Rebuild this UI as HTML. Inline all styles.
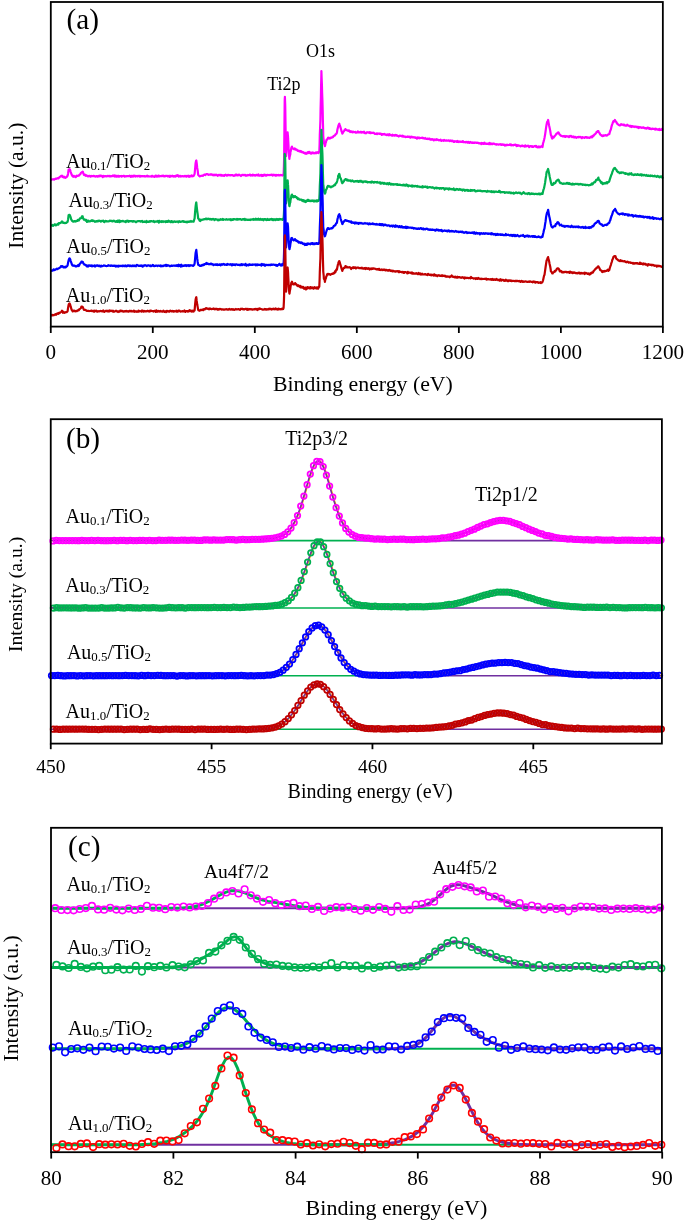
<!DOCTYPE html>
<html><head><meta charset="utf-8"><title>XPS spectra</title>
<style>
html,body{margin:0;padding:0;background:#fff;width:685px;height:1221px;overflow:hidden}
svg{display:block;will-change:transform}
text{font-family:"Liberation Serif", serif;fill:#000}
</style></head><body>
<svg width="685" height="1221" viewBox="0 0 685 1221">
<rect width="685" height="1221" fill="#fff"/>
<g fill="none" stroke-width="2.2" stroke-linejoin="round">
<path stroke="#ff00ff" d="M50.8 179.8 51.3 179.8 51.8 179.6 52.3 179.3 52.8 179.4 53.3 179.2 53.8 179.4 54.3 179.7 54.9 178.9 55.4 178.7 55.9 179.0 56.4 178.8 56.9 178.6 57.4 178.2 57.9 178.4 58.4 178.5 58.9 177.5 59.4 177.5 60.0 176.7 60.5 176.5 61.0 176.0 61.5 176.3 62.0 175.6 62.5 176.6 63.0 177.1 63.5 177.4 64.0 176.7 64.5 177.4 65.1 177.7 65.6 177.8 66.1 177.3 66.6 177.0 67.1 176.3 67.6 175.7 68.1 173.4 68.6 169.7 69.1 169.4 69.6 169.1 70.2 170.2 70.7 172.0 71.2 173.4 71.7 174.8 72.2 175.8 72.7 176.3 73.2 176.8 73.7 175.8 74.2 176.7 74.7 176.5 75.3 176.3 75.8 177.1 76.3 176.5 76.8 175.7 77.3 176.0 77.8 176.0 78.3 175.6 78.8 175.7 79.3 174.9 79.8 174.5 80.4 174.2 80.9 172.9 81.4 172.6 81.9 172.1 82.4 172.1 82.7 171.6 82.9 172.3 83.4 173.4 83.9 174.8 84.4 175.2 84.9 174.6 85.5 175.1 86.0 175.9 86.5 175.3 87.0 175.8 87.5 176.0 88.0 176.5 88.5 176.3 89.0 175.9 89.5 175.9 90.0 176.0 90.6 176.6 91.1 175.9 91.6 176.0 92.1 176.2 92.6 176.1 93.1 176.1 93.6 175.8 94.1 176.1 94.6 176.0 95.1 176.6 95.7 176.4 96.2 176.2 96.7 176.4 97.2 176.1 97.7 176.6 98.2 176.2 98.7 176.4 99.2 175.7 99.7 176.3 100.2 175.6 100.8 175.5 101.3 176.1 101.8 175.9 102.3 176.3 102.8 177.0 103.3 175.9 103.8 176.0 104.3 176.3 104.8 176.4 105.4 176.1 105.9 176.1 106.4 176.4 106.9 176.4 107.4 175.8 107.9 176.2 108.4 176.2 108.9 175.8 109.4 176.3 109.9 175.9 110.5 176.5 111.0 176.3 111.5 176.2 112.0 176.0 112.5 176.2 113.0 175.5 113.5 175.8 114.0 176.3 114.5 175.5 115.0 176.5 115.6 175.6 116.1 176.5 116.6 175.9 117.1 176.5 117.6 176.2 118.1 175.7 118.6 176.6 119.1 176.7 119.6 176.2 120.1 176.1 120.7 176.1 121.2 175.9 121.7 176.6 122.2 176.0 122.7 176.2 123.2 175.9 123.7 176.0 124.2 175.8 124.7 176.6 125.2 176.1 125.8 176.5 126.3 176.2 126.8 176.0 127.3 176.1 127.8 176.0 128.3 176.2 128.8 176.1 129.3 176.1 129.8 175.7 130.3 175.9 130.9 176.8 131.4 176.0 131.9 175.8 132.4 176.3 132.9 176.7 133.4 175.7 133.9 176.1 134.4 176.0 134.9 175.6 135.4 176.5 136.0 176.2 136.5 176.2 137.0 175.9 137.5 176.4 138.0 176.0 138.5 176.1 139.0 175.8 139.5 175.8 140.0 176.7 140.5 176.0 141.1 176.3 141.6 176.2 142.1 176.0 142.6 176.0 143.1 176.4 143.6 176.1 144.1 176.1 144.6 176.2 145.1 176.6 145.6 176.4 146.2 176.3 146.7 176.0 147.2 175.7 147.7 176.5 148.2 176.5 148.7 176.2 149.2 176.4 149.7 176.5 150.2 176.5 150.7 176.5 151.3 176.0 151.8 176.7 152.3 175.8 152.8 176.5 153.3 176.4 153.8 176.5 154.3 176.9 154.8 176.7 155.3 175.8 155.9 175.6 156.4 176.5 156.9 175.8 157.4 176.2 157.9 176.5 158.4 175.6 158.9 175.5 159.4 176.3 159.9 176.2 160.4 176.1 161.0 176.2 161.5 175.9 162.0 175.7 162.5 176.1 163.0 175.9 163.5 175.6 164.0 176.4 164.5 176.2 165.0 176.3 165.5 175.9 166.1 176.0 166.6 175.9 167.1 175.9 167.6 176.3 168.1 175.9 168.6 176.3 169.1 176.3 169.6 176.9 170.1 175.7 170.6 176.5 171.2 176.2 171.7 176.2 172.2 175.7 172.7 176.0 173.2 176.5 173.7 176.2 174.2 176.2 174.7 176.1 175.2 176.6 175.7 176.2 176.3 175.4 176.8 176.0 177.3 175.5 177.8 175.1 178.3 176.0 178.8 176.7 179.3 176.2 179.8 175.8 180.3 175.9 180.8 176.6 181.4 176.3 181.9 176.2 182.4 176.2 182.9 176.2 183.4 176.5 183.9 176.4 184.4 176.3 184.9 175.8 185.4 176.4 185.9 176.0 186.5 176.6 187.0 175.8 187.5 176.2 188.0 176.2 188.5 175.7 189.0 176.8 189.5 176.7 190.0 176.0 190.5 176.5 191.0 176.3 191.6 175.3 192.1 176.3 192.6 176.2 193.1 176.2 193.6 175.8 194.1 175.0 194.6 173.9 195.1 168.9 195.6 163.1 196.1 160.7 196.3 160.5 196.7 163.1 197.2 167.9 197.7 170.6 198.2 175.0 198.7 175.4 199.2 176.0 199.7 176.4 200.2 176.1 200.7 176.1 201.2 175.8 201.8 175.7 202.3 175.6 202.8 175.9 203.3 175.4 203.8 175.0 204.3 174.6 204.8 174.5 205.3 175.1 205.8 174.5 206.4 174.2 206.9 174.2 207.4 174.0 207.9 174.4 208.4 174.8 208.9 174.5 209.4 174.6 209.9 174.6 210.4 174.7 210.9 174.2 211.5 174.7 212.0 174.5 212.5 175.1 213.0 174.6 213.5 175.1 214.0 175.4 214.5 174.8 215.0 174.7 215.5 175.1 216.0 175.0 216.6 174.7 217.1 175.2 217.6 175.8 218.1 175.0 218.6 175.1 219.1 174.8 219.6 175.3 220.1 174.8 220.6 174.8 221.1 175.6 221.7 174.9 222.2 175.6 222.7 175.7 223.2 175.3 223.7 175.4 224.2 175.9 224.7 175.1 225.2 175.0 225.7 174.7 226.2 175.2 226.8 175.7 227.3 175.5 227.8 174.9 228.3 174.9 228.8 175.0 229.3 175.3 229.8 175.1 230.3 175.3 230.8 175.3 231.3 175.1 231.9 175.2 232.4 175.3 232.9 175.2 233.4 175.4 233.9 175.9 234.4 175.4 234.9 175.2 235.4 174.6 235.9 175.3 236.4 174.5 237.0 174.7 237.5 175.5 238.0 175.4 238.5 175.1 239.0 174.6 239.5 175.1 240.0 175.0 240.5 175.4 241.0 176.0 241.5 175.3 242.1 174.9 242.6 174.8 243.1 175.2 243.6 175.1 244.1 174.8 244.6 175.2 245.1 174.8 245.6 175.6 246.1 175.6 246.6 175.6 247.2 175.0 247.7 175.4 248.2 175.2 248.7 175.1 249.2 175.1 249.7 174.7 250.2 174.7 250.7 175.5 251.2 175.1 251.7 175.3 252.3 175.6 252.8 174.6 253.3 174.9 253.8 175.3 254.3 175.3 254.8 175.1 255.3 175.6 255.8 175.3 256.3 174.8 256.9 174.9 257.4 175.5 257.9 175.4 258.4 174.5 258.9 175.7 259.4 175.4 259.9 175.7 260.4 175.1 260.9 175.1 261.4 174.8 262.0 176.1 262.5 175.1 263.0 175.8 263.5 175.0 264.0 175.3 264.5 174.6 265.0 175.1 265.5 175.5 266.0 174.8 266.5 175.6 267.1 175.3 267.6 174.8 268.1 175.0 268.6 175.0 269.1 175.2 269.6 175.0 270.1 174.9 270.6 175.1 271.1 174.8 271.6 174.7 272.2 175.2 272.7 175.5 273.2 174.7 273.7 175.2 274.2 175.0 274.7 174.9 275.2 175.5 275.7 175.0 276.2 175.7 276.7 174.9 277.3 175.3 277.8 175.1 278.3 174.9 278.8 175.4 279.3 175.1 279.8 175.4 280.3 175.2 280.8 174.8 281.3 175.2 281.8 175.2 282.4 175.5 282.9 174.9 283.1 175.0 283.4 174.1 283.6 174.7 283.9 166.9 284.1 159.4 284.4 130.0 284.7 100.4 284.9 96.9 285.2 104.9 285.3 109.7 285.4 117.1 285.7 136.4 285.7 139.7 285.9 147.7 286.1 156.2 286.2 154.6 286.4 149.6 286.6 144.7 286.7 143.5 286.9 137.8 287.2 134.7 287.2 133.7 287.5 133.0 287.6 132.4 287.7 133.6 288.0 136.3 288.1 138.7 288.2 140.0 288.5 145.6 288.7 151.6 289.0 154.0 289.2 157.3 289.4 158.8 289.5 157.6 289.8 156.2 290.0 155.2 290.3 154.5 290.5 151.5 290.8 151.2 291.0 149.1 291.3 148.4 291.5 147.3 291.8 147.3 292.0 146.6 292.0 146.9 292.3 148.1 292.6 148.4 292.8 148.4 293.1 148.7 293.3 148.8 293.6 149.2 293.8 149.2 294.1 149.1 294.3 148.9 294.6 148.4 294.9 148.7 295.0 148.6 295.1 149.1 295.4 149.5 295.6 149.0 295.9 149.0 296.1 149.4 296.4 149.4 296.6 149.6 296.9 150.0 297.1 149.9 297.4 150.6 297.7 150.6 297.9 150.9 298.2 150.8 298.4 150.7 298.7 150.7 298.9 151.1 299.2 151.0 299.4 151.4 299.7 151.4 300.0 151.0 300.2 151.6 300.5 151.2 300.7 151.5 301.0 151.7 301.2 151.2 301.5 152.1 301.7 152.2 302.0 152.1 302.2 152.1 302.3 152.2 302.5 152.0 302.8 152.4 303.0 152.4 303.3 152.7 303.5 152.3 303.8 152.9 304.0 153.0 304.3 153.0 304.5 153.0 304.8 153.4 305.1 152.8 305.3 153.6 305.6 153.6 305.8 153.7 306.0 153.8 306.1 153.4 306.3 153.4 306.6 153.6 306.8 153.4 307.1 153.2 307.4 152.4 307.6 153.0 307.9 153.1 308.0 153.0 308.1 152.7 308.4 152.1 308.6 153.0 308.9 152.7 309.1 151.9 309.4 152.9 309.6 152.3 309.9 152.4 310.2 152.7 310.4 153.4 310.7 152.8 310.9 153.1 311.2 153.6 311.4 153.6 311.7 153.0 311.9 152.9 312.2 152.5 312.5 152.7 312.7 153.1 313.0 153.1 313.2 153.0 313.5 153.3 313.7 152.7 314.0 152.9 314.2 153.2 314.5 153.2 314.7 153.3 315.0 153.1 315.3 152.8 315.5 153.1 315.8 152.6 316.0 152.4 316.3 153.1 316.5 152.9 316.8 153.0 317.0 152.3 317.3 152.8 317.6 152.7 317.8 152.6 318.1 152.1 318.3 152.8 318.6 153.0 318.8 152.6 319.1 152.0 319.3 152.0 319.6 144.3 319.8 135.0 320.1 128.0 320.4 120.2 320.6 108.6 320.9 97.3 321.1 85.4 321.4 73.4 321.4 71.1 321.6 77.4 321.9 84.5 322.1 92.4 322.4 100.3 322.7 111.6 322.9 121.8 323.2 132.8 323.2 135.1 323.4 137.8 323.7 140.1 323.9 143.5 324.2 143.4 324.4 144.3 324.7 145.0 324.9 146.1 325.2 145.2 325.5 143.4 325.7 142.6 326.0 142.1 326.2 140.8 326.7 139.5 327.2 139.4 327.8 138.2 327.9 137.9 328.3 137.6 328.8 138.3 329.3 138.0 329.8 138.6 330.3 138.0 330.8 137.7 331.3 137.9 331.8 137.3 332.3 137.5 332.9 137.1 333.4 136.2 333.9 136.1 334.4 135.5 334.9 135.5 335.3 134.6 335.4 134.5 335.9 134.2 336.4 133.7 336.9 132.7 337.4 129.6 338.0 127.3 338.2 126.5 338.5 125.4 339.0 124.1 339.3 123.7 339.5 124.4 340.0 125.8 340.5 127.4 341.0 129.1 341.5 131.3 342.0 132.4 342.3 133.6 342.5 133.3 343.1 132.6 343.6 131.4 344.1 131.1 344.6 130.0 345.1 129.7 345.4 129.1 345.6 130.0 346.1 129.9 346.6 130.0 347.1 130.4 347.6 130.5 348.2 131.0 348.7 130.3 349.2 130.6 349.7 130.9 350.2 132.1 350.7 131.6 351.2 131.3 351.7 131.7 352.2 132.3 352.7 131.6 353.3 131.6 353.8 132.2 354.3 132.0 354.8 132.2 355.3 131.8 355.8 132.7 356.3 132.7 356.8 132.3 357.3 132.4 357.9 131.4 358.4 132.4 358.9 132.1 359.4 132.4 359.9 132.5 360.4 132.2 360.9 131.7 361.4 132.5 361.9 132.1 362.4 132.3 363.0 132.2 363.5 132.4 364.0 131.7 364.5 133.0 365.0 132.7 365.5 133.0 366.0 133.3 366.5 132.7 367.0 132.1 367.5 132.4 368.1 132.3 368.6 132.6 369.1 132.9 369.6 132.2 370.1 133.0 370.6 132.4 371.1 133.1 371.6 132.9 372.0 132.9 372.1 133.0 372.6 132.9 373.2 132.9 373.7 132.6 374.2 133.2 374.7 133.9 375.2 134.0 375.7 133.9 376.2 133.7 376.7 133.3 377.2 134.1 377.7 133.6 378.3 133.7 378.8 133.6 379.3 133.8 379.8 133.7 380.3 133.9 380.8 133.6 381.3 133.9 381.8 134.9 382.3 134.1 382.8 134.1 383.4 134.4 383.9 134.5 384.4 134.0 384.9 134.3 385.4 134.8 385.9 134.6 386.4 134.6 386.9 135.2 387.4 134.5 387.9 134.8 388.5 134.6 389.0 135.4 389.5 134.2 390.0 134.7 390.5 134.8 391.0 135.3 391.5 135.3 392.0 135.7 392.5 134.7 393.0 135.6 393.6 135.3 394.1 135.2 394.6 135.7 395.1 135.2 395.6 134.9 396.1 135.5 396.6 135.2 397.1 135.5 397.6 135.9 398.1 136.0 398.7 136.5 399.2 135.9 399.7 135.5 400.2 135.8 400.7 135.8 401.2 135.8 401.7 136.4 402.2 136.1 402.7 135.7 403.2 136.7 403.8 136.4 404.0 136.6 404.3 136.6 404.8 136.8 405.3 136.6 405.8 137.1 406.3 136.9 406.8 136.9 407.3 137.0 407.8 136.4 408.4 136.9 408.9 136.9 409.4 137.1 409.9 136.6 410.4 137.7 410.9 137.2 411.4 136.8 411.9 136.7 412.4 137.2 412.9 137.4 413.5 137.2 414.0 137.5 414.5 137.3 415.0 137.8 415.5 137.4 416.0 137.7 416.5 138.1 417.0 138.7 417.5 137.5 418.0 137.7 418.6 137.7 419.1 138.3 419.6 137.7 420.1 137.9 420.6 138.1 421.1 137.9 421.6 137.9 422.1 138.1 422.6 137.6 423.1 137.9 423.7 138.3 424.2 138.6 424.7 138.5 425.2 138.0 425.7 138.5 426.2 139.0 426.7 139.0 427.2 138.8 427.7 138.6 428.2 139.1 428.8 138.8 429.3 138.6 429.8 138.8 430.3 139.6 430.8 139.3 431.3 139.6 431.8 139.1 432.3 139.7 432.8 139.2 433.3 139.4 433.9 140.4 434.4 139.8 434.9 139.4 435.4 139.6 435.9 139.8 436.0 140.1 436.4 139.6 436.9 139.2 437.4 139.7 437.9 139.9 438.4 139.9 439.0 140.4 439.5 140.1 440.0 140.3 440.5 139.7 441.0 140.4 441.5 140.9 442.0 140.5 442.5 140.3 443.0 140.3 443.5 140.9 444.1 140.0 444.6 140.3 445.1 140.6 445.6 140.7 446.1 140.4 446.6 140.7 447.1 140.5 447.6 140.7 448.1 140.6 448.6 140.3 449.2 140.7 449.7 141.1 450.2 140.5 450.7 140.8 451.2 141.1 451.7 140.6 452.2 141.1 452.7 140.7 453.2 141.5 453.7 141.9 454.3 141.9 454.8 141.1 455.3 141.5 455.8 141.3 456.3 141.4 456.8 141.9 457.3 140.9 457.8 141.8 458.3 141.5 458.8 142.0 459.4 141.6 459.9 141.4 460.4 141.7 460.9 141.9 461.4 141.7 461.9 141.9 462.4 141.6 462.9 141.1 463.4 142.2 464.0 142.2 464.5 142.0 465.0 142.0 465.5 142.4 466.0 141.9 466.5 141.9 467.0 142.1 467.5 142.6 468.0 141.8 468.5 142.7 468.5 142.1 469.1 142.0 469.6 142.8 470.1 142.4 470.6 142.0 471.1 142.4 471.6 142.8 472.1 143.0 472.6 142.4 473.1 142.8 473.6 142.9 474.2 142.5 474.7 142.8 475.2 142.7 475.7 142.6 476.2 142.7 476.7 142.9 477.2 142.9 477.7 142.7 478.2 142.8 478.7 143.4 479.3 143.1 479.8 143.4 480.3 143.5 480.8 143.3 481.3 144.0 481.8 142.9 482.3 143.5 482.8 143.2 483.3 144.0 483.8 143.9 484.4 142.7 484.9 143.1 485.4 143.7 485.9 143.8 486.4 143.8 486.9 143.5 487.4 143.8 487.9 143.9 488.4 143.6 488.9 144.1 489.5 142.9 490.0 144.0 490.5 143.4 491.0 144.2 491.5 143.8 492.0 143.6 492.5 144.1 493.0 143.7 493.5 143.7 494.0 143.5 494.6 144.1 495.1 144.3 495.6 144.5 496.1 144.1 496.6 144.6 497.1 144.3 497.6 144.3 498.1 144.5 498.6 144.7 499.1 144.3 499.7 144.4 500.2 144.4 500.6 144.5 500.7 144.2 501.2 144.9 501.7 144.4 502.2 144.8 502.7 144.3 503.2 144.8 503.7 144.8 504.2 144.6 504.8 145.5 505.3 144.9 505.8 145.4 506.3 145.2 506.8 144.7 507.3 144.8 507.8 145.1 508.3 145.0 508.8 145.0 509.3 144.9 509.9 144.4 510.4 145.0 510.9 144.4 511.4 145.3 511.9 145.0 512.4 145.0 512.9 145.2 513.4 145.4 513.9 144.8 514.5 144.8 515.0 145.0 515.5 144.7 516.0 145.1 516.5 146.0 517.0 145.2 517.5 145.8 518.0 145.1 518.5 145.7 519.0 145.5 519.6 145.7 520.1 145.9 520.6 146.4 521.1 145.8 521.6 145.9 522.1 145.5 522.6 146.1 523.1 145.8 523.6 146.2 524.1 146.0 524.7 146.6 525.2 145.3 525.7 146.0 526.2 146.4 526.7 146.0 527.2 145.9 527.7 146.1 528.2 145.7 528.7 146.3 529.2 147.1 529.8 146.7 530.3 146.0 530.8 146.1 531.3 146.3 531.8 146.8 532.3 146.2 532.7 146.3 532.8 146.8 533.3 146.8 533.8 146.4 534.3 146.2 534.9 146.1 535.4 146.4 535.9 145.9 536.4 147.0 536.9 146.5 537.4 146.9 537.9 147.4 538.4 147.2 538.9 146.4 539.4 147.2 540.0 147.3 540.5 146.6 541.0 146.5 541.5 146.7 542.0 146.0 542.5 147.0 543.0 143.5 543.5 141.9 544.0 140.0 544.5 137.9 545.1 134.6 545.6 131.1 546.1 127.4 546.6 124.4 547.1 122.0 547.6 121.5 548.1 120.0 548.6 122.9 549.1 125.5 549.6 127.7 550.2 130.6 550.7 133.9 550.9 135.1 551.2 135.3 551.7 137.4 552.2 138.6 552.7 136.9 553.2 137.2 553.7 137.6 554.2 136.6 554.7 136.1 555.3 135.3 555.8 134.6 556.3 134.1 556.8 133.3 557.3 133.4 557.8 132.7 558.3 132.3 558.8 132.9 559.3 134.1 559.8 134.7 560.4 135.2 560.9 135.8 561.4 135.8 561.9 136.1 562.4 136.3 562.9 136.3 563.4 136.2 563.9 136.2 564.4 136.6 565.0 136.0 565.5 136.8 566.0 136.4 566.5 136.2 567.0 136.3 567.5 136.3 568.0 136.6 568.5 136.3 569.0 137.0 569.5 136.3 570.1 135.8 570.6 136.4 571.1 136.0 571.6 136.7 572.1 137.1 572.6 137.0 573.1 136.4 573.6 136.6 574.1 137.5 574.6 137.0 575.2 136.9 575.7 137.3 576.2 137.9 576.7 137.5 577.2 137.1 577.7 137.2 578.2 137.3 578.7 136.9 579.2 136.8 579.7 137.2 580.3 136.9 580.8 137.3 581.3 137.3 581.8 138.2 582.3 137.1 582.8 137.4 583.3 137.4 583.8 137.6 584.3 137.9 584.8 137.4 585.4 137.3 585.9 137.0 586.4 137.3 586.9 137.8 587.4 137.7 587.9 137.4 588.4 137.6 588.9 137.8 589.4 138.0 589.9 137.4 590.5 137.3 591.0 136.6 591.5 136.7 592.0 137.4 592.5 135.9 593.0 136.4 593.5 136.0 594.0 135.2 594.5 134.5 595.0 134.2 595.6 133.6 596.1 133.0 596.6 131.8 597.1 132.0 597.6 131.3 598.1 131.0 598.4 131.1 598.6 131.7 599.1 132.6 599.6 133.0 600.1 134.3 600.7 134.8 601.2 135.3 601.7 135.8 602.2 135.7 602.4 135.8 602.7 136.2 603.2 135.3 603.7 135.8 604.2 135.5 604.7 135.5 605.2 135.0 605.8 135.2 606.3 135.5 606.8 135.6 607.3 135.3 607.8 134.7 608.3 134.4 608.8 134.0 609.3 134.1 609.8 132.2 610.3 130.7 610.9 129.4 611.4 127.0 611.9 125.1 612.4 123.9 612.9 122.4 613.4 121.1 613.9 121.6 614.4 120.9 614.9 119.9 615.1 120.5 615.5 121.3 616.0 121.6 616.5 122.4 617.0 123.4 617.5 123.9 618.0 124.3 618.5 124.8 619.0 125.1 619.5 125.4 620.0 125.4 620.6 125.0 621.1 124.2 621.6 124.6 622.1 124.6 622.6 124.5 623.1 125.0 623.6 124.7 624.1 124.6 624.6 125.5 625.1 125.4 625.4 125.3 625.7 125.6 626.2 125.7 626.7 125.6 627.2 124.7 627.7 125.4 628.2 125.6 628.7 125.5 629.2 126.0 629.7 126.4 630.2 125.9 630.8 125.8 631.3 127.0 631.8 126.2 632.3 126.1 632.8 126.6 633.3 126.7 633.8 126.4 634.3 127.0 634.8 126.6 635.3 126.5 635.9 126.9 636.4 127.2 636.9 126.7 637.4 127.1 637.9 127.0 638.4 128.1 638.9 126.9 639.4 127.7 639.9 127.2 640.4 127.3 641.0 127.6 641.5 127.7 642.0 127.9 642.5 127.6 643.0 127.4 643.5 127.4 644.0 127.9 644.5 128.0 645.0 128.3 645.5 128.0 646.1 128.3 646.6 128.6 647.1 128.1 647.6 127.6 648.1 127.8 648.6 127.8 649.1 128.9 649.6 128.1 650.1 128.9 650.6 128.7 651.2 129.2 651.7 129.0 652.2 128.7 652.7 128.7 653.2 128.9 653.7 129.0 654.2 128.8 654.7 129.0 655.2 129.7 655.7 128.6 656.3 129.3 656.8 129.0 657.3 129.4 657.8 129.7 658.3 129.4 658.8 129.8 659.3 129.0 659.8 130.0 660.3 129.5 660.8 130.0 661.4 129.9 661.9 129.0 662.4 129.7 662.9 130.1"/>
<path stroke="#00b050" d="M50.8 226.0 51.3 225.5 51.8 225.5 52.3 224.8 52.8 225.8 53.3 225.8 53.8 225.1 54.3 224.8 54.9 224.2 55.4 224.9 55.9 225.4 56.4 224.7 56.9 224.7 57.4 224.4 57.9 223.8 58.4 224.5 58.9 223.2 59.4 223.3 60.0 223.1 60.5 223.0 61.0 222.5 61.5 222.2 62.0 221.4 62.5 221.7 63.0 222.7 63.5 223.0 64.0 222.8 64.5 222.9 65.1 223.2 65.6 222.8 66.1 223.0 66.6 222.3 67.1 222.4 67.6 221.8 68.1 219.4 68.6 215.2 69.1 214.9 69.6 214.8 70.2 216.0 70.7 217.4 71.2 219.5 71.7 220.1 72.2 221.1 72.7 221.1 73.2 221.6 73.7 221.6 74.2 221.0 74.7 221.1 75.3 221.6 75.8 221.4 76.3 220.8 76.8 221.1 77.3 220.9 77.8 220.0 78.3 220.3 78.8 220.5 79.3 219.5 79.8 218.4 80.4 218.4 80.9 218.2 81.4 217.9 81.9 216.4 82.4 217.9 82.7 216.4 82.9 217.7 83.4 218.8 83.9 219.7 84.4 219.7 84.9 219.5 85.5 220.5 86.0 220.3 86.5 220.0 87.0 221.9 87.5 221.1 88.0 221.5 88.5 220.6 89.0 221.4 89.5 221.5 90.0 221.5 90.6 221.0 91.1 220.6 91.6 220.9 92.1 220.2 92.6 220.4 93.1 221.1 93.6 220.7 94.1 221.0 94.6 221.0 95.1 221.8 95.7 221.5 96.2 221.1 96.7 221.5 97.2 220.9 97.7 221.0 98.2 221.4 98.7 220.7 99.2 221.0 99.7 220.7 100.2 221.2 100.8 221.7 101.3 220.9 101.8 221.2 102.3 220.8 102.8 220.8 103.3 220.7 103.8 221.7 104.3 222.0 104.8 221.3 105.4 220.9 105.9 221.4 106.4 221.1 106.9 221.5 107.4 221.3 107.9 221.3 108.4 221.4 108.9 221.0 109.4 221.1 109.9 220.6 110.5 221.0 111.0 220.7 111.5 221.2 112.0 220.9 112.5 221.3 113.0 221.4 113.5 220.7 114.0 220.9 114.5 220.9 115.0 221.5 115.6 221.8 116.1 221.5 116.6 221.1 117.1 221.8 117.6 220.7 118.1 221.8 118.6 221.0 119.1 220.3 119.6 222.2 120.1 221.8 120.7 220.9 121.2 221.3 121.7 221.2 122.2 221.3 122.7 220.8 123.2 221.0 123.7 221.4 124.2 221.4 124.7 221.7 125.2 221.3 125.8 222.1 126.3 221.0 126.8 221.4 127.3 220.6 127.8 220.9 128.3 221.8 128.8 221.0 129.3 221.5 129.8 221.3 130.3 221.0 130.9 221.2 131.4 221.1 131.9 221.2 132.4 221.6 132.9 221.6 133.4 221.1 133.9 221.0 134.4 221.4 134.9 221.3 135.4 221.7 136.0 222.3 136.5 221.7 137.0 221.4 137.5 221.3 138.0 221.1 138.5 221.1 139.0 221.0 139.5 221.2 140.0 221.2 140.5 221.6 141.1 221.2 141.6 221.3 142.1 221.0 142.6 222.0 143.1 221.6 143.6 222.0 144.1 221.7 144.6 221.9 145.1 221.3 145.6 221.7 146.2 222.4 146.7 221.0 147.2 221.8 147.7 222.0 148.2 221.6 148.7 221.7 149.2 221.9 149.7 221.2 150.2 221.6 150.7 221.1 151.3 221.2 151.8 221.2 152.3 221.4 152.8 221.5 153.3 221.6 153.8 221.0 154.3 222.2 154.8 221.9 155.3 221.7 155.9 221.3 156.4 221.4 156.9 221.7 157.4 221.6 157.9 220.9 158.4 221.8 158.9 222.5 159.4 220.8 159.9 221.9 160.4 221.6 161.0 221.5 161.5 222.0 162.0 221.1 162.5 221.6 163.0 222.0 163.5 221.4 164.0 221.4 164.5 221.6 165.0 221.4 165.5 222.1 166.1 221.2 166.6 221.9 167.1 221.1 167.6 221.8 168.1 221.5 168.6 220.6 169.1 221.6 169.6 221.2 170.1 221.4 170.6 222.1 171.2 221.2 171.7 221.2 172.2 222.1 172.7 221.6 173.2 222.1 173.7 221.7 174.2 221.3 174.7 221.6 175.2 222.0 175.7 221.9 176.3 221.6 176.8 221.6 177.3 221.6 177.8 221.4 178.3 222.3 178.8 221.6 179.3 221.2 179.8 221.4 180.3 221.9 180.8 221.9 181.4 221.6 181.9 221.4 182.4 221.6 182.9 221.0 183.4 221.2 183.9 221.9 184.4 221.5 184.9 221.8 185.4 222.1 185.9 221.9 186.5 221.7 187.0 222.4 187.5 221.9 188.0 221.5 188.5 221.9 189.0 221.8 189.5 221.4 190.0 221.7 190.5 221.6 191.0 221.0 191.6 221.6 192.1 221.6 192.6 221.5 193.1 221.1 193.6 221.6 194.1 220.0 194.6 218.4 195.1 211.9 195.6 206.5 196.1 203.0 196.3 202.5 196.7 206.6 197.2 210.8 197.7 214.4 198.2 218.5 198.7 218.9 199.2 219.7 199.7 220.8 200.2 221.0 200.7 219.7 201.2 220.1 201.8 219.9 202.3 219.7 202.8 219.6 203.3 219.4 203.8 219.6 204.3 219.0 204.8 219.2 205.3 219.1 205.8 218.6 206.4 218.7 206.9 219.3 207.4 218.9 207.9 218.7 208.4 219.0 208.9 218.7 209.4 219.2 209.9 219.4 210.4 218.9 210.9 219.1 211.5 219.6 212.0 219.1 212.5 219.3 213.0 218.9 213.5 219.0 214.0 219.2 214.5 220.1 215.0 219.3 215.5 219.2 216.0 219.3 216.6 219.4 217.1 219.7 217.6 219.6 218.1 220.3 218.6 219.7 219.1 220.1 219.6 219.7 220.1 219.8 220.6 219.1 221.1 219.6 221.7 219.6 222.2 219.5 222.7 218.9 223.2 219.9 223.7 219.5 224.2 219.5 224.7 219.5 225.2 219.5 225.7 219.7 226.2 219.2 226.8 219.3 227.3 219.7 227.8 219.7 228.3 219.5 228.8 219.4 229.3 219.3 229.8 219.6 230.3 220.0 230.8 219.2 231.3 220.1 231.9 219.9 232.4 219.4 232.9 219.9 233.4 219.1 233.9 219.0 234.4 219.1 234.9 219.4 235.4 219.5 235.9 219.4 236.4 219.6 237.0 218.8 237.5 219.7 238.0 219.1 238.5 219.3 239.0 219.4 239.5 219.2 240.0 219.1 240.5 219.2 241.0 219.5 241.5 219.8 242.1 219.7 242.6 219.2 243.1 219.3 243.6 219.2 244.1 219.7 244.6 218.8 245.1 220.0 245.6 219.4 246.1 219.3 246.6 219.7 247.2 219.9 247.7 219.6 248.2 219.9 248.7 219.6 249.2 220.0 249.7 220.0 250.2 219.5 250.7 220.0 251.2 219.6 251.7 219.5 252.3 219.2 252.8 219.4 253.3 219.8 253.8 219.0 254.3 219.7 254.8 219.6 255.3 219.6 255.8 218.7 256.3 219.5 256.9 219.7 257.4 219.2 257.9 219.5 258.4 218.7 258.9 219.7 259.4 219.3 259.9 219.8 260.4 218.8 260.9 219.7 261.4 219.4 262.0 219.8 262.5 219.2 263.0 219.3 263.5 220.3 264.0 219.2 264.5 219.2 265.0 219.4 265.5 219.1 266.0 219.9 266.5 220.1 267.1 219.2 267.6 218.9 268.1 219.9 268.6 219.8 269.1 219.7 269.6 219.9 270.1 219.1 270.6 219.4 271.1 219.0 271.6 218.9 272.2 219.8 272.7 219.2 273.2 220.2 273.7 219.5 274.2 219.2 274.7 219.7 275.2 220.1 275.7 219.6 276.2 219.0 276.7 219.6 277.3 219.9 277.8 219.2 278.3 219.1 278.8 219.8 279.3 219.5 279.8 219.0 280.3 219.3 280.8 219.1 281.3 219.5 281.8 219.4 282.4 219.8 282.9 219.7 283.1 218.6 283.4 219.1 283.6 219.0 283.9 214.1 284.1 209.5 284.4 181.4 284.7 153.8 284.9 154.3 285.2 159.7 285.3 163.0 285.4 170.9 285.7 187.2 285.7 190.8 285.9 196.9 286.1 203.5 286.2 202.5 286.4 197.3 286.6 193.1 286.7 191.1 286.9 186.6 287.2 181.5 287.2 181.4 287.5 181.1 287.6 180.3 287.7 180.9 288.0 184.9 288.1 185.6 288.2 188.3 288.5 194.1 288.7 200.4 289.0 202.2 289.2 205.2 289.4 206.1 289.5 206.2 289.8 204.2 290.0 203.0 290.3 202.5 290.5 200.4 290.8 198.8 291.0 198.1 291.3 195.9 291.5 195.2 291.8 195.4 292.0 194.5 292.0 195.4 292.3 195.9 292.6 195.7 292.8 196.2 293.1 196.9 293.3 197.3 293.6 196.8 293.8 197.2 294.1 196.2 294.3 196.6 294.6 196.5 294.9 196.4 295.0 196.5 295.1 196.0 295.4 196.9 295.6 196.8 295.9 196.8 296.1 196.8 296.4 197.0 296.6 197.8 296.9 197.5 297.1 198.0 297.4 198.6 297.7 198.8 297.9 199.1 298.2 198.6 298.4 198.4 298.7 199.2 298.9 199.1 299.2 199.4 299.4 199.1 299.7 199.6 300.0 199.6 300.2 199.6 300.5 199.6 300.7 199.7 301.0 199.7 301.2 199.8 301.5 200.2 301.7 199.7 302.0 200.6 302.2 200.0 302.3 200.4 302.5 200.1 302.8 200.2 303.0 201.1 303.3 200.4 303.5 200.1 303.8 200.4 304.0 200.6 304.3 201.6 304.5 201.0 304.8 201.4 305.1 200.8 305.3 201.4 305.6 201.6 305.8 202.1 306.0 201.3 306.1 201.7 306.3 201.4 306.6 200.8 306.8 201.0 307.1 200.8 307.4 200.0 307.6 200.8 307.9 200.7 308.0 200.2 308.1 199.9 308.4 201.0 308.6 200.6 308.9 200.9 309.1 201.0 309.4 200.4 309.6 200.9 309.9 200.6 310.2 200.7 310.4 200.7 310.7 200.8 310.9 201.2 311.2 200.8 311.4 200.7 311.7 200.7 311.9 200.9 312.2 200.5 312.5 200.6 312.7 200.8 313.0 200.6 313.2 200.7 313.5 200.6 313.7 201.5 314.0 201.2 314.2 200.9 314.5 200.7 314.7 201.5 315.0 200.9 315.3 200.7 315.5 200.8 315.8 200.8 316.0 201.2 316.3 200.7 316.5 201.5 316.8 200.4 317.0 201.0 317.3 200.4 317.6 201.3 317.8 200.6 318.1 200.7 318.3 201.0 318.6 200.9 318.8 199.9 319.1 199.9 319.3 199.3 319.6 193.3 319.8 186.6 320.1 180.0 320.4 173.3 320.6 163.2 320.9 152.8 321.1 143.1 321.4 133.2 321.4 129.9 321.6 135.5 321.9 141.5 322.1 148.0 322.4 153.6 322.7 163.3 322.9 172.5 323.2 182.5 323.2 184.2 323.4 185.2 323.7 188.3 323.9 190.9 324.2 191.2 324.4 192.6 324.7 193.2 324.9 193.7 325.2 193.2 325.5 192.4 325.7 190.7 326.0 189.8 326.2 189.7 326.7 188.8 327.2 187.1 327.8 186.0 327.9 185.9 328.3 186.1 328.8 185.9 329.3 186.7 329.8 186.5 330.3 186.7 330.8 187.3 331.3 186.5 331.8 186.5 332.3 186.6 332.9 186.5 333.4 185.7 333.9 185.5 334.4 184.8 334.9 185.3 335.3 184.6 335.4 183.8 335.9 183.4 336.4 182.9 336.9 182.0 337.4 180.2 338.0 177.7 338.2 175.8 338.5 175.5 339.0 174.1 339.3 174.0 339.5 174.5 340.0 177.2 340.5 178.2 341.0 178.9 341.5 180.9 342.0 182.7 342.3 183.2 342.5 183.0 343.1 182.2 343.6 181.6 344.1 180.8 344.6 179.9 345.1 179.9 345.4 179.1 345.6 179.3 346.1 179.2 346.6 179.7 347.1 180.5 347.6 179.7 348.2 180.4 348.7 180.7 349.2 180.4 349.7 180.7 350.2 180.3 350.7 181.2 351.2 181.3 351.7 181.0 352.2 180.4 352.7 180.7 353.3 181.4 353.8 181.7 354.3 181.3 354.8 181.6 355.3 181.0 355.8 181.2 356.3 181.3 356.8 181.4 357.3 180.8 357.9 181.7 358.4 181.8 358.9 181.0 359.4 180.9 359.9 181.6 360.4 181.2 360.9 180.7 361.4 181.8 361.9 181.6 362.4 181.4 363.0 182.3 363.5 181.7 364.0 181.4 364.5 181.7 365.0 181.3 365.5 181.4 366.0 181.9 366.5 181.6 367.0 181.6 367.5 182.4 368.1 182.1 368.6 182.1 369.1 182.1 369.6 182.1 370.1 182.4 370.6 182.0 371.1 182.6 371.6 181.7 372.0 181.9 372.1 181.6 372.6 182.0 373.2 182.3 373.7 182.7 374.2 182.0 374.7 182.3 375.2 182.2 375.7 182.1 376.2 182.0 376.7 182.5 377.2 181.9 377.7 182.6 378.3 182.6 378.8 182.5 379.3 182.4 379.8 182.3 380.3 183.5 380.8 182.4 381.3 183.5 381.8 183.2 382.3 182.9 382.8 182.7 383.4 183.5 383.9 183.8 384.4 182.9 384.9 183.2 385.4 183.7 385.9 183.5 386.4 184.1 386.9 183.3 387.4 183.7 387.9 183.2 388.5 184.4 389.0 183.4 389.5 183.0 390.0 183.8 390.5 183.8 391.0 184.6 391.5 183.8 392.0 184.0 392.5 184.3 393.0 184.7 393.6 184.1 394.1 184.6 394.6 184.4 395.1 184.2 395.6 184.4 396.1 184.4 396.6 184.1 397.1 184.9 397.6 184.1 398.1 185.0 398.7 185.0 399.2 184.7 399.7 184.5 400.2 184.7 400.7 185.0 401.2 185.2 401.7 185.1 402.2 185.3 402.7 184.9 403.2 185.2 403.8 184.6 404.0 185.4 404.3 185.3 404.8 185.1 405.3 185.7 405.8 185.6 406.3 184.4 406.8 185.4 407.3 185.0 407.8 185.9 408.4 186.4 408.9 185.4 409.4 185.7 409.9 185.6 410.4 185.9 410.9 186.0 411.4 186.3 411.9 185.5 412.4 186.5 412.9 185.6 413.5 186.1 414.0 186.5 414.5 186.4 415.0 185.8 415.5 186.0 416.0 186.1 416.5 186.3 417.0 186.7 417.5 185.9 418.0 186.6 418.6 186.7 419.1 186.7 419.6 186.7 420.1 187.1 420.6 186.8 421.1 187.0 421.6 186.9 422.1 187.4 422.6 186.2 423.1 187.3 423.7 186.8 424.2 186.9 424.7 186.7 425.2 186.4 425.7 187.0 426.2 186.9 426.7 187.4 427.2 186.7 427.7 187.8 428.2 187.4 428.8 187.3 429.3 187.2 429.8 187.2 430.3 187.1 430.8 187.4 431.3 187.6 431.8 187.6 432.3 187.2 432.8 187.7 433.3 187.5 433.9 187.9 434.4 188.5 434.9 188.2 435.4 187.9 435.9 187.5 436.0 187.5 436.4 187.5 436.9 188.3 437.4 187.9 437.9 188.2 438.4 188.0 439.0 188.3 439.5 188.8 440.0 188.1 440.5 188.2 441.0 188.1 441.5 188.7 442.0 188.1 442.5 188.1 443.0 188.0 443.5 188.1 444.1 188.8 444.6 189.5 445.1 188.3 445.6 189.0 446.1 188.8 446.6 188.4 447.1 188.7 447.6 188.8 448.1 188.6 448.6 189.6 449.2 188.3 449.7 189.1 450.2 189.1 450.7 188.8 451.2 189.1 451.7 189.4 452.2 189.2 452.7 189.3 453.2 189.5 453.7 188.5 454.3 189.8 454.8 190.1 455.3 189.7 455.8 189.8 456.3 188.9 456.8 189.4 457.3 189.2 457.8 189.3 458.3 189.9 458.8 189.3 459.4 189.6 459.9 189.0 460.4 189.7 460.9 189.8 461.4 189.5 461.9 189.6 462.4 190.5 462.9 189.5 463.4 189.6 464.0 189.7 464.5 190.4 465.0 190.8 465.5 190.2 466.0 189.9 466.5 190.0 467.0 190.5 467.5 189.9 468.0 190.8 468.5 190.8 468.5 190.3 469.1 190.5 469.6 190.6 470.1 190.9 470.6 190.0 471.1 190.8 471.6 190.3 472.1 190.2 472.6 190.6 473.1 190.5 473.6 190.2 474.2 190.0 474.7 190.3 475.2 191.2 475.7 191.4 476.2 191.0 476.7 191.2 477.2 190.6 477.7 190.8 478.2 190.9 478.7 190.5 479.3 190.6 479.8 191.0 480.3 190.8 480.8 190.6 481.3 191.2 481.8 191.0 482.3 191.4 482.8 191.1 483.3 191.0 483.8 191.2 484.4 191.1 484.9 191.0 485.4 191.1 485.9 191.5 486.4 191.5 486.9 191.8 487.4 190.8 487.9 191.3 488.4 191.3 488.9 191.5 489.5 191.3 490.0 191.3 490.5 191.8 491.0 191.6 491.5 191.2 492.0 192.1 492.5 192.0 493.0 191.5 493.5 192.0 494.0 191.5 494.6 192.2 495.1 191.7 495.6 191.6 496.1 191.7 496.6 191.6 497.1 192.0 497.6 192.0 498.1 192.0 498.6 191.8 499.1 190.8 499.7 192.1 500.2 191.4 500.6 192.2 500.7 192.5 501.2 192.3 501.7 192.1 502.2 192.2 502.7 192.2 503.2 192.1 503.7 192.1 504.2 192.0 504.8 192.8 505.3 192.4 505.8 192.7 506.3 192.3 506.8 192.5 507.3 192.4 507.8 192.7 508.3 192.8 508.8 192.6 509.3 192.3 509.9 192.3 510.4 193.2 510.9 192.6 511.4 192.6 511.9 193.2 512.4 193.1 512.9 193.0 513.4 192.7 513.9 193.6 514.5 193.0 515.0 193.1 515.5 192.8 516.0 192.4 516.5 192.5 517.0 193.1 517.5 193.1 518.0 192.9 518.5 192.6 519.0 192.6 519.6 193.0 520.1 192.6 520.6 193.5 521.1 193.6 521.6 194.2 522.1 193.5 522.6 193.1 523.1 193.0 523.6 192.1 524.1 193.1 524.7 193.3 525.2 193.7 525.7 193.6 526.2 193.7 526.7 193.6 527.2 193.7 527.7 194.0 528.2 193.2 528.7 193.4 529.2 193.1 529.8 194.2 530.3 194.1 530.8 194.0 531.3 193.3 531.8 193.8 532.3 193.7 532.7 193.8 532.8 193.7 533.3 194.0 533.8 193.7 534.3 194.2 534.9 194.0 535.4 193.8 535.9 193.9 536.4 193.8 536.9 194.2 537.4 193.9 537.9 194.1 538.4 193.9 538.9 193.5 539.4 194.4 540.0 193.7 540.5 194.3 541.0 194.2 541.5 193.5 542.0 193.8 542.5 193.9 543.0 191.8 543.5 189.6 544.0 188.3 544.5 185.9 545.1 182.7 545.6 179.0 546.1 175.9 546.6 172.1 547.1 171.3 547.6 170.3 548.1 169.0 548.6 171.2 549.1 173.4 549.6 176.2 550.2 178.9 550.7 181.3 550.9 182.4 551.2 183.3 551.7 184.9 552.2 184.9 552.7 184.8 553.2 184.4 553.7 183.0 554.2 183.6 554.7 183.0 555.3 183.1 555.8 181.9 556.3 181.1 556.8 180.6 557.3 180.4 557.8 179.8 558.3 179.7 558.8 180.1 559.3 181.3 559.8 182.5 560.4 183.1 560.9 182.9 561.4 183.0 561.9 183.6 562.4 183.8 562.9 184.0 563.4 183.8 563.9 183.4 564.4 183.6 565.0 183.6 565.5 183.7 566.0 183.7 566.5 183.4 567.0 182.9 567.5 183.5 568.0 183.0 568.5 183.8 569.0 183.8 569.5 183.2 570.1 184.1 570.6 184.2 571.1 183.9 571.6 184.5 572.1 184.6 572.6 183.6 573.1 184.4 573.6 184.2 574.1 184.2 574.6 184.4 575.2 183.9 575.7 184.0 576.2 183.9 576.7 184.0 577.2 184.2 577.7 183.8 578.2 184.0 578.7 184.6 579.2 184.4 579.7 184.5 580.3 183.8 580.8 184.2 581.3 184.3 581.8 184.5 582.3 184.4 582.8 184.9 583.3 184.6 583.8 184.7 584.3 184.7 584.8 185.0 585.4 184.6 585.9 185.2 586.4 185.0 586.9 184.9 587.4 184.9 587.9 185.1 588.4 185.3 588.9 185.3 589.4 185.1 589.9 185.1 590.5 184.7 591.0 184.9 591.5 184.3 592.0 183.4 592.5 184.4 593.0 183.8 593.5 182.8 594.0 182.6 594.5 181.8 595.0 182.3 595.6 181.2 596.1 179.9 596.6 180.1 597.1 179.3 597.6 179.7 598.1 178.2 598.4 177.6 598.6 178.9 599.1 179.6 599.6 180.4 600.1 180.7 600.7 182.0 601.2 182.9 601.7 182.1 602.2 183.6 602.4 183.2 602.7 184.2 603.2 183.5 603.7 183.2 604.2 183.6 604.7 183.4 605.2 182.9 605.8 183.3 606.3 182.9 606.8 182.2 607.3 183.3 607.8 182.2 608.3 181.9 608.8 182.0 609.3 181.1 609.8 179.4 610.3 177.9 610.9 176.2 611.4 174.7 611.9 173.7 612.4 171.7 612.9 170.7 613.4 169.4 613.9 168.4 614.4 168.5 614.9 167.8 615.1 168.4 615.5 168.8 616.0 169.5 616.5 169.9 617.0 171.3 617.5 171.3 618.0 172.2 618.5 172.2 619.0 172.3 619.5 173.2 620.0 173.0 620.6 172.5 621.1 173.0 621.6 172.4 622.1 172.4 622.6 172.6 623.1 172.5 623.6 172.7 624.1 172.9 624.6 173.6 625.1 173.8 625.4 173.2 625.7 173.9 626.2 173.4 626.7 173.6 627.2 173.9 627.7 173.8 628.2 174.6 628.7 173.9 629.2 173.5 629.7 174.4 630.2 173.9 630.8 174.0 631.3 173.2 631.8 174.6 632.3 174.7 632.8 174.7 633.3 174.8 633.8 175.1 634.3 174.5 634.8 174.9 635.3 174.3 635.9 174.5 636.4 175.0 636.9 174.8 637.4 174.2 637.9 174.9 638.4 174.7 638.9 174.5 639.4 175.0 639.9 174.7 640.4 174.4 641.0 174.6 641.5 175.6 642.0 174.5 642.5 175.1 643.0 175.3 643.5 175.4 644.0 174.8 644.5 175.1 645.0 175.3 645.5 175.6 646.1 175.2 646.6 175.0 647.1 175.8 647.6 175.9 648.1 175.7 648.6 175.4 649.1 175.8 649.6 175.8 650.1 176.1 650.6 175.4 651.2 175.9 651.7 175.9 652.2 175.6 652.7 176.1 653.2 176.1 653.7 176.0 654.2 176.3 654.7 175.7 655.2 176.2 655.7 176.4 656.3 176.4 656.8 176.8 657.3 176.0 657.8 175.9 658.3 176.6 658.8 176.7 659.3 177.3 659.8 176.9 660.3 176.4 660.8 177.0 661.4 176.5 661.9 176.3 662.4 177.8 662.9 177.0"/>
<path stroke="#0000ff" d="M50.8 270.8 51.3 270.6 51.8 270.9 52.3 270.3 52.8 270.5 53.3 269.6 53.8 269.3 54.3 270.1 54.9 270.0 55.4 269.5 55.9 269.2 56.4 269.0 56.9 268.6 57.4 269.2 57.9 268.8 58.4 268.6 58.9 268.2 59.4 268.0 60.0 267.5 60.5 267.2 61.0 266.1 61.5 266.4 62.0 266.6 62.5 266.1 63.0 266.7 63.5 267.5 64.0 267.5 64.5 267.4 65.1 266.7 65.6 267.4 66.1 266.9 66.6 266.4 67.1 266.2 67.6 265.3 68.1 262.6 68.6 260.4 69.1 258.9 69.6 258.3 70.2 259.3 70.7 261.1 71.2 262.4 71.7 264.0 72.2 265.2 72.7 265.5 73.2 265.8 73.7 265.6 74.2 265.5 74.7 265.6 75.3 266.4 75.8 266.1 76.3 266.4 76.8 266.2 77.3 265.6 77.8 265.8 78.3 264.9 78.8 266.1 79.3 265.1 79.8 264.0 80.4 263.1 80.9 263.0 81.4 261.6 81.9 261.8 82.4 262.1 82.7 261.8 82.9 262.1 83.4 263.6 83.9 263.9 84.4 264.7 84.9 264.7 85.5 264.9 86.0 265.6 86.5 265.4 87.0 266.4 87.5 265.6 88.0 266.5 88.5 265.4 89.0 266.0 89.5 265.4 90.0 265.4 90.6 265.9 91.1 266.1 91.6 265.4 92.1 266.3 92.6 265.6 93.1 265.9 93.6 266.0 94.1 266.1 94.6 265.3 95.1 266.5 95.7 266.1 96.2 265.8 96.7 265.6 97.2 265.3 97.7 265.5 98.2 266.1 98.7 265.8 99.2 265.5 99.7 265.7 100.2 266.5 100.8 265.8 101.3 265.7 101.8 266.4 102.3 266.1 102.8 265.9 103.3 265.7 103.8 265.4 104.3 265.5 104.8 265.7 105.4 265.8 105.9 266.0 106.4 266.1 106.9 266.0 107.4 266.0 107.9 265.5 108.4 265.1 108.9 265.7 109.4 265.6 109.9 265.7 110.5 265.8 111.0 265.4 111.5 265.5 112.0 265.8 112.5 265.9 113.0 265.6 113.5 266.0 114.0 265.8 114.5 265.5 115.0 265.9 115.6 266.5 116.1 265.6 116.6 266.3 117.1 266.3 117.6 266.4 118.1 265.6 118.6 266.6 119.1 265.9 119.6 265.8 120.1 265.8 120.7 266.1 121.2 265.9 121.7 265.8 122.2 266.3 122.7 265.6 123.2 265.5 123.7 266.1 124.2 266.1 124.7 266.2 125.2 265.5 125.8 266.2 126.3 266.0 126.8 266.4 127.3 265.4 127.8 265.9 128.3 265.7 128.8 265.3 129.3 265.6 129.8 266.2 130.3 265.7 130.9 265.6 131.4 266.1 131.9 266.2 132.4 266.2 132.9 265.5 133.4 265.8 133.9 266.2 134.4 265.6 134.9 265.5 135.4 266.1 136.0 266.3 136.5 265.4 137.0 264.9 137.5 265.3 138.0 265.4 138.5 265.7 139.0 266.0 139.5 265.7 140.0 265.5 140.5 265.8 141.1 265.4 141.6 265.8 142.1 265.6 142.6 266.7 143.1 266.1 143.6 265.5 144.1 265.4 144.6 265.6 145.1 265.2 145.6 265.5 146.2 265.5 146.7 266.1 147.2 265.6 147.7 265.5 148.2 265.3 148.7 265.3 149.2 265.7 149.7 265.7 150.2 266.1 150.7 265.5 151.3 266.1 151.8 265.8 152.3 265.7 152.8 265.0 153.3 265.3 153.8 266.0 154.3 266.2 154.8 265.8 155.3 266.0 155.9 265.6 156.4 265.6 156.9 265.5 157.4 266.1 157.9 265.8 158.4 265.6 158.9 265.6 159.4 265.9 159.9 265.8 160.4 265.4 161.0 266.3 161.5 265.8 162.0 265.7 162.5 266.2 163.0 266.1 163.5 265.7 164.0 265.9 164.5 265.3 165.0 265.5 165.5 264.9 166.1 266.1 166.6 265.0 167.1 265.9 167.6 265.4 168.1 265.3 168.6 265.6 169.1 265.8 169.6 265.9 170.1 266.3 170.6 265.8 171.2 266.0 171.7 265.5 172.2 265.9 172.7 265.7 173.2 265.5 173.7 265.6 174.2 265.6 174.7 265.7 175.2 265.8 175.7 265.5 176.3 265.4 176.8 265.9 177.3 265.1 177.8 265.4 178.3 266.2 178.8 264.7 179.3 265.4 179.8 265.9 180.3 265.1 180.8 266.6 181.4 264.7 181.9 266.1 182.4 266.2 182.9 266.0 183.4 265.6 183.9 265.8 184.4 265.3 184.9 265.9 185.4 265.2 185.9 265.5 186.5 266.0 187.0 265.2 187.5 265.5 188.0 265.7 188.5 265.1 189.0 266.0 189.5 265.7 190.0 265.1 190.5 265.6 191.0 265.3 191.6 265.4 192.1 265.6 192.6 265.4 193.1 265.9 193.6 265.4 194.1 265.0 194.6 263.7 195.1 258.7 195.6 252.9 196.1 250.8 196.3 249.9 196.7 253.7 197.2 258.4 197.7 262.0 198.2 264.8 198.7 264.9 199.2 265.2 199.7 265.8 200.2 265.6 200.7 266.0 201.2 265.7 201.8 265.0 202.3 264.9 202.8 265.4 203.3 264.8 203.8 264.4 204.3 264.8 204.8 264.1 205.3 263.9 205.8 263.7 206.4 263.0 206.9 264.1 207.4 263.4 207.9 263.8 208.4 263.8 208.9 264.4 209.4 264.1 209.9 264.2 210.4 263.6 210.9 264.2 211.5 263.7 212.0 264.4 212.5 264.5 213.0 264.3 213.5 265.1 214.0 264.6 214.5 264.7 215.0 264.5 215.5 264.4 216.0 264.9 216.6 265.0 217.1 264.1 217.6 265.0 218.1 264.8 218.6 265.0 219.1 264.9 219.6 264.3 220.1 264.3 220.6 265.4 221.1 264.8 221.7 264.2 222.2 264.8 222.7 264.6 223.2 264.1 223.7 263.9 224.2 264.2 224.7 264.8 225.2 264.7 225.7 264.6 226.2 264.8 226.8 264.9 227.3 264.0 227.8 264.6 228.3 264.4 228.8 264.3 229.3 264.5 229.8 264.7 230.3 264.6 230.8 264.2 231.3 264.6 231.9 265.4 232.4 264.4 232.9 264.1 233.4 264.8 233.9 264.9 234.4 264.9 234.9 264.4 235.4 265.1 235.9 264.5 236.4 264.3 237.0 264.5 237.5 264.7 238.0 265.0 238.5 265.0 239.0 264.7 239.5 265.1 240.0 264.8 240.5 265.1 241.0 264.3 241.5 264.2 242.1 265.0 242.6 264.3 243.1 264.6 243.6 264.7 244.1 264.6 244.6 264.6 245.1 265.2 245.6 263.9 246.1 265.1 246.6 265.6 247.2 264.8 247.7 264.8 248.2 265.0 248.7 265.4 249.2 264.3 249.7 264.8 250.2 264.7 250.7 265.0 251.2 264.8 251.7 265.0 252.3 264.6 252.8 264.8 253.3 264.5 253.8 264.5 254.3 264.7 254.8 264.7 255.3 264.4 255.8 265.3 256.3 264.7 256.9 264.3 257.4 265.2 257.9 264.5 258.4 264.9 258.9 264.8 259.4 264.9 259.9 264.8 260.4 264.6 260.9 264.8 261.4 265.5 262.0 264.0 262.5 264.8 263.0 264.9 263.5 264.4 264.0 264.3 264.5 265.5 265.0 264.6 265.5 265.5 266.0 265.0 266.5 264.8 267.1 264.9 267.6 265.0 268.1 265.2 268.6 264.9 269.1 264.8 269.6 264.8 270.1 265.3 270.6 265.1 271.1 264.4 271.6 264.6 272.2 264.9 272.7 264.6 273.2 264.7 273.7 264.5 274.2 264.7 274.7 264.9 275.2 265.1 275.7 264.8 276.2 265.5 276.7 264.8 277.3 265.9 277.8 265.1 278.3 265.0 278.8 264.6 279.3 263.8 279.8 264.7 280.3 264.9 280.8 265.5 281.3 264.3 281.8 265.5 282.4 264.7 282.9 265.1 283.1 263.7 283.4 264.4 283.6 264.0 283.9 257.6 284.1 250.7 284.4 220.8 284.7 192.1 284.9 189.9 285.2 197.5 285.3 202.2 285.4 209.6 285.7 227.6 285.7 230.8 285.9 238.6 286.1 247.3 286.2 245.9 286.4 240.2 286.6 235.6 286.7 234.7 286.9 229.2 287.2 224.7 287.2 224.4 287.5 224.5 287.6 223.3 287.7 224.1 288.0 226.7 288.1 228.5 288.2 231.4 288.5 237.2 288.7 242.7 289.0 245.3 289.2 247.7 289.4 248.9 289.5 249.2 289.8 247.6 290.0 247.0 290.3 244.5 290.5 243.3 290.8 242.1 291.0 240.2 291.3 238.3 291.5 238.1 291.8 238.2 292.0 238.0 292.0 238.0 292.3 238.8 292.6 239.3 292.8 239.5 293.1 239.8 293.3 240.2 293.6 240.4 293.8 240.3 294.1 239.9 294.3 239.9 294.6 239.5 294.9 239.0 295.0 239.0 295.1 239.7 295.4 239.8 295.6 240.4 295.9 240.1 296.1 240.6 296.4 240.9 296.6 241.0 296.9 240.6 297.1 241.0 297.4 241.3 297.7 241.1 297.9 241.8 298.2 242.0 298.4 241.6 298.7 242.6 298.9 241.8 299.2 242.0 299.4 242.0 299.7 242.0 300.0 242.4 300.2 242.4 300.5 243.1 300.7 242.8 301.0 242.8 301.2 242.7 301.5 242.3 301.7 242.9 302.0 242.7 302.2 243.4 302.3 243.1 302.5 243.8 302.8 243.5 303.0 243.7 303.3 243.5 303.5 243.6 303.8 243.9 304.0 244.1 304.3 243.6 304.5 244.1 304.8 245.0 305.1 244.1 305.3 244.1 305.6 244.1 305.8 243.9 306.0 244.9 306.1 244.5 306.3 244.4 306.6 244.8 306.8 244.9 307.1 243.6 307.4 244.1 307.6 243.8 307.9 243.6 308.0 243.6 308.1 243.4 308.4 244.0 308.6 243.7 308.9 243.6 309.1 244.0 309.4 243.9 309.6 243.8 309.9 243.8 310.2 244.3 310.4 243.9 310.7 243.7 310.9 243.5 311.2 243.7 311.4 243.4 311.7 243.8 311.9 243.9 312.2 243.1 312.5 243.8 312.7 244.0 313.0 243.8 313.2 243.4 313.5 244.2 313.7 243.5 314.0 243.3 314.2 243.4 314.5 243.7 314.7 244.1 315.0 244.2 315.3 243.8 315.5 243.3 315.8 243.5 316.0 243.4 316.3 243.7 316.5 243.1 316.8 243.8 317.0 243.9 317.3 243.7 317.6 243.9 317.8 243.4 318.1 243.2 318.3 243.5 318.6 243.9 318.8 243.6 319.1 242.9 319.3 243.2 319.6 235.1 319.8 228.1 320.1 220.2 320.4 212.3 320.6 201.4 320.9 189.6 321.1 178.3 321.4 166.8 321.4 165.2 321.6 170.8 321.9 178.0 322.1 185.1 322.4 192.9 322.7 202.8 322.9 213.2 323.2 224.4 323.2 226.5 323.4 228.1 323.7 230.2 323.9 233.5 324.2 234.6 324.4 235.1 324.7 236.3 324.9 236.0 325.2 235.8 325.5 234.3 325.7 234.1 326.0 232.6 326.2 232.0 326.7 230.4 327.2 229.1 327.8 228.2 327.9 228.1 328.3 228.0 328.8 228.9 329.3 229.1 329.8 228.8 330.3 228.5 330.8 228.5 331.3 228.1 331.8 228.5 332.3 227.9 332.9 227.7 333.4 226.9 333.9 225.8 334.4 225.8 334.9 225.2 335.3 225.3 335.4 225.1 335.9 223.9 336.4 223.1 336.9 222.9 337.4 219.6 338.0 217.2 338.2 216.3 338.5 215.6 339.0 214.6 339.3 214.2 339.5 215.2 340.0 215.8 340.5 218.3 341.0 219.9 341.5 221.5 342.0 223.0 342.3 223.9 342.5 224.0 343.1 222.6 343.6 221.9 344.1 221.4 344.6 220.9 345.1 220.2 345.4 220.4 345.6 220.2 346.1 220.5 346.6 220.8 347.1 220.7 347.6 220.9 348.2 221.0 348.7 221.5 349.2 221.4 349.7 221.4 350.2 221.9 350.7 222.2 351.2 221.5 351.7 222.8 352.2 222.4 352.7 222.4 353.3 222.9 353.8 222.6 354.3 222.5 354.8 223.6 355.3 222.5 355.8 222.9 356.3 223.3 356.8 222.6 357.3 223.0 357.9 223.2 358.4 223.9 358.9 222.8 359.4 223.1 359.9 223.4 360.4 223.2 360.9 222.8 361.4 223.4 361.9 223.3 362.4 223.4 363.0 223.7 363.5 223.7 364.0 223.5 364.5 223.5 365.0 223.0 365.5 223.4 366.0 223.6 366.5 223.4 367.0 223.6 367.5 223.3 368.1 224.1 368.6 224.4 369.1 223.5 369.6 223.8 370.1 223.6 370.6 224.2 371.1 223.9 371.6 223.8 372.0 223.7 372.1 223.9 372.6 223.5 373.2 224.2 373.7 223.7 374.2 224.2 374.7 224.1 375.2 224.5 375.7 224.2 376.2 224.6 376.7 224.0 377.2 224.6 377.7 224.3 378.3 224.5 378.8 224.5 379.3 224.9 379.8 223.9 380.3 224.8 380.8 224.2 381.3 225.2 381.8 224.1 382.3 224.5 382.8 224.4 383.4 225.6 383.9 224.6 384.4 225.1 384.9 225.0 385.4 224.6 385.9 225.1 386.4 225.5 386.9 225.3 387.4 225.7 387.9 225.3 388.5 225.5 389.0 225.4 389.5 225.7 390.0 226.3 390.5 225.9 391.0 225.9 391.5 225.6 392.0 225.6 392.5 226.5 393.0 225.6 393.6 225.7 394.1 226.1 394.6 226.0 395.1 226.9 395.6 225.4 396.1 226.4 396.6 226.6 397.1 226.0 397.6 226.3 398.1 226.7 398.7 227.2 399.2 226.3 399.7 226.1 400.2 227.1 400.7 227.3 401.2 226.7 401.7 226.1 402.2 227.5 402.7 226.9 403.2 227.5 403.8 227.1 404.0 227.0 404.3 227.0 404.8 227.7 405.3 227.8 405.8 226.6 406.3 227.0 406.8 228.0 407.3 227.3 407.8 227.0 408.4 227.6 408.9 227.6 409.4 227.6 409.9 227.5 410.4 227.6 410.9 227.6 411.4 228.0 411.9 227.6 412.4 227.8 412.9 227.9 413.5 228.5 414.0 228.2 414.5 228.1 415.0 228.4 415.5 228.4 416.0 228.7 416.5 228.5 417.0 229.0 417.5 228.9 418.0 228.5 418.6 228.4 419.1 228.9 419.6 228.8 420.1 228.6 420.6 228.2 421.1 228.1 421.6 228.9 422.1 229.1 422.6 229.2 423.1 228.5 423.7 229.4 424.2 228.9 424.7 229.2 425.2 229.3 425.7 228.9 426.2 229.0 426.7 228.6 427.2 229.0 427.7 228.8 428.2 229.6 428.8 229.5 429.3 229.8 429.8 229.7 430.3 229.4 430.8 229.8 431.3 229.6 431.8 230.0 432.3 229.9 432.8 229.5 433.3 229.9 433.9 230.0 434.4 229.9 434.9 230.4 435.4 230.7 435.9 230.0 436.0 230.0 436.4 229.4 436.9 230.2 437.4 230.1 437.9 229.6 438.4 230.4 439.0 230.6 439.5 230.2 440.0 230.3 440.5 230.2 441.0 230.8 441.5 230.0 442.0 230.5 442.5 231.3 443.0 230.7 443.5 230.9 444.1 230.7 444.6 230.4 445.1 230.8 445.6 231.0 446.1 230.6 446.6 231.1 447.1 231.4 447.6 231.4 448.1 230.5 448.6 230.8 449.2 230.6 449.7 231.6 450.2 231.4 450.7 231.5 451.2 231.0 451.7 230.9 452.2 231.4 452.7 231.4 453.2 231.2 453.7 231.5 454.3 231.8 454.8 231.6 455.3 231.2 455.8 230.9 456.3 231.6 456.8 231.8 457.3 231.7 457.8 231.6 458.3 231.6 458.8 232.1 459.4 231.9 459.9 232.0 460.4 231.6 460.9 231.8 461.4 232.1 461.9 231.7 462.4 231.7 462.9 232.1 463.4 232.6 464.0 232.3 464.5 232.8 465.0 232.3 465.5 232.3 466.0 231.9 466.5 232.2 467.0 233.0 467.5 232.6 468.0 232.8 468.5 232.8 468.5 232.6 469.1 232.6 469.6 232.7 470.1 232.9 470.6 232.9 471.1 232.9 471.6 232.8 472.1 232.5 472.6 232.8 473.1 232.6 473.6 233.3 474.2 232.2 474.7 232.9 475.2 233.8 475.7 232.9 476.2 232.7 476.7 233.1 477.2 233.6 477.7 233.1 478.2 233.4 478.7 233.3 479.3 233.1 479.8 234.4 480.3 233.4 480.8 233.2 481.3 233.2 481.8 233.6 482.3 233.6 482.8 233.8 483.3 233.6 483.8 233.1 484.4 233.8 484.9 233.5 485.4 233.6 485.9 233.2 486.4 233.5 486.9 233.5 487.4 233.8 487.9 233.3 488.4 233.9 488.9 233.9 489.5 233.5 490.0 233.7 490.5 233.7 491.0 234.3 491.5 233.2 492.0 234.0 492.5 233.5 493.0 234.0 493.5 234.5 494.0 234.0 494.6 234.3 495.1 234.0 495.6 235.0 496.1 234.7 496.6 234.8 497.1 233.9 497.6 234.0 498.1 234.8 498.6 234.4 499.1 234.4 499.7 234.7 500.2 234.2 500.6 234.9 500.7 234.6 501.2 234.8 501.7 234.4 502.2 234.9 502.7 234.5 503.2 235.1 503.7 235.2 504.2 235.1 504.8 235.0 505.3 235.1 505.8 234.0 506.3 235.2 506.8 234.9 507.3 235.0 507.8 234.9 508.3 234.6 508.8 234.9 509.3 235.3 509.9 235.6 510.4 235.0 510.9 234.9 511.4 235.7 511.9 235.0 512.4 236.0 512.9 235.3 513.4 235.0 513.9 235.7 514.5 236.0 515.0 234.9 515.5 236.0 516.0 235.4 516.5 236.0 517.0 235.4 517.5 235.0 518.0 235.8 518.5 236.0 519.0 236.4 519.6 236.3 520.1 236.0 520.6 235.7 521.1 235.6 521.6 235.7 522.1 235.6 522.6 235.8 523.1 235.0 523.6 236.0 524.1 235.9 524.7 236.9 525.2 236.3 525.7 235.9 526.2 236.3 526.7 235.7 527.2 235.9 527.7 235.5 528.2 236.7 528.7 236.4 529.2 235.8 529.8 236.3 530.3 236.6 530.8 236.5 531.3 236.5 531.8 236.1 532.3 236.2 532.7 236.5 532.8 236.8 533.3 236.2 533.8 236.1 534.3 236.9 534.9 236.2 535.4 236.9 535.9 236.7 536.4 236.9 536.9 237.2 537.4 236.9 537.9 237.0 538.4 236.4 538.9 236.5 539.4 237.0 540.0 237.3 540.5 237.3 541.0 237.5 541.5 236.7 542.0 236.6 542.5 236.8 543.0 234.3 543.5 232.2 544.0 229.8 544.5 228.4 545.1 224.1 545.6 221.2 546.1 217.0 546.6 214.4 547.1 212.5 547.6 211.9 548.1 209.8 548.6 212.8 549.1 215.9 549.6 217.7 550.2 220.8 550.7 223.4 550.9 224.2 551.2 225.6 551.7 226.8 552.2 227.3 552.7 227.5 553.2 226.7 553.7 226.3 554.2 226.3 554.7 225.7 555.3 226.1 555.8 224.1 556.3 224.3 556.8 223.7 557.3 222.4 557.8 222.1 558.3 222.6 558.8 223.1 559.3 224.2 559.8 225.3 560.4 225.0 560.9 225.0 561.4 224.7 561.9 225.9 562.4 225.8 562.9 226.2 563.4 226.2 563.9 225.7 564.4 226.8 565.0 226.6 565.5 226.6 566.0 225.9 566.5 226.2 567.0 226.2 567.5 226.3 568.0 226.0 568.5 226.6 569.0 226.6 569.5 226.6 570.1 226.4 570.6 227.0 571.1 226.7 571.6 225.7 572.1 226.4 572.6 226.7 573.1 227.1 573.6 226.6 574.1 226.7 574.6 226.6 575.2 227.1 575.7 226.7 576.2 226.7 576.7 226.7 577.2 227.2 577.7 226.8 578.2 226.4 578.7 227.3 579.2 226.8 579.7 227.2 580.3 227.3 580.8 227.6 581.3 227.6 581.8 227.0 582.3 227.2 582.8 226.8 583.3 227.9 583.8 227.5 584.3 227.9 584.8 227.3 585.4 226.7 585.9 228.0 586.4 227.5 586.9 227.6 587.4 227.6 587.9 227.8 588.4 227.8 588.9 227.1 589.4 228.1 589.9 227.3 590.5 227.1 591.0 227.7 591.5 227.2 592.0 226.6 592.5 225.8 593.0 226.3 593.5 225.9 594.0 225.1 594.5 224.1 595.0 223.6 595.6 222.9 596.1 222.8 596.6 222.4 597.1 222.1 597.6 221.0 598.1 220.9 598.4 220.8 598.6 220.8 599.1 221.8 599.6 223.4 600.1 223.6 600.7 224.3 601.2 224.2 601.7 224.8 602.2 224.6 602.4 225.4 602.7 225.8 603.2 226.0 603.7 225.6 604.2 225.4 604.7 225.1 605.2 224.8 605.8 224.9 606.3 225.1 606.8 224.3 607.3 224.7 607.8 223.7 608.3 223.2 608.8 223.2 609.3 222.7 609.8 221.0 610.3 220.1 610.9 217.9 611.4 216.3 611.9 215.2 612.4 213.9 612.9 211.9 613.4 211.1 613.9 210.4 614.4 209.9 614.9 209.7 615.1 208.9 615.5 209.7 616.0 210.8 616.5 211.9 617.0 212.5 617.5 212.9 618.0 213.5 618.5 214.0 619.0 214.1 619.5 214.5 620.0 213.9 620.6 213.8 621.1 213.9 621.6 213.6 622.1 213.4 622.6 214.3 623.1 213.7 623.6 213.6 624.1 214.2 624.6 214.8 625.1 214.3 625.4 214.7 625.7 214.2 626.2 214.3 626.7 214.3 627.2 214.6 627.7 215.4 628.2 214.4 628.7 215.5 629.2 214.7 629.7 215.0 630.2 215.5 630.8 215.5 631.3 215.5 631.8 214.9 632.3 215.7 632.8 215.3 633.3 216.6 633.8 215.7 634.3 215.9 634.8 215.5 635.3 215.8 635.9 215.5 636.4 216.4 636.9 216.0 637.4 216.3 637.9 215.9 638.4 216.1 638.9 216.7 639.4 216.0 639.9 215.8 640.4 216.6 641.0 216.1 641.5 216.4 642.0 216.9 642.5 216.4 643.0 217.0 643.5 216.5 644.0 217.4 644.5 217.4 645.0 216.8 645.5 217.0 646.1 216.8 646.6 217.2 647.1 217.6 647.6 216.8 648.1 217.7 648.6 217.0 649.1 217.2 649.6 216.9 650.1 218.4 650.6 217.7 651.2 217.9 651.7 217.6 652.2 218.3 652.7 217.2 653.2 218.0 653.7 218.9 654.2 218.0 654.7 218.2 655.2 218.5 655.7 218.1 656.3 218.4 656.8 218.8 657.3 218.6 657.8 218.7 658.3 218.5 658.8 218.8 659.3 218.8 659.8 219.3 660.3 219.1 660.8 218.9 661.4 218.2 661.9 219.3 662.4 219.4 662.9 218.9"/>
<path stroke="#c00000" d="M50.8 314.8 51.3 315.0 51.8 315.6 52.3 314.9 52.8 315.0 53.3 315.1 53.8 315.3 54.3 314.7 54.9 314.5 55.4 314.2 55.9 314.8 56.4 314.4 56.9 313.9 57.4 313.3 57.9 313.4 58.4 313.8 58.9 312.9 59.4 313.2 60.0 312.6 60.5 312.2 61.0 312.0 61.5 311.6 62.0 310.7 62.5 311.4 63.0 312.8 63.5 312.0 64.0 312.3 64.5 312.9 65.1 312.5 65.6 312.3 66.1 312.1 66.6 312.2 67.1 311.7 67.6 311.2 68.1 307.7 68.6 305.0 69.1 303.7 69.6 303.5 70.2 304.8 70.7 306.7 71.2 308.3 71.7 309.8 72.2 310.5 72.7 311.4 73.2 310.8 73.7 310.7 74.2 311.1 74.7 310.7 75.3 311.3 75.8 311.2 76.3 310.9 76.8 311.1 77.3 310.6 77.8 310.6 78.3 309.9 78.8 310.3 79.3 309.4 79.8 309.0 80.4 308.5 80.9 308.0 81.4 306.7 81.9 306.6 82.4 306.8 82.7 307.0 82.9 307.4 83.4 308.6 83.9 309.8 84.4 309.8 84.9 309.9 85.5 309.9 86.0 310.2 86.5 310.7 87.0 310.9 87.5 310.9 88.0 310.9 88.5 310.8 89.0 311.1 89.5 311.0 90.0 311.0 90.6 311.0 91.1 310.7 91.6 310.6 92.1 311.1 92.6 311.1 93.1 310.9 93.6 310.8 94.1 311.8 94.6 310.7 95.1 310.9 95.7 311.1 96.2 310.6 96.7 311.1 97.2 311.7 97.7 311.4 98.2 311.3 98.7 311.3 99.2 311.1 99.7 311.4 100.2 311.0 100.8 310.9 101.3 311.1 101.8 311.4 102.3 311.2 102.8 311.3 103.3 310.4 103.8 311.5 104.3 311.9 104.8 311.5 105.4 311.0 105.9 310.8 106.4 311.2 106.9 310.7 107.4 311.3 107.9 310.9 108.4 311.4 108.9 311.6 109.4 310.4 109.9 311.2 110.5 310.8 111.0 310.6 111.5 310.9 112.0 311.0 112.5 311.5 113.0 310.6 113.5 311.5 114.0 311.8 114.5 311.3 115.0 311.3 115.6 311.1 116.1 310.7 116.6 311.3 117.1 311.2 117.6 311.4 118.1 312.0 118.6 311.4 119.1 311.3 119.6 311.7 120.1 310.6 120.7 310.7 121.2 311.0 121.7 310.9 122.2 311.4 122.7 311.0 123.2 311.7 123.7 311.7 124.2 311.4 124.7 311.0 125.2 311.3 125.8 311.4 126.3 310.8 126.8 311.3 127.3 311.4 127.8 311.2 128.3 311.7 128.8 311.6 129.3 310.8 129.8 311.2 130.3 310.8 130.9 311.3 131.4 310.8 131.9 311.5 132.4 311.3 132.9 311.5 133.4 311.1 133.9 310.6 134.4 311.8 134.9 311.1 135.4 311.6 136.0 311.3 136.5 311.4 137.0 311.8 137.5 311.3 138.0 311.6 138.5 310.6 139.0 311.5 139.5 311.1 140.0 311.1 140.5 311.2 141.1 311.3 141.6 311.7 142.1 310.5 142.6 311.2 143.1 310.9 143.6 311.6 144.1 311.0 144.6 311.3 145.1 311.0 145.6 311.4 146.2 311.5 146.7 311.0 147.2 311.2 147.7 310.7 148.2 311.3 148.7 311.5 149.2 311.0 149.7 311.6 150.2 310.5 150.7 310.5 151.3 310.7 151.8 311.0 152.3 311.2 152.8 311.2 153.3 311.2 153.8 311.5 154.3 311.0 154.8 310.8 155.3 310.8 155.9 311.9 156.4 310.4 156.9 311.1 157.4 311.7 157.9 311.4 158.4 310.9 158.9 311.2 159.4 311.5 159.9 311.6 160.4 310.9 161.0 311.5 161.5 311.3 162.0 311.6 162.5 311.7 163.0 311.1 163.5 310.7 164.0 311.4 164.5 311.8 165.0 311.5 165.5 311.3 166.1 312.1 166.6 310.9 167.1 311.5 167.6 311.0 168.1 311.3 168.6 311.3 169.1 311.8 169.6 310.9 170.1 311.1 170.6 310.7 171.2 311.4 171.7 311.1 172.2 311.4 172.7 310.9 173.2 311.1 173.7 311.6 174.2 311.2 174.7 311.5 175.2 311.4 175.7 311.1 176.3 310.7 176.8 311.6 177.3 311.3 177.8 311.6 178.3 310.6 178.8 310.7 179.3 310.5 179.8 311.0 180.3 311.6 180.8 311.5 181.4 311.3 181.9 311.3 182.4 311.5 182.9 311.2 183.4 311.4 183.9 311.3 184.4 310.5 184.9 311.1 185.4 311.8 185.9 311.1 186.5 311.2 187.0 311.1 187.5 311.1 188.0 311.7 188.5 311.2 189.0 310.9 189.5 310.2 190.0 311.1 190.5 310.6 191.0 310.7 191.6 311.6 192.1 311.5 192.6 310.6 193.1 311.6 193.6 311.5 194.1 310.4 194.6 310.3 195.1 304.4 195.6 299.6 196.1 297.6 196.3 297.2 196.7 300.9 197.2 304.3 197.7 307.1 198.2 309.9 198.7 310.4 199.2 310.3 199.7 310.8 200.2 310.1 200.7 309.8 201.2 310.0 201.8 310.1 202.3 309.6 202.8 309.8 203.3 310.1 203.8 309.1 204.3 309.1 204.8 309.4 205.3 308.6 205.8 308.3 206.4 308.1 206.9 308.7 207.4 308.8 207.9 308.6 208.4 308.8 208.9 309.3 209.4 309.2 209.9 308.4 210.4 308.9 210.9 309.0 211.5 309.2 212.0 308.9 212.5 308.8 213.0 308.9 213.5 308.5 214.0 309.1 214.5 308.9 215.0 309.3 215.5 308.8 216.0 309.1 216.6 308.9 217.1 308.9 217.6 309.6 218.1 309.2 218.6 309.5 219.1 309.0 219.6 309.4 220.1 308.8 220.6 309.2 221.1 309.2 221.7 309.6 222.2 309.4 222.7 309.3 223.2 309.7 223.7 309.4 224.2 309.6 224.7 309.6 225.2 309.3 225.7 309.3 226.2 309.5 226.8 309.2 227.3 309.5 227.8 309.7 228.3 309.6 228.8 309.2 229.3 308.9 229.8 309.3 230.3 309.3 230.8 309.7 231.3 309.2 231.9 309.3 232.4 309.6 232.9 309.2 233.4 309.3 233.9 309.9 234.4 309.8 234.9 309.5 235.4 309.4 235.9 309.0 236.4 309.5 237.0 309.3 237.5 309.4 238.0 309.1 238.5 309.3 239.0 309.2 239.5 309.4 240.0 309.8 240.5 309.4 241.0 308.7 241.5 308.9 242.1 308.7 242.6 309.0 243.1 309.5 243.6 309.4 244.1 309.1 244.6 309.4 245.1 309.0 245.6 308.8 246.1 308.8 246.6 309.0 247.2 309.8 247.7 308.8 248.2 309.7 248.7 309.7 249.2 309.2 249.7 309.2 250.2 309.0 250.7 309.2 251.2 309.5 251.7 309.2 252.3 309.6 252.8 309.6 253.3 309.3 253.8 309.3 254.3 309.2 254.8 309.3 255.3 308.8 255.8 309.4 256.3 309.3 256.9 308.9 257.4 310.0 257.9 308.9 258.4 308.9 258.9 309.3 259.4 308.5 259.9 308.9 260.4 308.7 260.9 308.9 261.4 309.1 262.0 309.3 262.5 309.6 263.0 309.5 263.5 309.6 264.0 309.4 264.5 309.0 265.0 309.6 265.5 309.0 266.0 309.0 266.5 309.7 267.1 309.4 267.6 309.2 268.1 309.4 268.6 309.5 269.1 308.7 269.6 309.1 270.1 308.7 270.6 309.2 271.1 308.9 271.6 309.6 272.2 309.3 272.7 308.8 273.2 309.1 273.7 308.7 274.2 309.1 274.7 309.3 275.2 309.2 275.7 308.4 276.2 309.0 276.7 309.3 277.3 309.2 277.8 309.5 278.3 308.7 278.8 309.3 279.3 308.9 279.8 309.2 280.3 309.2 280.8 309.3 281.3 308.9 281.8 309.2 282.4 308.7 282.9 308.6 283.1 309.0 283.4 308.6 283.6 307.8 283.9 301.6 284.1 295.4 284.4 266.6 284.7 237.2 284.9 235.3 285.2 241.7 285.3 246.7 285.4 254.2 285.7 272.3 285.7 276.0 285.9 283.3 286.1 291.6 286.2 290.4 286.4 284.3 286.6 279.6 286.7 279.6 286.9 273.2 287.2 269.4 287.2 269.5 287.5 267.6 287.6 267.5 287.7 268.4 288.0 271.5 288.1 273.1 288.2 276.0 288.5 281.4 288.7 287.0 289.0 289.9 289.2 291.9 289.4 293.4 289.5 293.7 289.8 291.3 290.0 290.1 290.3 289.0 290.5 287.1 290.8 285.2 291.0 284.8 291.3 282.7 291.5 282.5 291.8 282.2 292.0 281.7 292.0 281.8 292.3 282.7 292.6 283.9 292.8 283.8 293.1 284.3 293.3 284.0 293.6 284.3 293.8 283.8 294.1 284.3 294.3 283.9 294.6 283.8 294.9 283.6 295.0 283.4 295.1 283.1 295.4 284.1 295.6 283.6 295.9 283.8 296.1 284.3 296.4 284.4 296.6 284.9 296.9 285.4 297.1 285.3 297.4 285.5 297.7 285.6 297.9 286.1 298.2 285.2 298.4 286.1 298.7 285.7 298.9 285.7 299.2 286.2 299.4 286.2 299.7 286.6 300.0 286.9 300.2 285.8 300.5 286.6 300.7 287.4 301.0 287.1 301.2 287.4 301.5 287.0 301.7 286.6 302.0 286.8 302.2 287.5 302.3 287.6 302.5 287.1 302.8 287.4 303.0 287.6 303.3 287.0 303.5 287.6 303.8 288.4 304.0 288.7 304.3 288.0 304.5 288.8 304.8 288.0 305.1 288.0 305.3 287.6 305.6 288.8 305.8 288.5 306.0 289.5 306.1 288.8 306.3 288.6 306.6 287.7 306.8 288.8 307.1 288.0 307.4 287.9 307.6 287.0 307.9 288.0 308.0 287.9 308.1 287.4 308.4 287.7 308.6 287.8 308.9 288.0 309.1 287.8 309.4 288.4 309.6 287.7 309.9 287.6 310.2 287.7 310.4 287.0 310.7 287.7 310.9 288.3 311.2 288.1 311.4 287.7 311.7 288.1 311.9 287.3 312.2 287.9 312.5 288.1 312.7 288.2 313.0 287.7 313.2 288.3 313.5 288.6 313.7 287.8 314.0 288.2 314.2 287.4 314.5 287.2 314.7 288.1 315.0 287.9 315.3 288.0 315.5 287.7 315.8 287.8 316.0 288.2 316.3 288.5 316.5 287.8 316.8 287.3 317.0 288.3 317.3 288.1 317.6 288.1 317.8 288.0 318.1 288.7 318.3 287.9 318.6 287.8 318.8 286.8 319.1 287.0 319.3 286.7 319.6 279.7 319.8 272.5 320.1 264.9 320.4 258.5 320.6 246.5 320.9 235.8 321.1 225.1 321.4 213.6 321.4 212.1 321.6 217.7 321.9 224.3 322.1 232.0 322.4 238.3 322.7 248.7 322.9 258.5 323.2 268.5 323.2 270.9 323.4 272.8 323.7 275.6 323.9 278.9 324.2 278.4 324.4 279.6 324.7 280.0 324.9 281.9 325.2 280.3 325.5 279.3 325.7 278.2 326.0 278.0 326.2 276.6 326.7 275.9 327.2 274.2 327.8 274.4 327.9 273.8 328.3 274.0 328.8 274.4 329.3 274.1 329.8 274.3 330.3 274.8 330.8 274.5 331.3 274.1 331.8 274.0 332.3 273.6 332.9 273.9 333.4 273.6 333.9 272.8 334.4 273.1 334.9 271.5 335.3 271.7 335.4 272.2 335.9 270.6 336.4 269.4 336.9 269.7 337.4 267.0 338.0 264.1 338.2 263.6 338.5 262.5 339.0 261.4 339.3 261.1 339.5 261.6 340.0 263.2 340.5 265.2 341.0 266.5 341.5 268.4 342.0 269.9 342.3 271.0 342.5 270.2 343.1 269.0 343.6 268.1 344.1 267.8 344.6 267.8 345.1 267.0 345.4 266.1 345.6 266.8 346.1 266.3 346.6 267.3 347.1 267.0 347.6 267.5 348.2 267.5 348.7 267.3 349.2 267.5 349.7 267.1 350.2 267.5 350.7 268.0 351.2 269.1 351.7 268.0 352.2 267.8 352.7 267.4 353.3 268.1 353.8 267.2 354.3 267.5 354.8 267.9 355.3 267.4 355.8 268.4 356.3 268.2 356.8 267.7 357.3 267.7 357.9 267.5 358.4 267.5 358.9 268.1 359.4 268.2 359.9 268.2 360.4 268.2 360.9 267.9 361.4 268.3 361.9 267.7 362.4 268.2 363.0 268.7 363.5 268.7 364.0 268.1 364.5 268.2 365.0 268.8 365.5 269.0 366.0 267.9 366.5 268.3 367.0 268.6 367.5 268.9 368.1 268.2 368.6 268.8 369.1 268.5 369.6 269.5 370.1 268.8 370.6 268.6 371.1 268.6 371.6 269.1 372.0 269.0 372.1 268.4 372.6 268.9 373.2 268.4 373.7 268.7 374.2 268.5 374.7 268.6 375.2 268.9 375.7 268.8 376.2 269.4 376.7 269.5 377.2 269.2 377.7 269.0 378.3 269.7 378.8 268.8 379.3 268.9 379.8 269.9 380.3 269.9 380.8 270.1 381.3 269.7 381.8 269.4 382.3 269.7 382.8 270.1 383.4 269.7 383.9 269.8 384.4 269.6 384.9 269.7 385.4 270.5 385.9 270.4 386.4 269.9 386.9 270.0 387.4 270.2 387.9 270.7 388.5 270.1 389.0 270.5 389.5 269.9 390.0 270.3 390.5 270.9 391.0 271.1 391.5 270.5 392.0 270.6 392.5 271.3 393.0 270.9 393.6 270.9 394.1 271.3 394.6 271.3 395.1 271.6 395.6 271.6 396.1 271.2 396.6 271.4 397.1 271.4 397.6 271.0 398.1 271.2 398.7 272.0 399.2 271.1 399.7 272.1 400.2 271.9 400.7 271.8 401.2 272.1 401.7 272.1 402.2 272.4 402.7 271.9 403.2 272.0 403.8 272.1 404.0 272.9 404.3 272.6 404.8 272.0 405.3 272.2 405.8 272.1 406.3 272.4 406.8 272.6 407.3 273.3 407.8 271.9 408.4 273.0 408.9 272.8 409.4 272.5 409.9 272.7 410.4 272.7 410.9 272.9 411.4 273.3 411.9 272.5 412.4 273.5 412.9 273.0 413.5 273.7 414.0 273.3 414.5 273.7 415.0 273.5 415.5 273.7 416.0 273.4 416.5 273.1 417.0 273.7 417.5 273.8 418.0 274.3 418.6 272.9 419.1 273.6 419.6 274.1 420.1 273.4 420.6 273.8 421.1 274.6 421.6 274.4 422.1 273.7 422.6 274.5 423.1 274.5 423.7 274.4 424.2 274.3 424.7 274.3 425.2 274.0 425.7 274.2 426.2 274.7 426.7 274.5 427.2 275.1 427.7 274.4 428.2 273.8 428.8 274.5 429.3 274.8 429.8 274.9 430.3 274.8 430.8 274.6 431.3 275.4 431.8 274.7 432.3 275.2 432.8 274.9 433.3 274.7 433.9 275.6 434.4 274.3 434.9 275.0 435.4 275.5 435.9 275.2 436.0 275.6 436.4 275.4 436.9 275.3 437.4 276.2 437.9 275.4 438.4 275.5 439.0 275.2 439.5 275.4 440.0 275.9 440.5 275.9 441.0 275.8 441.5 275.5 442.0 276.1 442.5 275.3 443.0 275.8 443.5 275.9 444.1 275.7 444.6 276.1 445.1 275.8 445.6 275.8 446.1 276.8 446.6 276.5 447.1 276.7 447.6 276.3 448.1 276.7 448.6 276.6 449.2 276.8 449.7 277.3 450.2 276.4 450.7 276.6 451.2 276.5 451.7 275.4 452.2 276.1 452.7 276.7 453.2 276.9 453.7 276.6 454.3 277.2 454.8 277.3 455.3 276.7 455.8 277.4 456.3 277.6 456.8 277.2 457.3 276.7 457.8 277.6 458.3 277.1 458.8 277.0 459.4 277.2 459.9 277.1 460.4 277.7 460.9 277.6 461.4 277.8 461.9 277.6 462.4 277.2 462.9 277.4 463.4 277.8 464.0 277.4 464.5 278.6 465.0 277.6 465.5 277.5 466.0 278.1 466.5 278.0 467.0 277.8 467.5 277.8 468.0 278.0 468.5 278.2 468.5 278.2 469.1 277.8 469.6 278.1 470.1 278.3 470.6 278.3 471.1 277.0 471.6 277.8 472.1 277.9 472.6 278.1 473.1 278.3 473.6 278.6 474.2 278.5 474.7 278.3 475.2 278.4 475.7 279.0 476.2 278.2 476.7 278.6 477.2 279.0 477.7 278.7 478.2 277.9 478.7 278.7 479.3 278.5 479.8 278.6 480.3 279.1 480.8 278.9 481.3 278.7 481.8 279.1 482.3 279.0 482.8 278.9 483.3 279.0 483.8 279.0 484.4 278.9 484.9 278.9 485.4 279.1 485.9 278.7 486.4 278.7 486.9 279.6 487.4 279.1 487.9 279.2 488.4 279.2 488.9 279.3 489.5 279.3 490.0 279.4 490.5 279.1 491.0 279.7 491.5 279.2 492.0 279.9 492.5 278.9 493.0 279.2 493.5 279.9 494.0 279.6 494.6 279.4 495.1 279.8 495.6 279.4 496.1 279.8 496.6 279.0 497.1 279.7 497.6 279.6 498.1 280.1 498.6 280.2 499.1 279.7 499.7 280.6 500.2 279.8 500.6 279.3 500.7 279.2 501.2 280.6 501.7 280.1 502.2 279.9 502.7 279.9 503.2 279.8 503.7 280.7 504.2 280.3 504.8 280.9 505.3 280.3 505.8 279.6 506.3 280.7 506.8 280.3 507.3 280.4 507.8 281.1 508.3 280.4 508.8 281.0 509.3 280.6 509.9 280.4 510.4 280.8 510.9 280.5 511.4 281.2 511.9 281.1 512.4 280.8 512.9 281.0 513.4 281.0 513.9 280.8 514.5 281.2 515.0 280.9 515.5 281.2 516.0 280.7 516.5 281.1 517.0 281.2 517.5 280.8 518.0 281.0 518.5 281.0 519.0 281.4 519.6 281.0 520.1 281.4 520.6 281.8 521.1 281.4 521.6 280.8 522.1 281.4 522.6 281.8 523.1 281.3 523.6 281.9 524.1 281.7 524.7 281.7 525.2 281.5 525.7 281.4 526.2 281.5 526.7 281.7 527.2 281.9 527.7 281.9 528.2 281.6 528.7 281.8 529.2 281.9 529.8 281.3 530.3 281.6 530.8 281.6 531.3 281.9 531.8 281.9 532.3 281.9 532.7 281.7 532.8 282.3 533.3 282.1 533.8 281.5 534.3 282.1 534.9 281.7 535.4 282.7 535.9 282.0 536.4 282.1 536.9 282.3 537.4 282.2 537.9 282.3 538.4 282.8 538.9 282.4 539.4 282.6 540.0 282.8 540.5 282.1 541.0 283.0 541.5 282.6 542.0 282.6 542.5 281.9 543.0 280.5 543.5 278.3 544.0 275.9 544.5 274.8 545.1 270.7 545.6 267.0 546.1 263.7 546.6 260.5 547.1 259.4 547.6 258.1 548.1 257.1 548.6 259.7 549.1 261.2 549.6 263.9 550.2 266.5 550.7 269.5 550.9 271.4 551.2 271.6 551.7 272.0 552.2 273.3 552.7 273.4 553.2 272.5 553.7 272.3 554.2 272.1 554.7 271.0 555.3 271.3 555.8 270.5 556.3 270.0 556.8 268.8 557.3 268.6 557.8 268.3 558.3 268.3 558.8 269.0 559.3 269.9 559.8 271.3 560.4 271.4 560.9 270.9 561.4 271.2 561.9 272.3 562.4 271.8 562.9 272.4 563.4 272.5 563.9 271.8 564.4 272.0 565.0 272.1 565.5 271.8 566.0 271.8 566.5 272.1 567.0 272.5 567.5 272.1 568.0 272.2 568.5 272.2 569.0 271.9 569.5 272.9 570.1 271.6 570.6 272.2 571.1 272.7 571.6 272.1 572.1 272.8 572.6 273.1 573.1 272.4 573.6 272.8 574.1 272.3 574.6 272.9 575.2 272.8 575.7 272.9 576.2 273.3 576.7 273.1 577.2 273.4 577.7 273.2 578.2 272.6 578.7 273.1 579.2 273.3 579.7 272.6 580.3 273.6 580.8 273.2 581.3 273.4 581.8 272.9 582.3 273.3 582.8 273.4 583.3 273.3 583.8 273.4 584.3 272.7 584.8 274.0 585.4 273.1 585.9 272.8 586.4 273.3 586.9 273.3 587.4 273.9 587.9 273.4 588.4 273.8 588.9 273.4 589.4 274.6 589.9 273.8 590.5 274.1 591.0 272.8 591.5 273.2 592.0 272.4 592.5 272.7 593.0 272.5 593.5 271.1 594.0 270.7 594.5 270.1 595.0 269.4 595.6 269.0 596.1 268.4 596.6 267.6 597.1 267.7 597.6 267.4 598.1 266.3 598.4 266.3 598.6 266.9 599.1 267.7 599.6 268.4 600.1 269.8 600.7 270.3 601.2 270.6 601.7 270.8 602.2 272.0 602.4 272.1 602.7 271.3 603.2 271.3 603.7 271.7 604.2 271.0 604.7 271.4 605.2 271.2 605.8 270.9 606.3 271.0 606.8 270.3 607.3 270.4 607.8 269.7 608.3 270.9 608.8 270.4 609.3 270.1 609.8 268.0 610.3 266.5 610.9 264.8 611.4 263.0 611.9 261.6 612.4 259.6 612.9 258.7 613.4 257.0 613.9 256.4 614.4 256.1 614.9 256.3 615.1 256.4 615.5 256.2 616.0 258.1 616.5 258.9 617.0 259.2 617.5 259.5 618.0 260.0 618.5 260.7 619.0 260.5 619.5 260.6 620.0 261.1 620.6 260.1 621.1 260.9 621.6 261.1 622.1 260.8 622.6 261.1 623.1 261.1 623.6 261.4 624.1 261.3 624.6 261.1 625.1 261.5 625.4 261.6 625.7 262.1 626.2 262.3 626.7 262.0 627.2 261.7 627.7 261.8 628.2 262.1 628.7 262.7 629.2 262.4 629.7 262.4 630.2 262.3 630.8 262.9 631.3 262.8 631.8 262.8 632.3 263.0 632.8 263.6 633.3 263.0 633.8 263.7 634.3 263.6 634.8 263.2 635.3 263.5 635.9 263.2 636.4 263.0 636.9 263.3 637.4 263.1 637.9 263.7 638.4 263.5 638.9 263.8 639.4 263.9 639.9 262.6 640.4 263.8 641.0 263.2 641.5 263.9 642.0 263.6 642.5 264.0 643.0 264.5 643.5 263.5 644.0 264.2 644.5 264.2 645.0 263.6 645.5 264.6 646.1 264.4 646.6 264.3 647.1 264.3 647.6 265.7 648.1 264.5 648.6 264.1 649.1 264.5 649.6 264.7 650.1 264.8 650.6 265.0 651.2 264.7 651.7 265.3 652.2 265.0 652.7 264.8 653.2 265.0 653.7 265.3 654.2 265.8 654.7 265.7 655.2 265.5 655.7 265.6 656.3 265.8 656.8 266.5 657.3 265.6 657.8 266.0 658.3 266.2 658.8 265.7 659.3 266.1 659.8 266.2 660.3 266.0 660.8 266.5 661.4 266.7 661.9 266.8 662.4 266.4 662.9 266.6"/>
</g>
<rect x="50.8" y="2" width="612.05" height="324.6" fill="none" stroke="#000" stroke-width="1.8"/>
<line x1="50.77" y1="326.6" x2="50.77" y2="333" stroke="#000" stroke-width="1.8"/>
<text x="50.8" y="359.1" font-size="21.1" text-anchor="middle">0</text>
<line x1="152.79" y1="326.6" x2="152.79" y2="333" stroke="#000" stroke-width="1.8"/>
<text x="152.8" y="359.1" font-size="21.1" text-anchor="middle">200</text>
<line x1="254.81" y1="326.6" x2="254.81" y2="333" stroke="#000" stroke-width="1.8"/>
<text x="254.8" y="359.1" font-size="21.1" text-anchor="middle">400</text>
<line x1="356.83" y1="326.6" x2="356.83" y2="333" stroke="#000" stroke-width="1.8"/>
<text x="356.8" y="359.1" font-size="21.1" text-anchor="middle">600</text>
<line x1="458.85" y1="326.6" x2="458.85" y2="333" stroke="#000" stroke-width="1.8"/>
<text x="458.8" y="359.1" font-size="21.1" text-anchor="middle">800</text>
<line x1="560.87" y1="326.6" x2="560.87" y2="333" stroke="#000" stroke-width="1.8"/>
<text x="560.9" y="359.1" font-size="21.1" text-anchor="middle">1000</text>
<line x1="662.89" y1="326.6" x2="662.89" y2="333" stroke="#000" stroke-width="1.8"/>
<text x="662.9" y="359.1" font-size="21.1" text-anchor="middle">1200</text>
<text x="272.9" y="390.6" font-size="21.8">Binding energy (eV)</text>
<text transform="translate(22.9 185.7) rotate(-90)" font-size="21.5" text-anchor="middle">Intensity (a.u.)</text>
<text x="66.6" y="28.6" font-size="29.3">(a)</text>
<text x="267.2" y="89.7" font-size="18">Ti2p</text>
<text x="306" y="56.5" font-size="18">O1s</text>
<text x="66.0" y="167.8" font-size="20">Au<tspan font-size="12.9" dy="2">0.1</tspan><tspan dy="-2">/TiO</tspan><tspan font-size="12.9" dy="2">2</tspan></text>
<text x="68.6" y="206.5" font-size="20">Au<tspan font-size="12.9" dy="2">0.3</tspan><tspan dy="-2">/TiO</tspan><tspan font-size="12.9" dy="2">2</tspan></text>
<text x="66.3" y="252.7" font-size="20">Au<tspan font-size="12.9" dy="2">0.5</tspan><tspan dy="-2">/TiO</tspan><tspan font-size="12.9" dy="2">2</tspan></text>
<text x="65.8" y="301.8" font-size="20">Au<tspan font-size="12.9" dy="2">1.0</tspan><tspan dy="-2">/TiO</tspan><tspan font-size="12.9" dy="2">2</tspan></text>
<line x1="147.3" y1="540.6" x2="388.5" y2="540.6" stroke="#00b050" stroke-width="1.6"/>
<line x1="388.5" y1="540.6" x2="662.0" y2="540.6" stroke="#7030a0" stroke-width="1.6"/>
<line x1="147.3" y1="608.0" x2="388.5" y2="608.0" stroke="#00b050" stroke-width="1.6"/>
<line x1="388.5" y1="608.0" x2="662.0" y2="608.0" stroke="#7030a0" stroke-width="1.6"/>
<line x1="147.3" y1="675.7" x2="388.5" y2="675.7" stroke="#00b050" stroke-width="1.6"/>
<line x1="388.5" y1="675.7" x2="662.0" y2="675.7" stroke="#7030a0" stroke-width="1.6"/>
<line x1="147.3" y1="729.3" x2="388.5" y2="729.3" stroke="#00b050" stroke-width="1.6"/>
<line x1="388.5" y1="729.3" x2="662.0" y2="729.3" stroke="#7030a0" stroke-width="1.6"/>
<path fill="none" stroke="#ffc000" stroke-width="1.6" d="M51.4 540.5 53.0 540.5 54.6 540.5 56.2 540.5 57.8 540.5 59.4 540.5 61.0 540.5 62.6 540.5 64.2 540.5 65.8 540.5 67.4 540.5 69.0 540.5 70.7 540.5 72.3 540.5 73.9 540.5 75.5 540.5 77.1 540.5 78.7 540.5 80.3 540.5 81.9 540.5 83.5 540.5 85.1 540.5 86.7 540.5 88.3 540.5 90.0 540.5 91.6 540.5 93.2 540.5 94.8 540.5 96.4 540.5 98.0 540.5 99.6 540.5 101.2 540.5 102.8 540.5 104.4 540.5 106.0 540.5 107.6 540.5 109.3 540.5 110.9 540.5 112.5 540.4 114.1 540.4 115.7 540.4 117.3 540.4 118.9 540.4 120.5 540.4 122.1 540.4 123.7 540.4 125.3 540.4 126.9 540.4 128.6 540.4 130.2 540.4 131.8 540.4 133.4 540.4 135.0 540.4 136.6 540.4 138.2 540.4 139.8 540.4 141.4 540.4 143.0 540.4 144.6 540.4 146.3 540.4 147.9 540.4 149.5 540.4 151.1 540.4 152.7 540.4 154.3 540.4 155.9 540.4 157.5 540.4 159.1 540.4 160.7 540.4 162.3 540.4 163.9 540.3 165.6 540.3 167.2 540.3 168.8 540.3 170.4 540.3 172.0 540.3 173.6 540.3 175.2 540.3 176.8 540.3 178.4 540.3 180.0 540.3 181.6 540.3 183.2 540.3 184.9 540.3 186.5 540.3 188.1 540.3 189.7 540.3 191.3 540.2 192.9 540.2 194.5 540.2 196.1 540.2 197.7 540.2 199.3 540.2 200.9 540.2 202.5 540.2 204.2 540.2 205.8 540.2 207.4 540.1 209.0 540.1 210.6 540.1 212.2 540.1 213.8 540.1 215.4 540.1 217.0 540.1 218.6 540.1 220.2 540.0 221.9 540.0 223.5 540.0 225.1 540.0 226.7 540.0 228.3 539.9 229.9 539.9 231.5 539.9 233.1 539.9 234.7 539.9 236.3 539.8 237.9 539.8 239.5 539.8 241.2 539.7 242.8 539.7 244.4 539.7 246.0 539.6 247.6 539.6 249.2 539.5 250.8 539.5 252.4 539.5 254.0 539.4 255.6 539.3 257.2 539.3 258.8 539.2 260.5 539.2 262.1 539.1 263.7 539.0 265.3 538.9 266.9 538.8 268.5 538.7 270.1 538.5 271.7 538.4 273.3 538.2 274.9 538.0 276.5 537.7 278.1 537.3 279.8 536.9 281.4 536.3 283.0 535.6 284.6 534.8 286.2 533.7 287.8 532.4 289.4 530.8 291.0 528.8 292.6 526.5 294.2 523.7 295.8 520.5 297.5 516.8 299.1 512.7 300.7 508.2 302.3 503.2 303.9 497.9 305.5 492.5 307.1 486.9 308.7 481.4 310.3 476.1 311.9 471.3 313.5 467.2 315.1 463.9 316.8 461.8 318.4 460.8 320.0 461.1 321.6 462.7 323.2 465.4 324.8 469.1 326.4 473.5 328.0 478.6 329.6 484.0 331.2 489.5 332.8 495.1 334.4 500.5 336.1 505.6 337.7 510.3 339.3 514.7 340.9 518.6 342.5 522.0 344.1 525.0 345.7 527.5 347.3 529.7 348.9 531.5 350.5 532.9 352.1 534.1 353.7 535.1 355.4 535.9 357.0 536.5 358.6 537.0 360.2 537.4 361.8 537.7 363.4 537.9 365.0 538.1 366.6 538.3 368.2 538.4 369.8 538.5 371.4 538.6 373.1 538.7 374.7 538.8 376.3 538.9 377.9 538.9 379.5 539.0 381.1 539.1 382.7 539.1 384.3 539.1 385.9 539.2 387.5 539.2 389.1 539.2 390.7 539.3 392.4 539.3 394.0 539.3 395.6 539.3 397.2 539.4 398.8 539.4 400.4 539.4 402.0 539.4 403.6 539.4 405.2 539.4 406.8 539.4 408.4 539.4 410.0 539.4 411.7 539.4 413.3 539.4 414.9 539.4 416.5 539.4 418.1 539.4 419.7 539.3 421.3 539.3 422.9 539.3 424.5 539.2 426.1 539.2 427.7 539.1 429.3 539.1 431.0 539.0 432.6 538.9 434.2 538.8 435.8 538.7 437.4 538.6 439.0 538.4 440.6 538.3 442.2 538.1 443.8 537.9 445.4 537.7 447.0 537.5 448.6 537.2 450.3 537.0 451.9 536.6 453.5 536.3 455.1 535.9 456.7 535.6 458.3 535.1 459.9 534.7 461.5 534.2 463.1 533.7 464.7 533.1 466.3 532.6 468.0 532.0 469.6 531.3 471.2 530.7 472.8 530.0 474.4 529.3 476.0 528.6 477.6 527.9 479.2 527.2 480.8 526.5 482.4 525.8 484.0 525.1 485.6 524.4 487.3 523.7 488.9 523.1 490.5 522.6 492.1 522.0 493.7 521.6 495.3 521.2 496.9 520.8 498.5 520.6 500.1 520.4 501.7 520.4 503.3 520.4 504.9 520.5 506.6 520.7 508.2 520.9 509.8 521.3 511.4 521.7 513.0 522.2 514.6 522.7 516.2 523.3 517.8 523.9 519.4 524.6 521.0 525.3 522.6 526.0 524.2 526.7 525.9 527.4 527.5 528.1 529.1 528.8 530.7 529.5 532.3 530.2 533.9 530.9 535.5 531.6 537.1 532.2 538.7 532.8 540.3 533.4 541.9 533.9 543.6 534.4 545.2 534.9 546.8 535.4 548.4 535.8 550.0 536.2 551.6 536.6 553.2 536.9 554.8 537.2 556.4 537.5 558.0 537.8 559.6 538.0 561.2 538.2 562.9 538.4 564.5 538.6 566.1 538.7 567.7 538.9 569.3 539.0 570.9 539.1 572.5 539.2 574.1 539.3 575.7 539.4 577.3 539.5 578.9 539.5 580.5 539.6 582.2 539.6 583.8 539.7 585.4 539.7 587.0 539.8 588.6 539.8 590.2 539.8 591.8 539.9 593.4 539.9 595.0 539.9 596.6 540.0 598.2 540.0 599.8 540.0 601.5 540.0 603.1 540.0 604.7 540.0 606.3 540.1 607.9 540.1 609.5 540.1 611.1 540.1 612.7 540.1 614.3 540.1 615.9 540.1 617.5 540.2 619.2 540.2 620.8 540.2 622.4 540.2 624.0 540.2 625.6 540.2 627.2 540.2 628.8 540.2 630.4 540.2 632.0 540.2 633.6 540.2 635.2 540.3 636.8 540.3 638.5 540.3 640.1 540.3 641.7 540.3 643.3 540.3 644.9 540.3 646.5 540.3 648.1 540.3 649.7 540.3 651.3 540.3 652.9 540.3 654.5 540.3 656.1 540.3 657.8 540.3 659.4 540.3 661.0 540.3 662.6 540.3"/>
<path fill="none" stroke="#7030a0" stroke-width="1.6" d="M50.8 540.5 52.4 540.5 54.0 540.5 55.6 540.5 57.2 540.5 58.8 540.5 60.4 540.5 62.0 540.5 63.6 540.5 65.2 540.5 66.8 540.5 68.4 540.5 70.1 540.5 71.7 540.5 73.3 540.5 74.9 540.5 76.5 540.5 78.1 540.5 79.7 540.5 81.3 540.5 82.9 540.5 84.5 540.5 86.1 540.5 87.7 540.5 89.4 540.5 91.0 540.5 92.6 540.5 94.2 540.5 95.8 540.5 97.4 540.5 99.0 540.5 100.6 540.5 102.2 540.5 103.8 540.5 105.4 540.5 107.0 540.5 108.7 540.5 110.3 540.5 111.9 540.4 113.5 540.4 115.1 540.4 116.7 540.4 118.3 540.4 119.9 540.4 121.5 540.4 123.1 540.4 124.7 540.4 126.3 540.4 128.0 540.4 129.6 540.4 131.2 540.4 132.8 540.4 134.4 540.4 136.0 540.4 137.6 540.4 139.2 540.4 140.8 540.4 142.4 540.4 144.0 540.4 145.7 540.4 147.3 540.4 148.9 540.4 150.5 540.4 152.1 540.4 153.7 540.4 155.3 540.4 156.9 540.4 158.5 540.4 160.1 540.4 161.7 540.4 163.3 540.3 165.0 540.3 166.6 540.3 168.2 540.3 169.8 540.3 171.4 540.3 173.0 540.3 174.6 540.3 176.2 540.3 177.8 540.3 179.4 540.3 181.0 540.3 182.6 540.3 184.3 540.3 185.9 540.3 187.5 540.3 189.1 540.3 190.7 540.2 192.3 540.2 193.9 540.2 195.5 540.2 197.1 540.2 198.7 540.2 200.3 540.2 201.9 540.2 203.6 540.2 205.2 540.2 206.8 540.1 208.4 540.1 210.0 540.1 211.6 540.1 213.2 540.1 214.8 540.1 216.4 540.1 218.0 540.1 219.6 540.0 221.3 540.0 222.9 540.0 224.5 540.0 226.1 540.0 227.7 539.9 229.3 539.9 230.9 539.9 232.5 539.9 234.1 539.9 235.7 539.8 237.3 539.8 238.9 539.8 240.6 539.7 242.2 539.7 243.8 539.7 245.4 539.6 247.0 539.6 248.6 539.5 250.2 539.5 251.8 539.5 253.4 539.4 255.0 539.3 256.6 539.3 258.2 539.2 259.9 539.2 261.5 539.1 263.1 539.0 264.7 538.9 266.3 538.8 267.9 538.7 269.5 538.5 271.1 538.4 272.7 538.2 274.3 538.0 275.9 537.7 277.5 537.3 279.2 536.9 280.8 536.3 282.4 535.6 284.0 534.8 285.6 533.7 287.2 532.4 288.8 530.8 290.4 528.8 292.0 526.5 293.6 523.7 295.2 520.5 296.9 516.8 298.5 512.7 300.1 508.2 301.7 503.2 303.3 497.9 304.9 492.5 306.5 486.9 308.1 481.4 309.7 476.1 311.3 471.3 312.9 467.2 314.5 463.9 316.2 461.8 317.8 460.8 319.4 461.1 321.0 462.7 322.6 465.4 324.2 469.1 325.8 473.5 327.4 478.6 329.0 484.0 330.6 489.5 332.2 495.1 333.8 500.5 335.5 505.6 337.1 510.3 338.7 514.7 340.3 518.6 341.9 522.0 343.5 525.0 345.1 527.5 346.7 529.7 348.3 531.5 349.9 532.9 351.5 534.1 353.1 535.1 354.8 535.9 356.4 536.5 358.0 537.0 359.6 537.4 361.2 537.7 362.8 537.9 364.4 538.1 366.0 538.3 367.6 538.4 369.2 538.5 370.8 538.6 372.5 538.7 374.1 538.8 375.7 538.9 377.3 538.9 378.9 539.0 380.5 539.1 382.1 539.1 383.7 539.1 385.3 539.2 386.9 539.2 388.5 539.2 390.1 539.3 391.8 539.3 393.4 539.3 395.0 539.3 396.6 539.4 398.2 539.4 399.8 539.4 401.4 539.4 403.0 539.4 404.6 539.4 406.2 539.4 407.8 539.4 409.4 539.4 411.1 539.4 412.7 539.4 414.3 539.4 415.9 539.4 417.5 539.4 419.1 539.3 420.7 539.3 422.3 539.3 423.9 539.2 425.5 539.2 427.1 539.1 428.7 539.1 430.4 539.0 432.0 538.9 433.6 538.8 435.2 538.7 436.8 538.6 438.4 538.4 440.0 538.3 441.6 538.1 443.2 537.9 444.8 537.7 446.4 537.5 448.0 537.2 449.7 537.0 451.3 536.6 452.9 536.3 454.5 535.9 456.1 535.6 457.7 535.1 459.3 534.7 460.9 534.2 462.5 533.7 464.1 533.1 465.7 532.6 467.4 532.0 469.0 531.3 470.6 530.7 472.2 530.0 473.8 529.3 475.4 528.6 477.0 527.9 478.6 527.2 480.2 526.5 481.8 525.8 483.4 525.1 485.0 524.4 486.7 523.7 488.3 523.1 489.9 522.6 491.5 522.0 493.1 521.6 494.7 521.2 496.3 520.8 497.9 520.6 499.5 520.4 501.1 520.4 502.7 520.4 504.3 520.5 506.0 520.7 507.6 520.9 509.2 521.3 510.8 521.7 512.4 522.2 514.0 522.7 515.6 523.3 517.2 523.9 518.8 524.6 520.4 525.3 522.0 526.0 523.6 526.7 525.3 527.4 526.9 528.1 528.5 528.8 530.1 529.5 531.7 530.2 533.3 530.9 534.9 531.6 536.5 532.2 538.1 532.8 539.7 533.4 541.3 533.9 543.0 534.4 544.6 534.9 546.2 535.4 547.8 535.8 549.4 536.2 551.0 536.6 552.6 536.9 554.2 537.2 555.8 537.5 557.4 537.8 559.0 538.0 560.6 538.2 562.3 538.4 563.9 538.6 565.5 538.7 567.1 538.9 568.7 539.0 570.3 539.1 571.9 539.2 573.5 539.3 575.1 539.4 576.7 539.5 578.3 539.5 579.9 539.6 581.6 539.6 583.2 539.7 584.8 539.7 586.4 539.8 588.0 539.8 589.6 539.8 591.2 539.9 592.8 539.9 594.4 539.9 596.0 540.0 597.6 540.0 599.2 540.0 600.9 540.0 602.5 540.0 604.1 540.0 605.7 540.1 607.3 540.1 608.9 540.1 610.5 540.1 612.1 540.1 613.7 540.1 615.3 540.1 616.9 540.2 618.6 540.2 620.2 540.2 621.8 540.2 623.4 540.2 625.0 540.2 626.6 540.2 628.2 540.2 629.8 540.2 631.4 540.2 633.0 540.2 634.6 540.3 636.2 540.3 637.9 540.3 639.5 540.3 641.1 540.3 642.7 540.3 644.3 540.3 645.9 540.3 647.5 540.3 649.1 540.3 650.7 540.3 652.3 540.3 653.9 540.3 655.5 540.3 657.2 540.3 658.8 540.3 660.4 540.3 662.0 540.3"/>
<g fill="none" stroke="#ff00ff" stroke-width="1.75"><circle cx="53.0" cy="540.9" r="2.75"/><circle cx="56.2" cy="540.3" r="2.75"/><circle cx="59.4" cy="540.5" r="2.75"/><circle cx="62.6" cy="540.6" r="2.75"/><circle cx="65.8" cy="540.5" r="2.75"/><circle cx="69.1" cy="540.6" r="2.75"/><circle cx="72.3" cy="540.5" r="2.75"/><circle cx="75.5" cy="540.6" r="2.75"/><circle cx="78.7" cy="540.7" r="2.75"/><circle cx="81.9" cy="540.4" r="2.75"/><circle cx="85.1" cy="540.5" r="2.75"/><circle cx="88.4" cy="540.5" r="2.75"/><circle cx="91.6" cy="540.4" r="2.75"/><circle cx="94.8" cy="540.5" r="2.75"/><circle cx="98.0" cy="540.3" r="2.75"/><circle cx="101.2" cy="540.6" r="2.75"/><circle cx="104.4" cy="540.7" r="2.75"/><circle cx="107.7" cy="540.7" r="2.75"/><circle cx="110.9" cy="540.6" r="2.75"/><circle cx="114.1" cy="540.3" r="2.75"/><circle cx="117.3" cy="540.7" r="2.75"/><circle cx="120.5" cy="540.3" r="2.75"/><circle cx="123.7" cy="540.4" r="2.75"/><circle cx="127.0" cy="540.7" r="2.75"/><circle cx="130.2" cy="540.3" r="2.75"/><circle cx="133.4" cy="540.5" r="2.75"/><circle cx="136.6" cy="540.5" r="2.75"/><circle cx="139.8" cy="540.4" r="2.75"/><circle cx="143.0" cy="540.3" r="2.75"/><circle cx="146.3" cy="540.5" r="2.75"/><circle cx="149.5" cy="540.3" r="2.75"/><circle cx="152.7" cy="540.5" r="2.75"/><circle cx="155.9" cy="540.6" r="2.75"/><circle cx="159.1" cy="540.2" r="2.75"/><circle cx="162.3" cy="540.3" r="2.75"/><circle cx="165.6" cy="540.3" r="2.75"/><circle cx="168.8" cy="540.2" r="2.75"/><circle cx="172.0" cy="540.2" r="2.75"/><circle cx="175.2" cy="540.3" r="2.75"/><circle cx="178.4" cy="540.3" r="2.75"/><circle cx="181.6" cy="540.0" r="2.75"/><circle cx="184.9" cy="540.2" r="2.75"/><circle cx="188.1" cy="540.3" r="2.75"/><circle cx="191.3" cy="540.1" r="2.75"/><circle cx="194.5" cy="540.1" r="2.75"/><circle cx="197.7" cy="540.4" r="2.75"/><circle cx="201.0" cy="540.4" r="2.75"/><circle cx="204.2" cy="539.9" r="2.75"/><circle cx="207.4" cy="539.9" r="2.75"/><circle cx="210.6" cy="540.2" r="2.75"/><circle cx="213.8" cy="539.9" r="2.75"/><circle cx="217.0" cy="540.0" r="2.75"/><circle cx="220.3" cy="540.0" r="2.75"/><circle cx="223.5" cy="540.1" r="2.75"/><circle cx="226.7" cy="539.6" r="2.75"/><circle cx="229.9" cy="539.6" r="2.75"/><circle cx="233.1" cy="539.7" r="2.75"/><circle cx="236.3" cy="540.0" r="2.75"/><circle cx="239.6" cy="539.7" r="2.75"/><circle cx="242.8" cy="539.4" r="2.75"/><circle cx="246.0" cy="539.7" r="2.75"/><circle cx="249.2" cy="539.6" r="2.75"/><circle cx="252.4" cy="539.4" r="2.75"/><circle cx="255.6" cy="539.3" r="2.75"/><circle cx="258.9" cy="539.3" r="2.75"/><circle cx="262.1" cy="539.2" r="2.75"/><circle cx="265.3" cy="538.9" r="2.75"/><circle cx="268.5" cy="538.7" r="2.75"/><circle cx="271.7" cy="538.3" r="2.75"/><circle cx="274.9" cy="537.8" r="2.75"/><circle cx="278.2" cy="537.0" r="2.75"/><circle cx="281.4" cy="536.1" r="2.75"/><circle cx="284.6" cy="534.4" r="2.75"/><circle cx="287.8" cy="531.8" r="2.75"/><circle cx="291.0" cy="528.1" r="2.75"/><circle cx="294.2" cy="522.6" r="2.75"/><circle cx="297.5" cy="515.5" r="2.75"/><circle cx="300.7" cy="506.1" r="2.75"/><circle cx="303.9" cy="496.0" r="2.75"/><circle cx="307.1" cy="484.7" r="2.75"/><circle cx="310.3" cy="474.1" r="2.75"/><circle cx="313.5" cy="465.7" r="2.75"/><circle cx="316.8" cy="461.4" r="2.75"/><circle cx="320.0" cy="461.7" r="2.75"/><circle cx="323.2" cy="466.6" r="2.75"/><circle cx="326.4" cy="475.2" r="2.75"/><circle cx="329.6" cy="486.1" r="2.75"/><circle cx="332.8" cy="497.1" r="2.75"/><circle cx="336.1" cy="507.7" r="2.75"/><circle cx="339.3" cy="516.0" r="2.75"/><circle cx="342.5" cy="522.9" r="2.75"/><circle cx="345.7" cy="528.4" r="2.75"/><circle cx="348.9" cy="532.1" r="2.75"/><circle cx="352.2" cy="534.5" r="2.75"/><circle cx="355.4" cy="536.2" r="2.75"/><circle cx="358.6" cy="537.4" r="2.75"/><circle cx="361.8" cy="537.7" r="2.75"/><circle cx="365.0" cy="538.1" r="2.75"/><circle cx="368.2" cy="538.2" r="2.75"/><circle cx="371.5" cy="538.7" r="2.75"/><circle cx="374.7" cy="539.0" r="2.75"/><circle cx="377.9" cy="538.9" r="2.75"/><circle cx="381.1" cy="539.2" r="2.75"/><circle cx="384.3" cy="539.2" r="2.75"/><circle cx="387.5" cy="539.5" r="2.75"/><circle cx="390.8" cy="539.3" r="2.75"/><circle cx="394.0" cy="539.2" r="2.75"/><circle cx="397.2" cy="539.3" r="2.75"/><circle cx="400.4" cy="539.2" r="2.75"/><circle cx="403.6" cy="539.2" r="2.75"/><circle cx="406.8" cy="539.5" r="2.75"/><circle cx="410.1" cy="539.5" r="2.75"/><circle cx="413.3" cy="539.7" r="2.75"/><circle cx="416.5" cy="539.4" r="2.75"/><circle cx="419.7" cy="539.3" r="2.75"/><circle cx="422.9" cy="539.1" r="2.75"/><circle cx="426.1" cy="539.3" r="2.75"/><circle cx="429.4" cy="539.1" r="2.75"/><circle cx="432.6" cy="538.8" r="2.75"/><circle cx="435.8" cy="538.8" r="2.75"/><circle cx="439.0" cy="538.5" r="2.75"/><circle cx="442.2" cy="537.8" r="2.75"/><circle cx="445.4" cy="537.8" r="2.75"/><circle cx="448.7" cy="537.2" r="2.75"/><circle cx="451.9" cy="536.5" r="2.75"/><circle cx="455.1" cy="535.7" r="2.75"/><circle cx="458.3" cy="535.2" r="2.75"/><circle cx="461.5" cy="534.2" r="2.75"/><circle cx="464.7" cy="533.2" r="2.75"/><circle cx="468.0" cy="531.5" r="2.75"/><circle cx="471.2" cy="530.3" r="2.75"/><circle cx="474.4" cy="529.2" r="2.75"/><circle cx="477.6" cy="527.4" r="2.75"/><circle cx="480.8" cy="526.1" r="2.75"/><circle cx="484.0" cy="524.5" r="2.75"/><circle cx="487.3" cy="523.8" r="2.75"/><circle cx="490.5" cy="522.5" r="2.75"/><circle cx="493.7" cy="521.5" r="2.75"/><circle cx="496.9" cy="520.8" r="2.75"/><circle cx="500.1" cy="520.3" r="2.75"/><circle cx="503.3" cy="520.3" r="2.75"/><circle cx="506.6" cy="520.8" r="2.75"/><circle cx="509.8" cy="521.3" r="2.75"/><circle cx="513.0" cy="522.5" r="2.75"/><circle cx="516.2" cy="523.5" r="2.75"/><circle cx="519.4" cy="524.7" r="2.75"/><circle cx="522.7" cy="526.4" r="2.75"/><circle cx="525.9" cy="527.7" r="2.75"/><circle cx="529.1" cy="529.2" r="2.75"/><circle cx="532.3" cy="530.4" r="2.75"/><circle cx="535.5" cy="531.5" r="2.75"/><circle cx="538.7" cy="533.1" r="2.75"/><circle cx="542.0" cy="533.9" r="2.75"/><circle cx="545.2" cy="535.3" r="2.75"/><circle cx="548.4" cy="535.7" r="2.75"/><circle cx="551.6" cy="536.4" r="2.75"/><circle cx="554.8" cy="537.4" r="2.75"/><circle cx="558.0" cy="537.9" r="2.75"/><circle cx="561.3" cy="538.3" r="2.75"/><circle cx="564.5" cy="538.5" r="2.75"/><circle cx="567.7" cy="539.1" r="2.75"/><circle cx="570.9" cy="538.9" r="2.75"/><circle cx="574.1" cy="539.3" r="2.75"/><circle cx="577.3" cy="539.4" r="2.75"/><circle cx="580.6" cy="539.6" r="2.75"/><circle cx="583.8" cy="539.8" r="2.75"/><circle cx="587.0" cy="539.7" r="2.75"/><circle cx="590.2" cy="539.9" r="2.75"/><circle cx="593.4" cy="540.0" r="2.75"/><circle cx="596.6" cy="539.7" r="2.75"/><circle cx="599.9" cy="539.8" r="2.75"/><circle cx="603.1" cy="540.0" r="2.75"/><circle cx="606.3" cy="540.0" r="2.75"/><circle cx="609.5" cy="540.1" r="2.75"/><circle cx="612.7" cy="539.8" r="2.75"/><circle cx="615.9" cy="540.3" r="2.75"/><circle cx="619.2" cy="540.3" r="2.75"/><circle cx="622.4" cy="540.2" r="2.75"/><circle cx="625.6" cy="540.0" r="2.75"/><circle cx="628.8" cy="540.2" r="2.75"/><circle cx="632.0" cy="540.2" r="2.75"/><circle cx="635.2" cy="540.3" r="2.75"/><circle cx="638.5" cy="540.3" r="2.75"/><circle cx="641.7" cy="540.4" r="2.75"/><circle cx="644.9" cy="540.2" r="2.75"/><circle cx="648.1" cy="540.5" r="2.75"/><circle cx="651.3" cy="540.0" r="2.75"/><circle cx="654.5" cy="540.2" r="2.75"/><circle cx="657.8" cy="540.4" r="2.75"/><circle cx="661.0" cy="540.1" r="2.75"/></g>
<path fill="none" stroke="#ffc000" stroke-width="1.6" d="M51.4 607.9 53.0 607.9 54.6 607.9 56.2 607.9 57.8 607.9 59.4 607.9 61.0 607.9 62.6 607.9 64.2 607.9 65.8 607.9 67.4 607.9 69.0 607.9 70.7 607.9 72.3 607.9 73.9 607.9 75.5 607.9 77.1 607.9 78.7 607.9 80.3 607.9 81.9 607.9 83.5 607.9 85.1 607.9 86.7 607.9 88.3 607.9 90.0 607.9 91.6 607.9 93.2 607.9 94.8 607.9 96.4 607.9 98.0 607.9 99.6 607.9 101.2 607.9 102.8 607.9 104.4 607.9 106.0 607.9 107.6 607.9 109.3 607.9 110.9 607.9 112.5 607.9 114.1 607.9 115.7 607.9 117.3 607.8 118.9 607.8 120.5 607.8 122.1 607.8 123.7 607.8 125.3 607.8 126.9 607.8 128.6 607.8 130.2 607.8 131.8 607.8 133.4 607.8 135.0 607.8 136.6 607.8 138.2 607.8 139.8 607.8 141.4 607.8 143.0 607.8 144.6 607.8 146.3 607.8 147.9 607.8 149.5 607.8 151.1 607.8 152.7 607.8 154.3 607.8 155.9 607.8 157.5 607.8 159.1 607.8 160.7 607.8 162.3 607.8 163.9 607.8 165.6 607.8 167.2 607.8 168.8 607.7 170.4 607.7 172.0 607.7 173.6 607.7 175.2 607.7 176.8 607.7 178.4 607.7 180.0 607.7 181.6 607.7 183.2 607.7 184.9 607.7 186.5 607.7 188.1 607.7 189.7 607.7 191.3 607.7 192.9 607.7 194.5 607.6 196.1 607.6 197.7 607.6 199.3 607.6 200.9 607.6 202.5 607.6 204.2 607.6 205.8 607.6 207.4 607.6 209.0 607.6 210.6 607.5 212.2 607.5 213.8 607.5 215.4 607.5 217.0 607.5 218.6 607.5 220.2 607.5 221.9 607.4 223.5 607.4 225.1 607.4 226.7 607.4 228.3 607.4 229.9 607.4 231.5 607.3 233.1 607.3 234.7 607.3 236.3 607.3 237.9 607.2 239.5 607.2 241.2 607.2 242.8 607.1 244.4 607.1 246.0 607.1 247.6 607.0 249.2 607.0 250.8 607.0 252.4 606.9 254.0 606.9 255.6 606.8 257.2 606.8 258.8 606.7 260.5 606.6 262.1 606.6 263.7 606.5 265.3 606.4 266.9 606.3 268.5 606.2 270.1 606.1 271.7 606.0 273.3 605.8 274.9 605.6 276.5 605.4 278.1 605.1 279.8 604.8 281.4 604.4 283.0 603.9 284.6 603.2 286.2 602.5 287.8 601.5 289.4 600.3 291.0 598.8 292.6 597.0 294.2 594.9 295.8 592.5 297.5 589.6 299.1 586.4 300.7 582.7 302.3 578.7 303.9 574.4 305.5 569.9 307.1 565.2 308.7 560.5 310.3 555.9 311.9 551.6 313.5 547.8 315.1 544.7 316.8 542.5 318.4 541.4 320.0 541.4 321.6 542.5 323.2 544.7 324.8 547.8 326.4 551.6 328.0 555.8 329.6 560.4 331.2 565.1 332.8 569.8 334.4 574.4 336.1 578.7 337.7 582.7 339.3 586.3 340.9 589.6 342.5 592.4 344.1 594.9 345.7 597.0 347.3 598.7 348.9 600.2 350.5 601.4 352.1 602.3 353.7 603.1 355.4 603.8 357.0 604.3 358.6 604.7 360.2 605.0 361.8 605.2 363.4 605.5 365.0 605.6 366.6 605.8 368.2 605.9 369.8 606.0 371.4 606.1 373.1 606.2 374.7 606.3 376.3 606.3 377.9 606.4 379.5 606.5 381.1 606.5 382.7 606.6 384.3 606.6 385.9 606.6 387.5 606.7 389.1 606.7 390.7 606.7 392.4 606.8 394.0 606.8 395.6 606.8 397.2 606.8 398.8 606.8 400.4 606.8 402.0 606.9 403.6 606.9 405.2 606.9 406.8 606.9 408.4 606.9 410.0 606.9 411.7 606.8 413.3 606.8 414.9 606.8 416.5 606.8 418.1 606.8 419.7 606.8 421.3 606.7 422.9 606.7 424.5 606.6 426.1 606.6 427.7 606.5 429.3 606.5 431.0 606.4 432.6 606.3 434.2 606.2 435.8 606.1 437.4 606.0 439.0 605.8 440.6 605.7 442.2 605.5 443.8 605.4 445.4 605.2 447.0 605.0 448.6 604.7 450.3 604.5 451.9 604.2 453.5 603.9 455.1 603.6 456.7 603.3 458.3 603.0 459.9 602.6 461.5 602.2 463.1 601.8 464.7 601.4 466.3 601.0 468.0 600.5 469.6 600.0 471.2 599.6 472.8 599.1 474.4 598.6 476.0 598.0 477.6 597.5 479.2 597.0 480.8 596.5 482.4 596.0 484.0 595.5 485.6 595.0 487.3 594.6 488.9 594.1 490.5 593.7 492.1 593.3 493.7 593.0 495.3 592.7 496.9 592.4 498.5 592.2 500.1 592.1 501.7 592.0 503.3 592.0 504.9 592.0 506.6 592.1 508.2 592.2 509.8 592.4 511.4 592.6 513.0 592.9 514.6 593.2 516.2 593.6 517.8 594.0 519.4 594.4 521.0 594.9 522.6 595.4 524.2 595.9 525.9 596.4 527.5 596.9 529.1 597.4 530.7 597.9 532.3 598.4 533.9 599.0 535.5 599.5 537.1 600.0 538.7 600.4 540.3 600.9 541.9 601.3 543.6 601.8 545.2 602.2 546.8 602.6 548.4 603.0 550.0 603.3 551.6 603.7 553.2 604.0 554.8 604.3 556.4 604.6 558.0 604.8 559.6 605.1 561.2 605.3 562.9 605.5 564.5 605.7 566.1 605.9 567.7 606.0 569.3 606.2 570.9 606.3 572.5 606.4 574.1 606.5 575.7 606.6 577.3 606.7 578.9 606.8 580.5 606.9 582.2 607.0 583.8 607.0 585.4 607.1 587.0 607.1 588.6 607.2 590.2 607.2 591.8 607.2 593.4 607.3 595.0 607.3 596.6 607.3 598.2 607.4 599.8 607.4 601.5 607.4 603.1 607.4 604.7 607.5 606.3 607.5 607.9 607.5 609.5 607.5 611.1 607.5 612.7 607.5 614.3 607.5 615.9 607.6 617.5 607.6 619.2 607.6 620.8 607.6 622.4 607.6 624.0 607.6 625.6 607.6 627.2 607.6 628.8 607.6 630.4 607.6 632.0 607.6 633.6 607.7 635.2 607.7 636.8 607.7 638.5 607.7 640.1 607.7 641.7 607.7 643.3 607.7 644.9 607.7 646.5 607.7 648.1 607.7 649.7 607.7 651.3 607.7 652.9 607.7 654.5 607.7 656.1 607.7 657.8 607.7 659.4 607.7 661.0 607.8 662.6 607.8"/>
<path fill="none" stroke="#7030a0" stroke-width="1.6" d="M50.8 607.9 52.4 607.9 54.0 607.9 55.6 607.9 57.2 607.9 58.8 607.9 60.4 607.9 62.0 607.9 63.6 607.9 65.2 607.9 66.8 607.9 68.4 607.9 70.1 607.9 71.7 607.9 73.3 607.9 74.9 607.9 76.5 607.9 78.1 607.9 79.7 607.9 81.3 607.9 82.9 607.9 84.5 607.9 86.1 607.9 87.7 607.9 89.4 607.9 91.0 607.9 92.6 607.9 94.2 607.9 95.8 607.9 97.4 607.9 99.0 607.9 100.6 607.9 102.2 607.9 103.8 607.9 105.4 607.9 107.0 607.9 108.7 607.9 110.3 607.9 111.9 607.9 113.5 607.9 115.1 607.9 116.7 607.8 118.3 607.8 119.9 607.8 121.5 607.8 123.1 607.8 124.7 607.8 126.3 607.8 128.0 607.8 129.6 607.8 131.2 607.8 132.8 607.8 134.4 607.8 136.0 607.8 137.6 607.8 139.2 607.8 140.8 607.8 142.4 607.8 144.0 607.8 145.7 607.8 147.3 607.8 148.9 607.8 150.5 607.8 152.1 607.8 153.7 607.8 155.3 607.8 156.9 607.8 158.5 607.8 160.1 607.8 161.7 607.8 163.3 607.8 165.0 607.8 166.6 607.8 168.2 607.7 169.8 607.7 171.4 607.7 173.0 607.7 174.6 607.7 176.2 607.7 177.8 607.7 179.4 607.7 181.0 607.7 182.6 607.7 184.3 607.7 185.9 607.7 187.5 607.7 189.1 607.7 190.7 607.7 192.3 607.7 193.9 607.6 195.5 607.6 197.1 607.6 198.7 607.6 200.3 607.6 201.9 607.6 203.6 607.6 205.2 607.6 206.8 607.6 208.4 607.6 210.0 607.5 211.6 607.5 213.2 607.5 214.8 607.5 216.4 607.5 218.0 607.5 219.6 607.5 221.3 607.4 222.9 607.4 224.5 607.4 226.1 607.4 227.7 607.4 229.3 607.4 230.9 607.3 232.5 607.3 234.1 607.3 235.7 607.3 237.3 607.2 238.9 607.2 240.6 607.2 242.2 607.1 243.8 607.1 245.4 607.1 247.0 607.0 248.6 607.0 250.2 607.0 251.8 606.9 253.4 606.9 255.0 606.8 256.6 606.8 258.2 606.7 259.9 606.6 261.5 606.6 263.1 606.5 264.7 606.4 266.3 606.3 267.9 606.2 269.5 606.1 271.1 606.0 272.7 605.8 274.3 605.6 275.9 605.4 277.5 605.1 279.2 604.8 280.8 604.4 282.4 603.9 284.0 603.2 285.6 602.5 287.2 601.5 288.8 600.3 290.4 598.8 292.0 597.0 293.6 594.9 295.2 592.5 296.9 589.6 298.5 586.4 300.1 582.7 301.7 578.7 303.3 574.4 304.9 569.9 306.5 565.2 308.1 560.5 309.7 555.9 311.3 551.6 312.9 547.8 314.5 544.7 316.2 542.5 317.8 541.4 319.4 541.4 321.0 542.5 322.6 544.7 324.2 547.8 325.8 551.6 327.4 555.8 329.0 560.4 330.6 565.1 332.2 569.8 333.8 574.4 335.5 578.7 337.1 582.7 338.7 586.3 340.3 589.6 341.9 592.4 343.5 594.9 345.1 597.0 346.7 598.7 348.3 600.2 349.9 601.4 351.5 602.3 353.1 603.1 354.8 603.8 356.4 604.3 358.0 604.7 359.6 605.0 361.2 605.2 362.8 605.5 364.4 605.6 366.0 605.8 367.6 605.9 369.2 606.0 370.8 606.1 372.5 606.2 374.1 606.3 375.7 606.3 377.3 606.4 378.9 606.5 380.5 606.5 382.1 606.6 383.7 606.6 385.3 606.6 386.9 606.7 388.5 606.7 390.1 606.7 391.8 606.8 393.4 606.8 395.0 606.8 396.6 606.8 398.2 606.8 399.8 606.8 401.4 606.9 403.0 606.9 404.6 606.9 406.2 606.9 407.8 606.9 409.4 606.9 411.1 606.8 412.7 606.8 414.3 606.8 415.9 606.8 417.5 606.8 419.1 606.8 420.7 606.7 422.3 606.7 423.9 606.6 425.5 606.6 427.1 606.5 428.7 606.5 430.4 606.4 432.0 606.3 433.6 606.2 435.2 606.1 436.8 606.0 438.4 605.8 440.0 605.7 441.6 605.5 443.2 605.4 444.8 605.2 446.4 605.0 448.0 604.7 449.7 604.5 451.3 604.2 452.9 603.9 454.5 603.6 456.1 603.3 457.7 603.0 459.3 602.6 460.9 602.2 462.5 601.8 464.1 601.4 465.7 601.0 467.4 600.5 469.0 600.0 470.6 599.6 472.2 599.1 473.8 598.6 475.4 598.0 477.0 597.5 478.6 597.0 480.2 596.5 481.8 596.0 483.4 595.5 485.0 595.0 486.7 594.6 488.3 594.1 489.9 593.7 491.5 593.3 493.1 593.0 494.7 592.7 496.3 592.4 497.9 592.2 499.5 592.1 501.1 592.0 502.7 592.0 504.3 592.0 506.0 592.1 507.6 592.2 509.2 592.4 510.8 592.6 512.4 592.9 514.0 593.2 515.6 593.6 517.2 594.0 518.8 594.4 520.4 594.9 522.0 595.4 523.6 595.9 525.3 596.4 526.9 596.9 528.5 597.4 530.1 597.9 531.7 598.4 533.3 599.0 534.9 599.5 536.5 600.0 538.1 600.4 539.7 600.9 541.3 601.3 543.0 601.8 544.6 602.2 546.2 602.6 547.8 603.0 549.4 603.3 551.0 603.7 552.6 604.0 554.2 604.3 555.8 604.6 557.4 604.8 559.0 605.1 560.6 605.3 562.3 605.5 563.9 605.7 565.5 605.9 567.1 606.0 568.7 606.2 570.3 606.3 571.9 606.4 573.5 606.5 575.1 606.6 576.7 606.7 578.3 606.8 579.9 606.9 581.6 607.0 583.2 607.0 584.8 607.1 586.4 607.1 588.0 607.2 589.6 607.2 591.2 607.2 592.8 607.3 594.4 607.3 596.0 607.3 597.6 607.4 599.2 607.4 600.9 607.4 602.5 607.4 604.1 607.5 605.7 607.5 607.3 607.5 608.9 607.5 610.5 607.5 612.1 607.5 613.7 607.5 615.3 607.6 616.9 607.6 618.6 607.6 620.2 607.6 621.8 607.6 623.4 607.6 625.0 607.6 626.6 607.6 628.2 607.6 629.8 607.6 631.4 607.6 633.0 607.7 634.6 607.7 636.2 607.7 637.9 607.7 639.5 607.7 641.1 607.7 642.7 607.7 644.3 607.7 645.9 607.7 647.5 607.7 649.1 607.7 650.7 607.7 652.3 607.7 653.9 607.7 655.5 607.7 657.2 607.7 658.8 607.7 660.4 607.8 662.0 607.8"/>
<g fill="none" stroke="#00b050" stroke-width="1.75"><circle cx="53.4" cy="608.0" r="2.75"/><circle cx="56.6" cy="607.7" r="2.75"/><circle cx="59.9" cy="607.9" r="2.75"/><circle cx="63.1" cy="607.8" r="2.75"/><circle cx="66.3" cy="607.8" r="2.75"/><circle cx="69.5" cy="607.9" r="2.75"/><circle cx="72.7" cy="607.9" r="2.75"/><circle cx="75.9" cy="607.8" r="2.75"/><circle cx="79.2" cy="608.2" r="2.75"/><circle cx="82.4" cy="607.9" r="2.75"/><circle cx="85.6" cy="607.7" r="2.75"/><circle cx="88.8" cy="608.0" r="2.75"/><circle cx="92.0" cy="608.0" r="2.75"/><circle cx="95.2" cy="608.1" r="2.75"/><circle cx="98.5" cy="608.1" r="2.75"/><circle cx="101.7" cy="607.7" r="2.75"/><circle cx="104.9" cy="608.0" r="2.75"/><circle cx="108.1" cy="608.0" r="2.75"/><circle cx="111.3" cy="607.9" r="2.75"/><circle cx="114.5" cy="607.9" r="2.75"/><circle cx="117.8" cy="607.4" r="2.75"/><circle cx="121.0" cy="607.8" r="2.75"/><circle cx="124.2" cy="608.1" r="2.75"/><circle cx="127.4" cy="607.6" r="2.75"/><circle cx="130.6" cy="607.7" r="2.75"/><circle cx="133.8" cy="607.9" r="2.75"/><circle cx="137.1" cy="607.9" r="2.75"/><circle cx="140.3" cy="608.1" r="2.75"/><circle cx="143.5" cy="607.5" r="2.75"/><circle cx="146.7" cy="607.8" r="2.75"/><circle cx="149.9" cy="607.9" r="2.75"/><circle cx="153.1" cy="607.6" r="2.75"/><circle cx="156.4" cy="607.8" r="2.75"/><circle cx="159.6" cy="608.1" r="2.75"/><circle cx="162.8" cy="608.0" r="2.75"/><circle cx="166.0" cy="607.8" r="2.75"/><circle cx="169.2" cy="607.4" r="2.75"/><circle cx="172.4" cy="607.7" r="2.75"/><circle cx="175.7" cy="607.8" r="2.75"/><circle cx="178.9" cy="607.7" r="2.75"/><circle cx="182.1" cy="607.7" r="2.75"/><circle cx="185.3" cy="608.1" r="2.75"/><circle cx="188.5" cy="607.6" r="2.75"/><circle cx="191.8" cy="607.5" r="2.75"/><circle cx="195.0" cy="607.7" r="2.75"/><circle cx="198.2" cy="607.6" r="2.75"/><circle cx="201.4" cy="607.6" r="2.75"/><circle cx="204.6" cy="607.6" r="2.75"/><circle cx="207.8" cy="607.7" r="2.75"/><circle cx="211.1" cy="607.6" r="2.75"/><circle cx="214.3" cy="607.3" r="2.75"/><circle cx="217.5" cy="607.5" r="2.75"/><circle cx="220.7" cy="607.5" r="2.75"/><circle cx="223.9" cy="607.4" r="2.75"/><circle cx="227.1" cy="607.6" r="2.75"/><circle cx="230.4" cy="607.5" r="2.75"/><circle cx="233.6" cy="607.1" r="2.75"/><circle cx="236.8" cy="607.3" r="2.75"/><circle cx="240.0" cy="607.5" r="2.75"/><circle cx="243.2" cy="607.4" r="2.75"/><circle cx="246.4" cy="607.0" r="2.75"/><circle cx="249.7" cy="607.1" r="2.75"/><circle cx="252.9" cy="606.8" r="2.75"/><circle cx="256.1" cy="606.6" r="2.75"/><circle cx="259.3" cy="606.7" r="2.75"/><circle cx="262.5" cy="606.6" r="2.75"/><circle cx="265.7" cy="606.4" r="2.75"/><circle cx="269.0" cy="606.1" r="2.75"/><circle cx="272.2" cy="605.9" r="2.75"/><circle cx="275.4" cy="605.4" r="2.75"/><circle cx="278.6" cy="605.0" r="2.75"/><circle cx="281.8" cy="604.2" r="2.75"/><circle cx="285.0" cy="602.7" r="2.75"/><circle cx="288.3" cy="600.8" r="2.75"/><circle cx="291.5" cy="597.4" r="2.75"/><circle cx="294.7" cy="593.2" r="2.75"/><circle cx="297.9" cy="587.7" r="2.75"/><circle cx="301.1" cy="580.4" r="2.75"/><circle cx="304.3" cy="571.5" r="2.75"/><circle cx="307.6" cy="562.0" r="2.75"/><circle cx="310.8" cy="552.8" r="2.75"/><circle cx="314.0" cy="545.7" r="2.75"/><circle cx="317.2" cy="541.8" r="2.75"/><circle cx="320.4" cy="541.8" r="2.75"/><circle cx="323.6" cy="546.7" r="2.75"/><circle cx="326.9" cy="554.4" r="2.75"/><circle cx="330.1" cy="563.6" r="2.75"/><circle cx="333.3" cy="572.7" r="2.75"/><circle cx="336.5" cy="581.5" r="2.75"/><circle cx="339.7" cy="588.3" r="2.75"/><circle cx="343.0" cy="594.3" r="2.75"/><circle cx="346.2" cy="598.2" r="2.75"/><circle cx="349.4" cy="600.8" r="2.75"/><circle cx="352.6" cy="603.1" r="2.75"/><circle cx="355.8" cy="604.3" r="2.75"/><circle cx="359.0" cy="604.8" r="2.75"/><circle cx="362.3" cy="605.7" r="2.75"/><circle cx="365.5" cy="605.6" r="2.75"/><circle cx="368.7" cy="606.0" r="2.75"/><circle cx="371.9" cy="606.4" r="2.75"/><circle cx="375.1" cy="606.0" r="2.75"/><circle cx="378.3" cy="606.6" r="2.75"/><circle cx="381.6" cy="606.5" r="2.75"/><circle cx="384.8" cy="606.6" r="2.75"/><circle cx="388.0" cy="606.5" r="2.75"/><circle cx="391.2" cy="606.8" r="2.75"/><circle cx="394.4" cy="606.6" r="2.75"/><circle cx="397.6" cy="606.7" r="2.75"/><circle cx="400.9" cy="606.8" r="2.75"/><circle cx="404.1" cy="606.7" r="2.75"/><circle cx="407.3" cy="607.1" r="2.75"/><circle cx="410.5" cy="606.7" r="2.75"/><circle cx="413.7" cy="606.7" r="2.75"/><circle cx="416.9" cy="606.7" r="2.75"/><circle cx="420.2" cy="606.7" r="2.75"/><circle cx="423.4" cy="606.8" r="2.75"/><circle cx="426.6" cy="606.7" r="2.75"/><circle cx="429.8" cy="606.4" r="2.75"/><circle cx="433.0" cy="606.2" r="2.75"/><circle cx="436.2" cy="606.0" r="2.75"/><circle cx="439.5" cy="605.9" r="2.75"/><circle cx="442.7" cy="605.5" r="2.75"/><circle cx="445.9" cy="604.9" r="2.75"/><circle cx="449.1" cy="604.3" r="2.75"/><circle cx="452.3" cy="604.4" r="2.75"/><circle cx="455.5" cy="603.6" r="2.75"/><circle cx="458.8" cy="602.8" r="2.75"/><circle cx="462.0" cy="602.0" r="2.75"/><circle cx="465.2" cy="601.0" r="2.75"/><circle cx="468.4" cy="600.0" r="2.75"/><circle cx="471.6" cy="599.2" r="2.75"/><circle cx="474.8" cy="598.2" r="2.75"/><circle cx="478.1" cy="597.1" r="2.75"/><circle cx="481.3" cy="596.0" r="2.75"/><circle cx="484.5" cy="595.1" r="2.75"/><circle cx="487.7" cy="594.4" r="2.75"/><circle cx="490.9" cy="593.4" r="2.75"/><circle cx="494.1" cy="592.8" r="2.75"/><circle cx="497.4" cy="592.0" r="2.75"/><circle cx="500.6" cy="592.0" r="2.75"/><circle cx="503.8" cy="592.0" r="2.75"/><circle cx="507.0" cy="592.0" r="2.75"/><circle cx="510.2" cy="592.3" r="2.75"/><circle cx="513.5" cy="593.2" r="2.75"/><circle cx="516.7" cy="593.7" r="2.75"/><circle cx="519.9" cy="594.8" r="2.75"/><circle cx="523.1" cy="595.6" r="2.75"/><circle cx="526.3" cy="596.8" r="2.75"/><circle cx="529.5" cy="597.7" r="2.75"/><circle cx="532.8" cy="598.6" r="2.75"/><circle cx="536.0" cy="599.8" r="2.75"/><circle cx="539.2" cy="600.7" r="2.75"/><circle cx="542.4" cy="601.7" r="2.75"/><circle cx="545.6" cy="602.4" r="2.75"/><circle cx="548.8" cy="603.2" r="2.75"/><circle cx="552.1" cy="604.0" r="2.75"/><circle cx="555.3" cy="604.6" r="2.75"/><circle cx="558.5" cy="605.1" r="2.75"/><circle cx="561.7" cy="605.6" r="2.75"/><circle cx="564.9" cy="605.9" r="2.75"/><circle cx="568.1" cy="606.2" r="2.75"/><circle cx="571.4" cy="606.5" r="2.75"/><circle cx="574.6" cy="606.7" r="2.75"/><circle cx="577.8" cy="606.8" r="2.75"/><circle cx="581.0" cy="607.0" r="2.75"/><circle cx="584.2" cy="607.4" r="2.75"/><circle cx="587.4" cy="607.2" r="2.75"/><circle cx="590.7" cy="607.2" r="2.75"/><circle cx="593.9" cy="607.2" r="2.75"/><circle cx="597.1" cy="607.4" r="2.75"/><circle cx="600.3" cy="607.4" r="2.75"/><circle cx="603.5" cy="607.3" r="2.75"/><circle cx="606.7" cy="607.2" r="2.75"/><circle cx="610.0" cy="607.6" r="2.75"/><circle cx="613.2" cy="607.3" r="2.75"/><circle cx="616.4" cy="607.6" r="2.75"/><circle cx="619.6" cy="607.6" r="2.75"/><circle cx="622.8" cy="607.8" r="2.75"/><circle cx="626.0" cy="607.9" r="2.75"/><circle cx="629.3" cy="607.7" r="2.75"/><circle cx="632.5" cy="607.6" r="2.75"/><circle cx="635.7" cy="607.5" r="2.75"/><circle cx="638.9" cy="607.6" r="2.75"/><circle cx="642.1" cy="607.7" r="2.75"/><circle cx="645.3" cy="607.4" r="2.75"/><circle cx="648.6" cy="607.7" r="2.75"/><circle cx="651.8" cy="607.7" r="2.75"/><circle cx="655.0" cy="607.8" r="2.75"/><circle cx="658.2" cy="607.7" r="2.75"/><circle cx="661.4" cy="607.8" r="2.75"/></g>
<path fill="none" stroke="#ffc000" stroke-width="1.6" d="M51.4 675.7 53.0 675.7 54.6 675.7 56.2 675.7 57.8 675.7 59.4 675.7 61.0 675.7 62.6 675.7 64.2 675.7 65.8 675.7 67.4 675.7 69.0 675.7 70.7 675.7 72.3 675.7 73.9 675.7 75.5 675.7 77.1 675.7 78.7 675.7 80.3 675.7 81.9 675.7 83.5 675.7 85.1 675.7 86.7 675.7 88.3 675.7 90.0 675.7 91.6 675.7 93.2 675.7 94.8 675.7 96.4 675.7 98.0 675.7 99.6 675.7 101.2 675.7 102.8 675.7 104.4 675.7 106.0 675.7 107.6 675.7 109.3 675.7 110.9 675.7 112.5 675.7 114.1 675.7 115.7 675.7 117.3 675.7 118.9 675.7 120.5 675.7 122.1 675.7 123.7 675.7 125.3 675.7 126.9 675.7 128.6 675.7 130.2 675.7 131.8 675.7 133.4 675.7 135.0 675.7 136.6 675.7 138.2 675.7 139.8 675.7 141.4 675.7 143.0 675.7 144.6 675.7 146.3 675.7 147.9 675.7 149.5 675.7 151.1 675.7 152.7 675.7 154.3 675.7 155.9 675.7 157.5 675.7 159.1 675.7 160.7 675.7 162.3 675.7 163.9 675.7 165.6 675.7 167.2 675.7 168.8 675.7 170.4 675.7 172.0 675.7 173.6 675.7 175.2 675.7 176.8 675.7 178.4 675.6 180.0 675.6 181.6 675.6 183.2 675.6 184.9 675.6 186.5 675.6 188.1 675.6 189.7 675.6 191.3 675.6 192.9 675.6 194.5 675.6 196.1 675.6 197.7 675.6 199.3 675.6 200.9 675.6 202.5 675.6 204.2 675.6 205.8 675.6 207.4 675.6 209.0 675.6 210.6 675.6 212.2 675.6 213.8 675.6 215.4 675.6 217.0 675.6 218.6 675.6 220.2 675.6 221.9 675.6 223.5 675.6 225.1 675.6 226.7 675.6 228.3 675.6 229.9 675.6 231.5 675.6 233.1 675.6 234.7 675.6 236.3 675.6 237.9 675.6 239.5 675.6 241.2 675.6 242.8 675.6 244.4 675.6 246.0 675.6 247.6 675.6 249.2 675.6 250.8 675.6 252.4 675.6 254.0 675.6 255.6 675.6 257.2 675.6 258.8 675.5 260.5 675.5 262.1 675.5 263.7 675.4 265.3 675.3 266.9 675.2 268.5 675.1 270.1 674.9 271.7 674.7 273.3 674.4 274.9 674.1 276.5 673.6 278.1 673.1 279.8 672.4 281.4 671.6 283.0 670.6 284.6 669.4 286.2 668.1 287.8 666.6 289.4 664.8 291.0 662.8 292.6 660.6 294.2 658.2 295.8 655.6 297.5 652.9 299.1 650.0 300.7 647.0 302.3 644.0 303.9 641.0 305.5 638.1 307.1 635.4 308.7 632.8 310.3 630.5 311.9 628.6 313.5 627.1 315.1 626.0 316.8 625.3 318.4 625.2 320.0 625.5 321.6 626.3 323.2 627.6 324.8 629.2 326.4 631.3 328.0 633.7 329.6 636.3 331.2 639.1 332.8 642.0 334.4 645.0 336.1 648.0 337.7 651.0 339.3 653.8 340.9 656.5 342.5 659.0 344.1 661.4 345.7 663.5 347.3 665.4 348.9 667.0 350.5 668.5 352.1 669.8 353.7 670.8 355.4 671.8 357.0 672.5 358.6 673.1 360.2 673.6 361.8 674.1 363.4 674.4 365.0 674.6 366.6 674.8 368.2 675.0 369.8 675.1 371.4 675.2 373.1 675.2 374.7 675.3 376.3 675.3 377.9 675.3 379.5 675.3 381.1 675.3 382.7 675.3 384.3 675.3 385.9 675.3 387.5 675.3 389.1 675.3 390.7 675.3 392.4 675.3 394.0 675.3 395.6 675.3 397.2 675.2 398.8 675.2 400.4 675.2 402.0 675.2 403.6 675.2 405.2 675.1 406.8 675.1 408.4 675.1 410.0 675.1 411.7 675.0 413.3 675.0 414.9 675.0 416.5 674.9 418.1 674.9 419.7 674.8 421.3 674.8 422.9 674.7 424.5 674.6 426.1 674.5 427.7 674.5 429.3 674.4 431.0 674.3 432.6 674.2 434.2 674.0 435.8 673.9 437.4 673.8 439.0 673.6 440.6 673.5 442.2 673.3 443.8 673.1 445.4 672.9 447.0 672.7 448.6 672.5 450.3 672.3 451.9 672.0 453.5 671.7 455.1 671.5 456.7 671.2 458.3 670.9 459.9 670.5 461.5 670.2 463.1 669.9 464.7 669.5 466.3 669.1 468.0 668.8 469.6 668.4 471.2 668.0 472.8 667.6 474.4 667.2 476.0 666.8 477.6 666.4 479.2 666.0 480.8 665.6 482.4 665.3 484.0 664.9 485.6 664.5 487.3 664.2 488.9 663.9 490.5 663.6 492.1 663.3 493.7 663.0 495.3 662.8 496.9 662.6 498.5 662.5 500.1 662.4 501.7 662.3 503.3 662.3 504.9 662.3 506.6 662.4 508.2 662.5 509.8 662.6 511.4 662.8 513.0 663.0 514.6 663.2 516.2 663.5 517.8 663.7 519.4 664.1 521.0 664.4 522.6 664.7 524.2 665.1 525.9 665.5 527.5 665.9 529.1 666.3 530.7 666.7 532.3 667.1 533.9 667.5 535.5 667.8 537.1 668.2 538.7 668.6 540.3 669.0 541.9 669.4 543.6 669.7 545.2 670.1 546.8 670.4 548.4 670.7 550.0 671.0 551.6 671.3 553.2 671.6 554.8 671.9 556.4 672.2 558.0 672.4 559.6 672.6 561.2 672.8 562.9 673.0 564.5 673.2 566.1 673.4 567.7 673.6 569.3 673.7 570.9 673.9 572.5 674.0 574.1 674.1 575.7 674.2 577.3 674.3 578.9 674.4 580.5 674.5 582.2 674.6 583.8 674.7 585.4 674.7 587.0 674.8 588.6 674.8 590.2 674.9 591.8 674.9 593.4 675.0 595.0 675.0 596.6 675.0 598.2 675.1 599.8 675.1 601.5 675.1 603.1 675.2 604.7 675.2 606.3 675.2 607.9 675.2 609.5 675.2 611.1 675.3 612.7 675.3 614.3 675.3 615.9 675.3 617.5 675.3 619.2 675.3 620.8 675.3 622.4 675.3 624.0 675.4 625.6 675.4 627.2 675.4 628.8 675.4 630.4 675.4 632.0 675.4 633.6 675.4 635.2 675.4 636.8 675.4 638.5 675.4 640.1 675.4 641.7 675.4 643.3 675.4 644.9 675.4 646.5 675.5 648.1 675.5 649.7 675.5 651.3 675.5 652.9 675.5 654.5 675.5 656.1 675.5 657.8 675.5 659.4 675.5 661.0 675.5 662.6 675.5"/>
<path fill="none" stroke="#7030a0" stroke-width="1.6" d="M50.8 675.7 52.4 675.7 54.0 675.7 55.6 675.7 57.2 675.7 58.8 675.7 60.4 675.7 62.0 675.7 63.6 675.7 65.2 675.7 66.8 675.7 68.4 675.7 70.1 675.7 71.7 675.7 73.3 675.7 74.9 675.7 76.5 675.7 78.1 675.7 79.7 675.7 81.3 675.7 82.9 675.7 84.5 675.7 86.1 675.7 87.7 675.7 89.4 675.7 91.0 675.7 92.6 675.7 94.2 675.7 95.8 675.7 97.4 675.7 99.0 675.7 100.6 675.7 102.2 675.7 103.8 675.7 105.4 675.7 107.0 675.7 108.7 675.7 110.3 675.7 111.9 675.7 113.5 675.7 115.1 675.7 116.7 675.7 118.3 675.7 119.9 675.7 121.5 675.7 123.1 675.7 124.7 675.7 126.3 675.7 128.0 675.7 129.6 675.7 131.2 675.7 132.8 675.7 134.4 675.7 136.0 675.7 137.6 675.7 139.2 675.7 140.8 675.7 142.4 675.7 144.0 675.7 145.7 675.7 147.3 675.7 148.9 675.7 150.5 675.7 152.1 675.7 153.7 675.7 155.3 675.7 156.9 675.7 158.5 675.7 160.1 675.7 161.7 675.7 163.3 675.7 165.0 675.7 166.6 675.7 168.2 675.7 169.8 675.7 171.4 675.7 173.0 675.7 174.6 675.7 176.2 675.7 177.8 675.6 179.4 675.6 181.0 675.6 182.6 675.6 184.3 675.6 185.9 675.6 187.5 675.6 189.1 675.6 190.7 675.6 192.3 675.6 193.9 675.6 195.5 675.6 197.1 675.6 198.7 675.6 200.3 675.6 201.9 675.6 203.6 675.6 205.2 675.6 206.8 675.6 208.4 675.6 210.0 675.6 211.6 675.6 213.2 675.6 214.8 675.6 216.4 675.6 218.0 675.6 219.6 675.6 221.3 675.6 222.9 675.6 224.5 675.6 226.1 675.6 227.7 675.6 229.3 675.6 230.9 675.6 232.5 675.6 234.1 675.6 235.7 675.6 237.3 675.6 238.9 675.6 240.6 675.6 242.2 675.6 243.8 675.6 245.4 675.6 247.0 675.6 248.6 675.6 250.2 675.6 251.8 675.6 253.4 675.6 255.0 675.6 256.6 675.6 258.2 675.5 259.9 675.5 261.5 675.5 263.1 675.4 264.7 675.3 266.3 675.2 267.9 675.1 269.5 674.9 271.1 674.7 272.7 674.4 274.3 674.1 275.9 673.6 277.5 673.1 279.2 672.4 280.8 671.6 282.4 670.6 284.0 669.4 285.6 668.1 287.2 666.6 288.8 664.8 290.4 662.8 292.0 660.6 293.6 658.2 295.2 655.6 296.9 652.9 298.5 650.0 300.1 647.0 301.7 644.0 303.3 641.0 304.9 638.1 306.5 635.4 308.1 632.8 309.7 630.5 311.3 628.6 312.9 627.1 314.5 626.0 316.2 625.3 317.8 625.2 319.4 625.5 321.0 626.3 322.6 627.6 324.2 629.2 325.8 631.3 327.4 633.7 329.0 636.3 330.6 639.1 332.2 642.0 333.8 645.0 335.5 648.0 337.1 651.0 338.7 653.8 340.3 656.5 341.9 659.0 343.5 661.4 345.1 663.5 346.7 665.4 348.3 667.0 349.9 668.5 351.5 669.8 353.1 670.8 354.8 671.8 356.4 672.5 358.0 673.1 359.6 673.6 361.2 674.1 362.8 674.4 364.4 674.6 366.0 674.8 367.6 675.0 369.2 675.1 370.8 675.2 372.5 675.2 374.1 675.3 375.7 675.3 377.3 675.3 378.9 675.3 380.5 675.3 382.1 675.3 383.7 675.3 385.3 675.3 386.9 675.3 388.5 675.3 390.1 675.3 391.8 675.3 393.4 675.3 395.0 675.3 396.6 675.2 398.2 675.2 399.8 675.2 401.4 675.2 403.0 675.2 404.6 675.1 406.2 675.1 407.8 675.1 409.4 675.1 411.1 675.0 412.7 675.0 414.3 675.0 415.9 674.9 417.5 674.9 419.1 674.8 420.7 674.8 422.3 674.7 423.9 674.6 425.5 674.5 427.1 674.5 428.7 674.4 430.4 674.3 432.0 674.2 433.6 674.0 435.2 673.9 436.8 673.8 438.4 673.6 440.0 673.5 441.6 673.3 443.2 673.1 444.8 672.9 446.4 672.7 448.0 672.5 449.7 672.3 451.3 672.0 452.9 671.7 454.5 671.5 456.1 671.2 457.7 670.9 459.3 670.5 460.9 670.2 462.5 669.9 464.1 669.5 465.7 669.1 467.4 668.8 469.0 668.4 470.6 668.0 472.2 667.6 473.8 667.2 475.4 666.8 477.0 666.4 478.6 666.0 480.2 665.6 481.8 665.3 483.4 664.9 485.0 664.5 486.7 664.2 488.3 663.9 489.9 663.6 491.5 663.3 493.1 663.0 494.7 662.8 496.3 662.6 497.9 662.5 499.5 662.4 501.1 662.3 502.7 662.3 504.3 662.3 506.0 662.4 507.6 662.5 509.2 662.6 510.8 662.8 512.4 663.0 514.0 663.2 515.6 663.5 517.2 663.7 518.8 664.1 520.4 664.4 522.0 664.7 523.6 665.1 525.3 665.5 526.9 665.9 528.5 666.3 530.1 666.7 531.7 667.1 533.3 667.5 534.9 667.8 536.5 668.2 538.1 668.6 539.7 669.0 541.3 669.4 543.0 669.7 544.6 670.1 546.2 670.4 547.8 670.7 549.4 671.0 551.0 671.3 552.6 671.6 554.2 671.9 555.8 672.2 557.4 672.4 559.0 672.6 560.6 672.8 562.3 673.0 563.9 673.2 565.5 673.4 567.1 673.6 568.7 673.7 570.3 673.9 571.9 674.0 573.5 674.1 575.1 674.2 576.7 674.3 578.3 674.4 579.9 674.5 581.6 674.6 583.2 674.7 584.8 674.7 586.4 674.8 588.0 674.8 589.6 674.9 591.2 674.9 592.8 675.0 594.4 675.0 596.0 675.0 597.6 675.1 599.2 675.1 600.9 675.1 602.5 675.2 604.1 675.2 605.7 675.2 607.3 675.2 608.9 675.2 610.5 675.3 612.1 675.3 613.7 675.3 615.3 675.3 616.9 675.3 618.6 675.3 620.2 675.3 621.8 675.3 623.4 675.4 625.0 675.4 626.6 675.4 628.2 675.4 629.8 675.4 631.4 675.4 633.0 675.4 634.6 675.4 636.2 675.4 637.9 675.4 639.5 675.4 641.1 675.4 642.7 675.4 644.3 675.4 645.9 675.5 647.5 675.5 649.1 675.5 650.7 675.5 652.3 675.5 653.9 675.5 655.5 675.5 657.2 675.5 658.8 675.5 660.4 675.5 662.0 675.5"/>
<g fill="none" stroke="#0000ff" stroke-width="1.75"><circle cx="51.5" cy="675.6" r="2.75"/><circle cx="54.7" cy="675.6" r="2.75"/><circle cx="57.9" cy="675.4" r="2.75"/><circle cx="61.1" cy="675.7" r="2.75"/><circle cx="64.4" cy="675.9" r="2.75"/><circle cx="67.6" cy="675.7" r="2.75"/><circle cx="70.8" cy="675.7" r="2.75"/><circle cx="74.0" cy="675.5" r="2.75"/><circle cx="77.2" cy="675.9" r="2.75"/><circle cx="80.4" cy="675.6" r="2.75"/><circle cx="83.7" cy="675.8" r="2.75"/><circle cx="86.9" cy="675.7" r="2.75"/><circle cx="90.1" cy="675.5" r="2.75"/><circle cx="93.3" cy="675.8" r="2.75"/><circle cx="96.5" cy="675.7" r="2.75"/><circle cx="99.7" cy="675.7" r="2.75"/><circle cx="103.0" cy="675.7" r="2.75"/><circle cx="106.2" cy="675.7" r="2.75"/><circle cx="109.4" cy="675.6" r="2.75"/><circle cx="112.6" cy="675.7" r="2.75"/><circle cx="115.8" cy="675.6" r="2.75"/><circle cx="119.0" cy="675.7" r="2.75"/><circle cx="122.3" cy="675.6" r="2.75"/><circle cx="125.5" cy="675.4" r="2.75"/><circle cx="128.7" cy="675.6" r="2.75"/><circle cx="131.9" cy="675.6" r="2.75"/><circle cx="135.1" cy="675.7" r="2.75"/><circle cx="138.3" cy="675.8" r="2.75"/><circle cx="141.6" cy="675.4" r="2.75"/><circle cx="144.8" cy="675.7" r="2.75"/><circle cx="148.0" cy="675.3" r="2.75"/><circle cx="151.2" cy="675.5" r="2.75"/><circle cx="154.4" cy="675.6" r="2.75"/><circle cx="157.7" cy="675.3" r="2.75"/><circle cx="160.9" cy="675.4" r="2.75"/><circle cx="164.1" cy="675.7" r="2.75"/><circle cx="167.3" cy="675.7" r="2.75"/><circle cx="170.5" cy="675.6" r="2.75"/><circle cx="173.7" cy="675.5" r="2.75"/><circle cx="177.0" cy="676.0" r="2.75"/><circle cx="180.2" cy="675.6" r="2.75"/><circle cx="183.4" cy="675.5" r="2.75"/><circle cx="186.6" cy="675.9" r="2.75"/><circle cx="189.8" cy="675.7" r="2.75"/><circle cx="193.0" cy="675.6" r="2.75"/><circle cx="196.3" cy="675.8" r="2.75"/><circle cx="199.5" cy="675.7" r="2.75"/><circle cx="202.7" cy="675.7" r="2.75"/><circle cx="205.9" cy="675.7" r="2.75"/><circle cx="209.1" cy="675.5" r="2.75"/><circle cx="212.3" cy="675.8" r="2.75"/><circle cx="215.6" cy="675.7" r="2.75"/><circle cx="218.8" cy="675.5" r="2.75"/><circle cx="222.0" cy="675.5" r="2.75"/><circle cx="225.2" cy="675.8" r="2.75"/><circle cx="228.4" cy="675.6" r="2.75"/><circle cx="231.6" cy="675.6" r="2.75"/><circle cx="234.9" cy="675.7" r="2.75"/><circle cx="238.1" cy="675.6" r="2.75"/><circle cx="241.3" cy="675.4" r="2.75"/><circle cx="244.5" cy="675.7" r="2.75"/><circle cx="247.7" cy="675.8" r="2.75"/><circle cx="250.9" cy="675.7" r="2.75"/><circle cx="254.2" cy="675.8" r="2.75"/><circle cx="257.4" cy="675.6" r="2.75"/><circle cx="260.6" cy="675.6" r="2.75"/><circle cx="263.8" cy="675.6" r="2.75"/><circle cx="267.0" cy="675.1" r="2.75"/><circle cx="270.2" cy="675.1" r="2.75"/><circle cx="273.5" cy="674.5" r="2.75"/><circle cx="276.7" cy="673.5" r="2.75"/><circle cx="279.9" cy="672.3" r="2.75"/><circle cx="283.1" cy="670.2" r="2.75"/><circle cx="286.3" cy="667.3" r="2.75"/><circle cx="289.5" cy="664.1" r="2.75"/><circle cx="292.8" cy="659.6" r="2.75"/><circle cx="296.0" cy="654.4" r="2.75"/><circle cx="299.2" cy="648.7" r="2.75"/><circle cx="302.4" cy="642.8" r="2.75"/><circle cx="305.6" cy="636.9" r="2.75"/><circle cx="308.8" cy="631.6" r="2.75"/><circle cx="312.1" cy="627.9" r="2.75"/><circle cx="315.3" cy="625.7" r="2.75"/><circle cx="318.5" cy="625.1" r="2.75"/><circle cx="321.7" cy="626.8" r="2.75"/><circle cx="324.9" cy="630.1" r="2.75"/><circle cx="328.2" cy="634.7" r="2.75"/><circle cx="331.4" cy="640.5" r="2.75"/><circle cx="334.6" cy="646.6" r="2.75"/><circle cx="337.8" cy="652.6" r="2.75"/><circle cx="341.0" cy="657.9" r="2.75"/><circle cx="344.2" cy="662.5" r="2.75"/><circle cx="347.5" cy="666.3" r="2.75"/><circle cx="350.7" cy="669.3" r="2.75"/><circle cx="353.9" cy="671.2" r="2.75"/><circle cx="357.1" cy="672.9" r="2.75"/><circle cx="360.3" cy="673.9" r="2.75"/><circle cx="363.5" cy="674.5" r="2.75"/><circle cx="366.8" cy="674.8" r="2.75"/><circle cx="370.0" cy="675.1" r="2.75"/><circle cx="373.2" cy="675.2" r="2.75"/><circle cx="376.4" cy="675.1" r="2.75"/><circle cx="379.6" cy="675.4" r="2.75"/><circle cx="382.8" cy="675.3" r="2.75"/><circle cx="386.1" cy="675.3" r="2.75"/><circle cx="389.3" cy="675.4" r="2.75"/><circle cx="392.5" cy="675.4" r="2.75"/><circle cx="395.7" cy="675.2" r="2.75"/><circle cx="398.9" cy="675.2" r="2.75"/><circle cx="402.1" cy="674.9" r="2.75"/><circle cx="405.4" cy="674.8" r="2.75"/><circle cx="408.6" cy="674.8" r="2.75"/><circle cx="411.8" cy="675.2" r="2.75"/><circle cx="415.0" cy="674.7" r="2.75"/><circle cx="418.2" cy="674.9" r="2.75"/><circle cx="421.4" cy="674.9" r="2.75"/><circle cx="424.7" cy="674.5" r="2.75"/><circle cx="427.9" cy="674.7" r="2.75"/><circle cx="431.1" cy="674.5" r="2.75"/><circle cx="434.3" cy="674.1" r="2.75"/><circle cx="437.5" cy="674.1" r="2.75"/><circle cx="440.7" cy="673.5" r="2.75"/><circle cx="444.0" cy="672.9" r="2.75"/><circle cx="447.2" cy="672.7" r="2.75"/><circle cx="450.4" cy="672.1" r="2.75"/><circle cx="453.6" cy="671.4" r="2.75"/><circle cx="456.8" cy="670.8" r="2.75"/><circle cx="460.0" cy="670.7" r="2.75"/><circle cx="463.3" cy="669.6" r="2.75"/><circle cx="466.5" cy="669.0" r="2.75"/><circle cx="469.7" cy="668.1" r="2.75"/><circle cx="472.9" cy="667.4" r="2.75"/><circle cx="476.1" cy="666.6" r="2.75"/><circle cx="479.4" cy="665.8" r="2.75"/><circle cx="482.6" cy="664.9" r="2.75"/><circle cx="485.8" cy="664.2" r="2.75"/><circle cx="489.0" cy="663.6" r="2.75"/><circle cx="492.2" cy="663.2" r="2.75"/><circle cx="495.4" cy="663.1" r="2.75"/><circle cx="498.7" cy="662.6" r="2.75"/><circle cx="501.9" cy="662.6" r="2.75"/><circle cx="505.1" cy="662.4" r="2.75"/><circle cx="508.3" cy="662.5" r="2.75"/><circle cx="511.5" cy="662.6" r="2.75"/><circle cx="514.7" cy="663.3" r="2.75"/><circle cx="518.0" cy="663.6" r="2.75"/><circle cx="521.2" cy="664.5" r="2.75"/><circle cx="524.4" cy="665.5" r="2.75"/><circle cx="527.6" cy="666.1" r="2.75"/><circle cx="530.8" cy="667.0" r="2.75"/><circle cx="534.0" cy="667.6" r="2.75"/><circle cx="537.3" cy="668.2" r="2.75"/><circle cx="540.5" cy="669.1" r="2.75"/><circle cx="543.7" cy="669.8" r="2.75"/><circle cx="546.9" cy="670.7" r="2.75"/><circle cx="550.1" cy="671.5" r="2.75"/><circle cx="553.3" cy="671.6" r="2.75"/><circle cx="556.6" cy="672.2" r="2.75"/><circle cx="559.8" cy="672.7" r="2.75"/><circle cx="563.0" cy="673.1" r="2.75"/><circle cx="566.2" cy="673.3" r="2.75"/><circle cx="569.4" cy="673.8" r="2.75"/><circle cx="572.6" cy="674.1" r="2.75"/><circle cx="575.9" cy="674.3" r="2.75"/><circle cx="579.1" cy="674.3" r="2.75"/><circle cx="582.3" cy="674.6" r="2.75"/><circle cx="585.5" cy="674.5" r="2.75"/><circle cx="588.7" cy="675.0" r="2.75"/><circle cx="591.9" cy="674.8" r="2.75"/><circle cx="595.2" cy="675.0" r="2.75"/><circle cx="598.4" cy="675.0" r="2.75"/><circle cx="601.6" cy="675.1" r="2.75"/><circle cx="604.8" cy="675.0" r="2.75"/><circle cx="608.0" cy="675.0" r="2.75"/><circle cx="611.2" cy="675.5" r="2.75"/><circle cx="614.5" cy="675.3" r="2.75"/><circle cx="617.7" cy="675.4" r="2.75"/><circle cx="620.9" cy="675.7" r="2.75"/><circle cx="624.1" cy="675.3" r="2.75"/><circle cx="627.3" cy="675.5" r="2.75"/><circle cx="630.5" cy="675.4" r="2.75"/><circle cx="633.8" cy="675.6" r="2.75"/><circle cx="637.0" cy="675.5" r="2.75"/><circle cx="640.2" cy="675.5" r="2.75"/><circle cx="643.4" cy="675.4" r="2.75"/><circle cx="646.6" cy="675.5" r="2.75"/><circle cx="649.9" cy="675.6" r="2.75"/><circle cx="653.1" cy="675.2" r="2.75"/><circle cx="656.3" cy="675.5" r="2.75"/><circle cx="659.5" cy="675.4" r="2.75"/></g>
<path fill="none" stroke="#ffc000" stroke-width="1.6" d="M51.4 729.3 53.0 729.3 54.6 729.3 56.2 729.3 57.8 729.3 59.4 729.3 61.0 729.3 62.6 729.3 64.2 729.3 65.8 729.3 67.4 729.3 69.0 729.3 70.7 729.3 72.3 729.3 73.9 729.3 75.5 729.3 77.1 729.3 78.7 729.3 80.3 729.3 81.9 729.3 83.5 729.3 85.1 729.3 86.7 729.3 88.3 729.3 90.0 729.3 91.6 729.3 93.2 729.3 94.8 729.3 96.4 729.3 98.0 729.3 99.6 729.3 101.2 729.3 102.8 729.3 104.4 729.3 106.0 729.3 107.6 729.3 109.3 729.3 110.9 729.3 112.5 729.3 114.1 729.3 115.7 729.3 117.3 729.3 118.9 729.3 120.5 729.3 122.1 729.3 123.7 729.3 125.3 729.3 126.9 729.3 128.6 729.3 130.2 729.3 131.8 729.3 133.4 729.3 135.0 729.3 136.6 729.3 138.2 729.3 139.8 729.3 141.4 729.3 143.0 729.3 144.6 729.3 146.3 729.3 147.9 729.3 149.5 729.3 151.1 729.3 152.7 729.3 154.3 729.3 155.9 729.3 157.5 729.3 159.1 729.3 160.7 729.3 162.3 729.3 163.9 729.3 165.6 729.3 167.2 729.3 168.8 729.3 170.4 729.3 172.0 729.3 173.6 729.3 175.2 729.3 176.8 729.3 178.4 729.3 180.0 729.3 181.6 729.3 183.2 729.3 184.9 729.2 186.5 729.2 188.1 729.2 189.7 729.2 191.3 729.2 192.9 729.2 194.5 729.2 196.1 729.2 197.7 729.2 199.3 729.2 200.9 729.2 202.5 729.2 204.2 729.2 205.8 729.2 207.4 729.2 209.0 729.2 210.6 729.2 212.2 729.2 213.8 729.2 215.4 729.2 217.0 729.2 218.6 729.2 220.2 729.2 221.9 729.2 223.5 729.2 225.1 729.2 226.7 729.2 228.3 729.2 229.9 729.2 231.5 729.2 233.1 729.2 234.7 729.2 236.3 729.2 237.9 729.2 239.5 729.2 241.2 729.2 242.8 729.2 244.4 729.2 246.0 729.2 247.6 729.2 249.2 729.2 250.8 729.2 252.4 729.2 254.0 729.2 255.6 729.2 257.2 729.1 258.8 729.1 260.5 729.1 262.1 729.0 263.7 728.9 265.3 728.8 266.9 728.7 268.5 728.5 270.1 728.3 271.7 728.0 273.3 727.7 274.9 727.3 276.5 726.8 278.1 726.2 279.8 725.4 281.4 724.6 283.0 723.6 284.6 722.4 286.2 721.1 287.8 719.6 289.4 718.0 291.0 716.1 292.6 714.1 294.2 711.9 295.8 709.6 297.5 707.2 299.1 704.7 300.7 702.1 302.3 699.5 303.9 697.0 305.5 694.5 307.1 692.2 308.7 690.1 310.3 688.2 311.9 686.6 313.5 685.4 315.1 684.4 316.8 683.9 318.4 683.8 320.0 684.0 321.6 684.6 323.2 685.7 324.8 687.0 326.4 688.7 328.0 690.6 329.6 692.8 331.2 695.2 332.8 697.6 334.4 700.2 336.1 702.8 337.7 705.3 339.3 707.8 340.9 710.2 342.5 712.5 344.1 714.6 345.7 716.6 347.3 718.3 348.9 720.0 350.5 721.4 352.1 722.7 353.7 723.8 355.4 724.7 357.0 725.5 358.6 726.2 360.2 726.8 361.8 727.2 363.4 727.6 365.0 727.9 366.6 728.2 368.2 728.4 369.8 728.5 371.4 728.6 373.1 728.7 374.7 728.8 376.3 728.8 377.9 728.9 379.5 728.9 381.1 728.9 382.7 728.9 384.3 728.9 385.9 728.9 387.5 728.9 389.1 728.9 390.7 728.9 392.4 728.9 394.0 728.9 395.6 728.9 397.2 728.9 398.8 728.8 400.4 728.8 402.0 728.8 403.6 728.8 405.2 728.8 406.8 728.7 408.4 728.7 410.0 728.7 411.7 728.7 413.3 728.6 414.9 728.6 416.5 728.6 418.1 728.5 419.7 728.5 421.3 728.4 422.9 728.4 424.5 728.3 426.1 728.2 427.7 728.2 429.3 728.1 431.0 728.0 432.6 727.9 434.2 727.7 435.8 727.6 437.4 727.5 439.0 727.3 440.6 727.1 442.2 726.9 443.8 726.7 445.4 726.5 447.0 726.3 448.6 726.0 450.3 725.7 451.9 725.4 453.5 725.1 455.1 724.7 456.7 724.3 458.3 723.9 459.9 723.5 461.5 723.1 463.1 722.6 464.7 722.2 466.3 721.7 468.0 721.1 469.6 720.6 471.2 720.1 472.8 719.5 474.4 719.0 476.0 718.4 477.6 717.9 479.2 717.3 480.8 716.8 482.4 716.3 484.0 715.8 485.6 715.3 487.3 714.9 488.9 714.5 490.5 714.1 492.1 713.8 493.7 713.5 495.3 713.3 496.9 713.1 498.5 713.0 500.1 713.0 501.7 713.0 503.3 713.1 504.9 713.3 506.6 713.5 508.2 713.8 509.8 714.1 511.4 714.5 513.0 714.9 514.6 715.3 516.2 715.8 517.8 716.3 519.4 716.8 521.0 717.3 522.6 717.9 524.2 718.4 525.9 719.0 527.5 719.5 529.1 720.1 530.7 720.6 532.3 721.1 533.9 721.7 535.5 722.2 537.1 722.6 538.7 723.1 540.3 723.5 541.9 723.9 543.6 724.3 545.2 724.7 546.8 725.1 548.4 725.4 550.0 725.7 551.6 726.0 553.2 726.3 554.8 726.5 556.4 726.7 558.0 726.9 559.6 727.1 561.2 727.3 562.9 727.5 564.5 727.6 566.1 727.7 567.7 727.9 569.3 728.0 570.9 728.1 572.5 728.2 574.1 728.2 575.7 728.3 577.3 728.4 578.9 728.4 580.5 728.5 582.2 728.5 583.8 728.6 585.4 728.6 587.0 728.6 588.6 728.7 590.2 728.7 591.8 728.7 593.4 728.7 595.0 728.8 596.6 728.8 598.2 728.8 599.8 728.8 601.5 728.8 603.1 728.9 604.7 728.9 606.3 728.9 607.9 728.9 609.5 728.9 611.1 728.9 612.7 728.9 614.3 728.9 615.9 728.9 617.5 729.0 619.2 729.0 620.8 729.0 622.4 729.0 624.0 729.0 625.6 729.0 627.2 729.0 628.8 729.0 630.4 729.0 632.0 729.0 633.6 729.0 635.2 729.0 636.8 729.0 638.5 729.0 640.1 729.1 641.7 729.1 643.3 729.1 644.9 729.1 646.5 729.1 648.1 729.1 649.7 729.1 651.3 729.1 652.9 729.1 654.5 729.1 656.1 729.1 657.8 729.1 659.4 729.1 661.0 729.1 662.6 729.1"/>
<path fill="none" stroke="#7030a0" stroke-width="1.6" d="M50.8 729.3 52.4 729.3 54.0 729.3 55.6 729.3 57.2 729.3 58.8 729.3 60.4 729.3 62.0 729.3 63.6 729.3 65.2 729.3 66.8 729.3 68.4 729.3 70.1 729.3 71.7 729.3 73.3 729.3 74.9 729.3 76.5 729.3 78.1 729.3 79.7 729.3 81.3 729.3 82.9 729.3 84.5 729.3 86.1 729.3 87.7 729.3 89.4 729.3 91.0 729.3 92.6 729.3 94.2 729.3 95.8 729.3 97.4 729.3 99.0 729.3 100.6 729.3 102.2 729.3 103.8 729.3 105.4 729.3 107.0 729.3 108.7 729.3 110.3 729.3 111.9 729.3 113.5 729.3 115.1 729.3 116.7 729.3 118.3 729.3 119.9 729.3 121.5 729.3 123.1 729.3 124.7 729.3 126.3 729.3 128.0 729.3 129.6 729.3 131.2 729.3 132.8 729.3 134.4 729.3 136.0 729.3 137.6 729.3 139.2 729.3 140.8 729.3 142.4 729.3 144.0 729.3 145.7 729.3 147.3 729.3 148.9 729.3 150.5 729.3 152.1 729.3 153.7 729.3 155.3 729.3 156.9 729.3 158.5 729.3 160.1 729.3 161.7 729.3 163.3 729.3 165.0 729.3 166.6 729.3 168.2 729.3 169.8 729.3 171.4 729.3 173.0 729.3 174.6 729.3 176.2 729.3 177.8 729.3 179.4 729.3 181.0 729.3 182.6 729.3 184.3 729.2 185.9 729.2 187.5 729.2 189.1 729.2 190.7 729.2 192.3 729.2 193.9 729.2 195.5 729.2 197.1 729.2 198.7 729.2 200.3 729.2 201.9 729.2 203.6 729.2 205.2 729.2 206.8 729.2 208.4 729.2 210.0 729.2 211.6 729.2 213.2 729.2 214.8 729.2 216.4 729.2 218.0 729.2 219.6 729.2 221.3 729.2 222.9 729.2 224.5 729.2 226.1 729.2 227.7 729.2 229.3 729.2 230.9 729.2 232.5 729.2 234.1 729.2 235.7 729.2 237.3 729.2 238.9 729.2 240.6 729.2 242.2 729.2 243.8 729.2 245.4 729.2 247.0 729.2 248.6 729.2 250.2 729.2 251.8 729.2 253.4 729.2 255.0 729.2 256.6 729.1 258.2 729.1 259.9 729.1 261.5 729.0 263.1 728.9 264.7 728.8 266.3 728.7 267.9 728.5 269.5 728.3 271.1 728.0 272.7 727.7 274.3 727.3 275.9 726.8 277.5 726.2 279.2 725.4 280.8 724.6 282.4 723.6 284.0 722.4 285.6 721.1 287.2 719.6 288.8 718.0 290.4 716.1 292.0 714.1 293.6 711.9 295.2 709.6 296.9 707.2 298.5 704.7 300.1 702.1 301.7 699.5 303.3 697.0 304.9 694.5 306.5 692.2 308.1 690.1 309.7 688.2 311.3 686.6 312.9 685.4 314.5 684.4 316.2 683.9 317.8 683.8 319.4 684.0 321.0 684.6 322.6 685.7 324.2 687.0 325.8 688.7 327.4 690.6 329.0 692.8 330.6 695.2 332.2 697.6 333.8 700.2 335.5 702.8 337.1 705.3 338.7 707.8 340.3 710.2 341.9 712.5 343.5 714.6 345.1 716.6 346.7 718.3 348.3 720.0 349.9 721.4 351.5 722.7 353.1 723.8 354.8 724.7 356.4 725.5 358.0 726.2 359.6 726.8 361.2 727.2 362.8 727.6 364.4 727.9 366.0 728.2 367.6 728.4 369.2 728.5 370.8 728.6 372.5 728.7 374.1 728.8 375.7 728.8 377.3 728.9 378.9 728.9 380.5 728.9 382.1 728.9 383.7 728.9 385.3 728.9 386.9 728.9 388.5 728.9 390.1 728.9 391.8 728.9 393.4 728.9 395.0 728.9 396.6 728.9 398.2 728.8 399.8 728.8 401.4 728.8 403.0 728.8 404.6 728.8 406.2 728.7 407.8 728.7 409.4 728.7 411.1 728.7 412.7 728.6 414.3 728.6 415.9 728.6 417.5 728.5 419.1 728.5 420.7 728.4 422.3 728.4 423.9 728.3 425.5 728.2 427.1 728.2 428.7 728.1 430.4 728.0 432.0 727.9 433.6 727.7 435.2 727.6 436.8 727.5 438.4 727.3 440.0 727.1 441.6 726.9 443.2 726.7 444.8 726.5 446.4 726.3 448.0 726.0 449.7 725.7 451.3 725.4 452.9 725.1 454.5 724.7 456.1 724.3 457.7 723.9 459.3 723.5 460.9 723.1 462.5 722.6 464.1 722.2 465.7 721.7 467.4 721.1 469.0 720.6 470.6 720.1 472.2 719.5 473.8 719.0 475.4 718.4 477.0 717.9 478.6 717.3 480.2 716.8 481.8 716.3 483.4 715.8 485.0 715.3 486.7 714.9 488.3 714.5 489.9 714.1 491.5 713.8 493.1 713.5 494.7 713.3 496.3 713.1 497.9 713.0 499.5 713.0 501.1 713.0 502.7 713.1 504.3 713.3 506.0 713.5 507.6 713.8 509.2 714.1 510.8 714.5 512.4 714.9 514.0 715.3 515.6 715.8 517.2 716.3 518.8 716.8 520.4 717.3 522.0 717.9 523.6 718.4 525.3 719.0 526.9 719.5 528.5 720.1 530.1 720.6 531.7 721.1 533.3 721.7 534.9 722.2 536.5 722.6 538.1 723.1 539.7 723.5 541.3 723.9 543.0 724.3 544.6 724.7 546.2 725.1 547.8 725.4 549.4 725.7 551.0 726.0 552.6 726.3 554.2 726.5 555.8 726.7 557.4 726.9 559.0 727.1 560.6 727.3 562.3 727.5 563.9 727.6 565.5 727.7 567.1 727.9 568.7 728.0 570.3 728.1 571.9 728.2 573.5 728.2 575.1 728.3 576.7 728.4 578.3 728.4 579.9 728.5 581.6 728.5 583.2 728.6 584.8 728.6 586.4 728.6 588.0 728.7 589.6 728.7 591.2 728.7 592.8 728.7 594.4 728.8 596.0 728.8 597.6 728.8 599.2 728.8 600.9 728.8 602.5 728.9 604.1 728.9 605.7 728.9 607.3 728.9 608.9 728.9 610.5 728.9 612.1 728.9 613.7 728.9 615.3 728.9 616.9 729.0 618.6 729.0 620.2 729.0 621.8 729.0 623.4 729.0 625.0 729.0 626.6 729.0 628.2 729.0 629.8 729.0 631.4 729.0 633.0 729.0 634.6 729.0 636.2 729.0 637.9 729.0 639.5 729.1 641.1 729.1 642.7 729.1 644.3 729.1 645.9 729.1 647.5 729.1 649.1 729.1 650.7 729.1 652.3 729.1 653.9 729.1 655.5 729.1 657.2 729.1 658.8 729.1 660.4 729.1 662.0 729.1"/>
<g fill="none" stroke="#c00000" stroke-width="1.75"><circle cx="53.4" cy="729.2" r="2.75"/><circle cx="56.6" cy="729.0" r="2.75"/><circle cx="59.9" cy="729.4" r="2.75"/><circle cx="63.1" cy="729.2" r="2.75"/><circle cx="66.3" cy="729.2" r="2.75"/><circle cx="69.5" cy="729.2" r="2.75"/><circle cx="72.7" cy="729.0" r="2.75"/><circle cx="75.9" cy="729.2" r="2.75"/><circle cx="79.2" cy="729.0" r="2.75"/><circle cx="82.4" cy="729.1" r="2.75"/><circle cx="85.6" cy="729.2" r="2.75"/><circle cx="88.8" cy="729.3" r="2.75"/><circle cx="92.0" cy="729.3" r="2.75"/><circle cx="95.2" cy="729.3" r="2.75"/><circle cx="98.5" cy="729.6" r="2.75"/><circle cx="101.7" cy="729.3" r="2.75"/><circle cx="104.9" cy="729.1" r="2.75"/><circle cx="108.1" cy="729.2" r="2.75"/><circle cx="111.3" cy="729.2" r="2.75"/><circle cx="114.5" cy="729.2" r="2.75"/><circle cx="117.8" cy="729.2" r="2.75"/><circle cx="121.0" cy="729.1" r="2.75"/><circle cx="124.2" cy="729.5" r="2.75"/><circle cx="127.4" cy="729.3" r="2.75"/><circle cx="130.6" cy="729.2" r="2.75"/><circle cx="133.8" cy="729.2" r="2.75"/><circle cx="137.1" cy="729.2" r="2.75"/><circle cx="140.3" cy="729.5" r="2.75"/><circle cx="143.5" cy="729.3" r="2.75"/><circle cx="146.7" cy="729.4" r="2.75"/><circle cx="149.9" cy="728.8" r="2.75"/><circle cx="153.1" cy="729.3" r="2.75"/><circle cx="156.4" cy="729.4" r="2.75"/><circle cx="159.6" cy="729.6" r="2.75"/><circle cx="162.8" cy="729.3" r="2.75"/><circle cx="166.0" cy="729.0" r="2.75"/><circle cx="169.2" cy="729.3" r="2.75"/><circle cx="172.4" cy="729.2" r="2.75"/><circle cx="175.7" cy="729.0" r="2.75"/><circle cx="178.9" cy="729.2" r="2.75"/><circle cx="182.1" cy="729.4" r="2.75"/><circle cx="185.3" cy="729.4" r="2.75"/><circle cx="188.5" cy="729.4" r="2.75"/><circle cx="191.8" cy="729.1" r="2.75"/><circle cx="195.0" cy="729.6" r="2.75"/><circle cx="198.2" cy="729.1" r="2.75"/><circle cx="201.4" cy="729.2" r="2.75"/><circle cx="204.6" cy="729.0" r="2.75"/><circle cx="207.8" cy="729.4" r="2.75"/><circle cx="211.1" cy="729.3" r="2.75"/><circle cx="214.3" cy="729.4" r="2.75"/><circle cx="217.5" cy="729.3" r="2.75"/><circle cx="220.7" cy="729.2" r="2.75"/><circle cx="223.9" cy="729.3" r="2.75"/><circle cx="227.1" cy="729.0" r="2.75"/><circle cx="230.4" cy="729.4" r="2.75"/><circle cx="233.6" cy="729.4" r="2.75"/><circle cx="236.8" cy="729.2" r="2.75"/><circle cx="240.0" cy="729.2" r="2.75"/><circle cx="243.2" cy="729.3" r="2.75"/><circle cx="246.4" cy="729.5" r="2.75"/><circle cx="249.7" cy="729.3" r="2.75"/><circle cx="252.9" cy="729.2" r="2.75"/><circle cx="256.1" cy="729.1" r="2.75"/><circle cx="259.3" cy="728.8" r="2.75"/><circle cx="262.5" cy="728.9" r="2.75"/><circle cx="265.7" cy="728.7" r="2.75"/><circle cx="269.0" cy="728.3" r="2.75"/><circle cx="272.2" cy="727.8" r="2.75"/><circle cx="275.4" cy="727.1" r="2.75"/><circle cx="278.6" cy="725.8" r="2.75"/><circle cx="281.8" cy="724.0" r="2.75"/><circle cx="285.0" cy="721.7" r="2.75"/><circle cx="288.3" cy="718.6" r="2.75"/><circle cx="291.5" cy="714.8" r="2.75"/><circle cx="294.7" cy="710.5" r="2.75"/><circle cx="297.9" cy="705.3" r="2.75"/><circle cx="301.1" cy="700.6" r="2.75"/><circle cx="304.3" cy="695.2" r="2.75"/><circle cx="307.6" cy="690.9" r="2.75"/><circle cx="310.8" cy="687.1" r="2.75"/><circle cx="314.0" cy="684.9" r="2.75"/><circle cx="317.2" cy="683.8" r="2.75"/><circle cx="320.4" cy="684.3" r="2.75"/><circle cx="323.6" cy="686.7" r="2.75"/><circle cx="326.9" cy="690.0" r="2.75"/><circle cx="330.1" cy="694.4" r="2.75"/><circle cx="333.3" cy="699.3" r="2.75"/><circle cx="336.5" cy="704.6" r="2.75"/><circle cx="339.7" cy="709.5" r="2.75"/><circle cx="343.0" cy="713.9" r="2.75"/><circle cx="346.2" cy="717.5" r="2.75"/><circle cx="349.4" cy="720.9" r="2.75"/><circle cx="352.6" cy="723.4" r="2.75"/><circle cx="355.8" cy="725.5" r="2.75"/><circle cx="359.0" cy="726.7" r="2.75"/><circle cx="362.3" cy="727.5" r="2.75"/><circle cx="365.5" cy="728.3" r="2.75"/><circle cx="368.7" cy="728.5" r="2.75"/><circle cx="371.9" cy="728.7" r="2.75"/><circle cx="375.1" cy="728.9" r="2.75"/><circle cx="378.3" cy="728.7" r="2.75"/><circle cx="381.6" cy="729.1" r="2.75"/><circle cx="384.8" cy="729.0" r="2.75"/><circle cx="388.0" cy="728.9" r="2.75"/><circle cx="391.2" cy="728.7" r="2.75"/><circle cx="394.4" cy="728.9" r="2.75"/><circle cx="397.6" cy="729.1" r="2.75"/><circle cx="400.9" cy="728.7" r="2.75"/><circle cx="404.1" cy="728.6" r="2.75"/><circle cx="407.3" cy="728.8" r="2.75"/><circle cx="410.5" cy="728.4" r="2.75"/><circle cx="413.7" cy="728.3" r="2.75"/><circle cx="416.9" cy="728.5" r="2.75"/><circle cx="420.2" cy="728.3" r="2.75"/><circle cx="423.4" cy="728.3" r="2.75"/><circle cx="426.6" cy="728.1" r="2.75"/><circle cx="429.8" cy="728.1" r="2.75"/><circle cx="433.0" cy="727.8" r="2.75"/><circle cx="436.2" cy="727.4" r="2.75"/><circle cx="439.5" cy="727.1" r="2.75"/><circle cx="442.7" cy="726.9" r="2.75"/><circle cx="445.9" cy="726.5" r="2.75"/><circle cx="449.1" cy="725.9" r="2.75"/><circle cx="452.3" cy="725.3" r="2.75"/><circle cx="455.5" cy="724.0" r="2.75"/><circle cx="458.8" cy="723.5" r="2.75"/><circle cx="462.0" cy="722.8" r="2.75"/><circle cx="465.2" cy="721.9" r="2.75"/><circle cx="468.4" cy="720.6" r="2.75"/><circle cx="471.6" cy="720.0" r="2.75"/><circle cx="474.8" cy="718.7" r="2.75"/><circle cx="478.1" cy="717.4" r="2.75"/><circle cx="481.3" cy="716.5" r="2.75"/><circle cx="484.5" cy="715.4" r="2.75"/><circle cx="487.7" cy="714.5" r="2.75"/><circle cx="490.9" cy="714.0" r="2.75"/><circle cx="494.1" cy="713.3" r="2.75"/><circle cx="497.4" cy="712.9" r="2.75"/><circle cx="500.6" cy="712.9" r="2.75"/><circle cx="503.8" cy="713.2" r="2.75"/><circle cx="507.0" cy="713.5" r="2.75"/><circle cx="510.2" cy="714.5" r="2.75"/><circle cx="513.5" cy="715.0" r="2.75"/><circle cx="516.7" cy="716.4" r="2.75"/><circle cx="519.9" cy="717.3" r="2.75"/><circle cx="523.1" cy="718.1" r="2.75"/><circle cx="526.3" cy="719.4" r="2.75"/><circle cx="529.5" cy="720.6" r="2.75"/><circle cx="532.8" cy="721.5" r="2.75"/><circle cx="536.0" cy="722.3" r="2.75"/><circle cx="539.2" cy="723.4" r="2.75"/><circle cx="542.4" cy="724.5" r="2.75"/><circle cx="545.6" cy="724.7" r="2.75"/><circle cx="548.8" cy="725.7" r="2.75"/><circle cx="552.1" cy="726.2" r="2.75"/><circle cx="555.3" cy="726.6" r="2.75"/><circle cx="558.5" cy="727.0" r="2.75"/><circle cx="561.7" cy="727.4" r="2.75"/><circle cx="564.9" cy="727.9" r="2.75"/><circle cx="568.1" cy="728.0" r="2.75"/><circle cx="571.4" cy="728.0" r="2.75"/><circle cx="574.6" cy="728.5" r="2.75"/><circle cx="577.8" cy="728.2" r="2.75"/><circle cx="581.0" cy="728.6" r="2.75"/><circle cx="584.2" cy="728.6" r="2.75"/><circle cx="587.4" cy="728.8" r="2.75"/><circle cx="590.7" cy="728.8" r="2.75"/><circle cx="593.9" cy="728.9" r="2.75"/><circle cx="597.1" cy="728.8" r="2.75"/><circle cx="600.3" cy="729.0" r="2.75"/><circle cx="603.5" cy="728.9" r="2.75"/><circle cx="606.7" cy="729.2" r="2.75"/><circle cx="610.0" cy="728.8" r="2.75"/><circle cx="613.2" cy="729.1" r="2.75"/><circle cx="616.4" cy="729.0" r="2.75"/><circle cx="619.6" cy="729.0" r="2.75"/><circle cx="622.8" cy="728.9" r="2.75"/><circle cx="626.0" cy="729.1" r="2.75"/><circle cx="629.3" cy="728.8" r="2.75"/><circle cx="632.5" cy="728.8" r="2.75"/><circle cx="635.7" cy="729.2" r="2.75"/><circle cx="638.9" cy="728.8" r="2.75"/><circle cx="642.1" cy="729.3" r="2.75"/><circle cx="645.3" cy="729.0" r="2.75"/><circle cx="648.6" cy="729.1" r="2.75"/><circle cx="651.8" cy="729.1" r="2.75"/><circle cx="655.0" cy="729.2" r="2.75"/><circle cx="658.2" cy="729.1" r="2.75"/><circle cx="661.4" cy="729.1" r="2.75"/></g>
<rect x="50.75" y="419.2" width="611.15" height="324.4" fill="none" stroke="#000" stroke-width="1.8"/>
<line x1="50.75" y1="743.6" x2="50.75" y2="749.2" stroke="#000" stroke-width="1.8"/>
<text x="50.8" y="773" font-size="19.5" text-anchor="middle">450</text>
<line x1="211.60" y1="743.6" x2="211.60" y2="749.2" stroke="#000" stroke-width="1.8"/>
<text x="211.6" y="773" font-size="19.5" text-anchor="middle">455</text>
<line x1="372.45" y1="743.6" x2="372.45" y2="749.2" stroke="#000" stroke-width="1.8"/>
<text x="372.5" y="773" font-size="19.5" text-anchor="middle">460</text>
<line x1="533.30" y1="743.6" x2="533.30" y2="749.2" stroke="#000" stroke-width="1.8"/>
<text x="533.3" y="773" font-size="19.5" text-anchor="middle">465</text>
<text x="287.6" y="798.2" font-size="20">Binding energy (eV)</text>
<text transform="translate(22.3 594.4) rotate(-90)" font-size="19.7" text-anchor="middle">Intensity (a.u.)</text>
<text x="65.9" y="448" font-size="29.3">(b)</text>
<text x="285.3" y="444.8" font-size="20">Ti2p3/2</text>
<text x="475" y="500.7" font-size="20">Ti2p1/2</text>
<text x="65.6" y="523.3" font-size="20">Au<tspan font-size="12.9" dy="2">0.1</tspan><tspan dy="-2">/TiO</tspan><tspan font-size="12.9" dy="2">2</tspan></text>
<text x="65.2" y="592.2" font-size="20">Au<tspan font-size="12.9" dy="2">0.3</tspan><tspan dy="-2">/TiO</tspan><tspan font-size="12.9" dy="2">2</tspan></text>
<text x="66.9" y="659.0" font-size="20">Au<tspan font-size="12.9" dy="2">0.5</tspan><tspan dy="-2">/TiO</tspan><tspan font-size="12.9" dy="2">2</tspan></text>
<text x="65.6" y="717.7" font-size="20">Au<tspan font-size="12.9" dy="2">1.0</tspan><tspan dy="-2">/TiO</tspan><tspan font-size="12.9" dy="2">2</tspan></text>
<line x1="51.2" y1="908.3" x2="387.2" y2="908.3" stroke="#7030a0" stroke-width="2"/>
<line x1="295.6" y1="908.3" x2="662.2" y2="908.3" stroke="#00b050" stroke-width="2"/>
<line x1="51.2" y1="967.5" x2="387.2" y2="967.5" stroke="#7030a0" stroke-width="2"/>
<line x1="295.6" y1="967.5" x2="662.2" y2="967.5" stroke="#00b050" stroke-width="2"/>
<line x1="51.2" y1="1048.8" x2="387.2" y2="1048.8" stroke="#7030a0" stroke-width="2"/>
<line x1="295.6" y1="1048.8" x2="662.2" y2="1048.8" stroke="#00b050" stroke-width="2"/>
<line x1="51.2" y1="1144.8" x2="387.2" y2="1144.8" stroke="#7030a0" stroke-width="2"/>
<line x1="295.6" y1="1144.8" x2="662.2" y2="1144.8" stroke="#00b050" stroke-width="2"/>
<path fill="none" stroke="#7030a0" stroke-width="2.9" d="M298.7 908.3 301.7 908.3 304.8 908.3 307.8 908.3 310.9 908.3 313.9 908.3 317.0 908.3 320.0 908.3 323.1 908.3 326.1 908.3 329.2 908.3 332.3 908.3 335.3 908.3 338.4 908.3 341.4 908.3 344.5 908.3 347.5 908.3 350.6 908.3 353.6 908.3 356.7 908.3 359.8 908.3 362.8 908.3 365.9 908.3 368.9 908.3 372.0 908.3 375.0 908.3 378.1 908.3 381.1 908.3 384.2 908.3 387.2 908.3 390.3 908.3 393.4 908.2 396.4 908.2 399.5 908.1 402.5 908.1 405.6 908.0 408.6 907.8 411.7 907.6 414.7 907.3 417.8 906.9 420.9 906.3 423.9 905.5 427.0 904.3 430.0 902.8 433.1 900.8 436.1 898.5 439.2 895.7 442.2 892.9 445.3 890.1 448.3 887.8 451.4 886.0 454.5 885.0 457.5 884.7 460.6 884.9 463.6 885.6 466.7 886.5 469.7 887.4 472.8 888.4 475.8 889.3 478.9 890.3 482.0 891.3 485.0 892.5 488.1 893.7 491.1 895.0 494.2 896.4 497.2 897.9 500.3 899.3 503.3 900.6 506.4 901.8 509.4 903.0 512.5 904.0 515.6 904.9 518.6 905.6 521.7 906.2 524.7 906.7 527.8 907.1 530.8 907.4 533.9 907.7 536.9 907.9 540.0 908.0 543.1 908.1 546.1 908.2 549.2 908.2 552.2 908.2 555.3 908.3 558.3 908.3 561.4 908.3 564.4 908.3 567.5 908.3 570.5 908.3 573.6 908.3 576.7 908.3 579.7 908.3 582.8 908.3 585.8 908.3 588.9 908.3 591.9 908.3 595.0 908.3 598.0 908.3 601.1 908.3 604.2 908.3 607.2 908.3 610.3 908.3 613.3 908.3 616.4 908.3 619.4 908.3 622.5 908.3 625.5 908.3 628.6 908.3 631.6 908.3 634.7 908.3 637.8 908.3 640.8 908.3 643.9 908.3 646.9 908.3 650.0 908.3 653.0 908.3 656.1 908.3 659.1 908.3 662.2 908.3"/>
<path fill="none" stroke="#00b050" stroke-width="2.9" d="M51.2 908.3 54.3 908.3 57.3 908.3 60.4 908.3 63.4 908.3 66.5 908.3 69.5 908.3 72.6 908.3 75.6 908.3 78.7 908.3 81.7 908.3 84.8 908.3 87.9 908.3 90.9 908.3 94.0 908.3 97.0 908.3 100.1 908.3 103.1 908.3 106.2 908.3 109.2 908.3 112.3 908.3 115.4 908.3 118.4 908.3 121.5 908.3 124.5 908.3 127.6 908.3 130.6 908.3 133.7 908.3 136.7 908.3 139.8 908.3 142.8 908.3 145.9 908.3 149.0 908.3 152.0 908.3 155.1 908.3 158.1 908.3 161.2 908.3 164.2 908.3 167.3 908.3 170.3 908.3 173.4 908.2 176.5 908.2 179.5 908.1 182.6 907.9 185.6 907.7 188.7 907.5 191.7 907.0 194.8 906.5 197.8 905.7 200.9 904.8 203.9 903.6 207.0 902.2 210.1 900.6 213.1 898.9 216.2 897.2 219.2 895.4 222.3 893.8 225.3 892.5 228.4 891.4 231.4 890.8 234.5 890.6 237.6 890.9 240.6 891.5 243.7 892.5 246.7 893.7 249.8 895.0 252.8 896.4 255.9 897.6 258.9 898.8 262.0 899.8 265.0 900.6 268.1 901.3 271.2 901.9 274.2 902.4 277.3 902.9 280.3 903.4 283.4 904.0 286.4 904.5 289.5 905.0 292.5 905.5 295.6 906.0 298.7 906.5 301.7 906.9 304.8 907.2 307.8 907.5 310.9 907.7 313.9 907.9 317.0 908.0 320.0 908.1 323.1 908.2 326.1 908.2 329.2 908.3 332.3 908.3 335.3 908.3 338.4 908.3 341.4 908.3 344.5 908.3 347.5 908.3 350.6 908.3 353.6 908.3 356.7 908.3 359.8 908.3 362.8 908.3 365.9 908.3 368.9 908.3 372.0 908.3 375.0 908.3 378.1 908.3 381.1 908.3 384.2 908.3 387.2 908.3"/>
<g fill="none" stroke="#ff00ff" stroke-width="1.6"><circle cx="55.2" cy="908.2" r="3.3"/><circle cx="61.3" cy="910.0" r="3.3"/><circle cx="67.5" cy="910.1" r="3.3"/><circle cx="73.6" cy="910.3" r="3.3"/><circle cx="79.7" cy="909.0" r="3.3"/><circle cx="85.8" cy="908.1" r="3.3"/><circle cx="91.9" cy="905.9" r="3.3"/><circle cx="98.0" cy="909.4" r="3.3"/><circle cx="104.1" cy="909.7" r="3.3"/><circle cx="110.2" cy="907.8" r="3.3"/><circle cx="116.3" cy="909.6" r="3.3"/><circle cx="122.4" cy="910.3" r="3.3"/><circle cx="128.6" cy="908.6" r="3.3"/><circle cx="134.7" cy="910.0" r="3.3"/><circle cx="140.8" cy="908.9" r="3.3"/><circle cx="146.9" cy="905.8" r="3.3"/><circle cx="153.0" cy="907.7" r="3.3"/><circle cx="159.1" cy="907.8" r="3.3"/><circle cx="165.2" cy="909.2" r="3.3"/><circle cx="171.3" cy="907.1" r="3.3"/><circle cx="177.4" cy="907.6" r="3.3"/><circle cx="183.5" cy="906.6" r="3.3"/><circle cx="189.7" cy="907.4" r="3.3"/><circle cx="195.8" cy="906.5" r="3.3"/><circle cx="201.9" cy="906.0" r="3.3"/><circle cx="208.0" cy="903.0" r="3.3"/><circle cx="214.1" cy="898.7" r="3.3"/><circle cx="220.2" cy="895.4" r="3.3"/><circle cx="226.3" cy="892.4" r="3.3"/><circle cx="232.4" cy="891.0" r="3.3"/><circle cx="238.5" cy="893.5" r="3.3"/><circle cx="244.6" cy="889.3" r="3.3"/><circle cx="250.8" cy="895.3" r="3.3"/><circle cx="256.9" cy="898.6" r="3.3"/><circle cx="263.0" cy="901.8" r="3.3"/><circle cx="269.1" cy="900.0" r="3.3"/><circle cx="275.2" cy="903.2" r="3.3"/><circle cx="281.3" cy="905.0" r="3.3"/><circle cx="287.4" cy="904.1" r="3.3"/><circle cx="293.5" cy="902.9" r="3.3"/><circle cx="299.6" cy="906.2" r="3.3"/><circle cx="305.7" cy="905.6" r="3.3"/><circle cx="311.9" cy="908.9" r="3.3"/><circle cx="318.0" cy="906.9" r="3.3"/><circle cx="324.1" cy="911.0" r="3.3"/><circle cx="330.2" cy="908.6" r="3.3"/><circle cx="336.3" cy="907.2" r="3.3"/><circle cx="342.4" cy="907.7" r="3.3"/><circle cx="348.5" cy="906.8" r="3.3"/><circle cx="354.6" cy="909.0" r="3.3"/><circle cx="360.7" cy="910.7" r="3.3"/><circle cx="366.8" cy="908.1" r="3.3"/><circle cx="373.0" cy="909.8" r="3.3"/><circle cx="379.1" cy="907.0" r="3.3"/><circle cx="385.2" cy="908.9" r="3.3"/><circle cx="391.3" cy="911.8" r="3.3"/><circle cx="397.4" cy="906.2" r="3.3"/><circle cx="403.5" cy="910.0" r="3.3"/><circle cx="409.6" cy="909.6" r="3.3"/><circle cx="415.7" cy="904.5" r="3.3"/><circle cx="421.8" cy="904.0" r="3.3"/><circle cx="427.9" cy="902.5" r="3.3"/><circle cx="434.1" cy="901.7" r="3.3"/><circle cx="440.2" cy="894.3" r="3.3"/><circle cx="446.3" cy="889.2" r="3.3"/><circle cx="452.4" cy="886.8" r="3.3"/><circle cx="458.5" cy="885.0" r="3.3"/><circle cx="464.6" cy="886.3" r="3.3"/><circle cx="470.7" cy="887.4" r="3.3"/><circle cx="476.8" cy="891.4" r="3.3"/><circle cx="482.9" cy="890.6" r="3.3"/><circle cx="489.0" cy="896.7" r="3.3"/><circle cx="495.2" cy="896.5" r="3.3"/><circle cx="501.3" cy="898.6" r="3.3"/><circle cx="507.4" cy="903.3" r="3.3"/><circle cx="513.5" cy="905.1" r="3.3"/><circle cx="519.6" cy="903.0" r="3.3"/><circle cx="525.7" cy="907.3" r="3.3"/><circle cx="531.8" cy="905.6" r="3.3"/><circle cx="537.9" cy="906.8" r="3.3"/><circle cx="544.0" cy="909.4" r="3.3"/><circle cx="550.1" cy="907.0" r="3.3"/><circle cx="556.3" cy="908.9" r="3.3"/><circle cx="562.4" cy="907.8" r="3.3"/><circle cx="568.5" cy="911.3" r="3.3"/><circle cx="574.6" cy="908.3" r="3.3"/><circle cx="580.7" cy="906.6" r="3.3"/><circle cx="586.8" cy="906.8" r="3.3"/><circle cx="592.9" cy="907.0" r="3.3"/><circle cx="599.0" cy="908.6" r="3.3"/><circle cx="605.1" cy="908.4" r="3.3"/><circle cx="611.2" cy="909.9" r="3.3"/><circle cx="617.4" cy="908.7" r="3.3"/><circle cx="623.5" cy="908.6" r="3.3"/><circle cx="629.6" cy="908.9" r="3.3"/><circle cx="635.7" cy="908.2" r="3.3"/><circle cx="641.8" cy="908.8" r="3.3"/><circle cx="647.9" cy="909.6" r="3.3"/><circle cx="654.0" cy="909.6" r="3.3"/><circle cx="660.1" cy="907.6" r="3.3"/></g>
<path fill="none" stroke="#7030a0" stroke-width="2.9" d="M298.7 967.5 301.7 967.5 304.8 967.5 307.8 967.5 310.9 967.5 313.9 967.5 317.0 967.5 320.0 967.5 323.1 967.5 326.1 967.5 329.2 967.5 332.3 967.5 335.3 967.5 338.4 967.5 341.4 967.5 344.5 967.5 347.5 967.5 350.6 967.5 353.6 967.5 356.7 967.5 359.8 967.5 362.8 967.5 365.9 967.5 368.9 967.5 372.0 967.5 375.0 967.5 378.1 967.4 381.1 967.4 384.2 967.4 387.2 967.3 390.3 967.3 393.4 967.2 396.4 967.0 399.5 966.8 402.5 966.5 405.6 966.2 408.6 965.7 411.7 965.0 414.7 964.1 417.8 963.0 420.9 961.6 423.9 960.0 427.0 958.1 430.0 955.9 433.1 953.6 436.1 951.2 439.2 948.8 442.2 946.6 445.3 944.7 448.3 943.3 451.4 942.3 454.5 941.8 457.5 941.8 460.6 942.3 463.6 943.1 466.7 944.2 469.7 945.6 472.8 947.0 475.8 948.5 478.9 950.0 482.0 951.4 485.0 952.8 488.1 954.1 491.1 955.4 494.2 956.6 497.2 957.8 500.3 958.9 503.3 960.0 506.4 961.0 509.4 961.9 512.5 962.8 515.6 963.5 518.6 964.2 521.7 964.8 524.7 965.3 527.8 965.8 530.8 966.1 533.9 966.4 536.9 966.7 540.0 966.9 543.1 967.0 546.1 967.2 549.2 967.2 552.2 967.3 555.3 967.4 558.3 967.4 561.4 967.4 564.4 967.5 567.5 967.5 570.5 967.5 573.6 967.5 576.7 967.5 579.7 967.5 582.8 967.5 585.8 967.5 588.9 967.5 591.9 967.5 595.0 967.5 598.0 967.5 601.1 967.5 604.2 967.5 607.2 967.5 610.3 967.5 613.3 967.5 616.4 967.5 619.4 967.5 622.5 967.5 625.5 967.5 628.6 967.5 631.6 967.5 634.7 967.5 637.8 967.5 640.8 967.5 643.9 967.5 646.9 967.5 650.0 967.5 653.0 967.5 656.1 967.5 659.1 967.5 662.2 967.5"/>
<path fill="none" stroke="#00b050" stroke-width="2.9" d="M51.2 967.5 54.3 967.5 57.3 967.5 60.4 967.5 63.4 967.5 66.5 967.5 69.5 967.5 72.6 967.5 75.6 967.5 78.7 967.5 81.7 967.5 84.8 967.5 87.9 967.5 90.9 967.5 94.0 967.5 97.0 967.5 100.1 967.5 103.1 967.5 106.2 967.5 109.2 967.5 112.3 967.5 115.4 967.5 118.4 967.5 121.5 967.5 124.5 967.5 127.6 967.5 130.6 967.5 133.7 967.5 136.7 967.5 139.8 967.5 142.8 967.5 145.9 967.5 149.0 967.5 152.0 967.5 155.1 967.5 158.1 967.5 161.2 967.4 164.2 967.4 167.3 967.3 170.3 967.2 173.4 967.0 176.5 966.8 179.5 966.4 182.6 966.0 185.6 965.4 188.7 964.6 191.7 963.6 194.8 962.4 197.8 961.0 200.9 959.3 203.9 957.5 207.0 955.6 210.1 953.6 213.1 951.5 216.2 949.5 219.2 947.3 222.3 944.9 225.3 942.3 228.4 939.6 231.4 937.5 234.5 936.7 237.6 937.7 240.6 940.5 243.7 944.5 246.7 948.7 249.8 952.6 252.8 955.9 255.9 958.4 258.9 960.4 262.0 962.0 265.0 963.3 268.1 964.4 271.2 965.2 274.2 965.8 277.3 966.3 280.3 966.7 283.4 967.0 286.4 967.2 289.5 967.3 292.5 967.4 295.6 967.4 298.7 967.4 301.7 967.5 304.8 967.5 307.8 967.5 310.9 967.5 313.9 967.5 317.0 967.5 320.0 967.5 323.1 967.5 326.1 967.5 329.2 967.5 332.3 967.5 335.3 967.5 338.4 967.5 341.4 967.5 344.5 967.5 347.5 967.5 350.6 967.5 353.6 967.5 356.7 967.5 359.8 967.5 362.8 967.5 365.9 967.5 368.9 967.5 372.0 967.5 375.0 967.5 378.1 967.5 381.1 967.5 384.2 967.5 387.2 967.5"/>
<g fill="none" stroke="#00b050" stroke-width="1.6"><circle cx="56.4" cy="964.9" r="3.3"/><circle cx="62.5" cy="966.4" r="3.3"/><circle cx="68.6" cy="968.0" r="3.3"/><circle cx="74.7" cy="963.9" r="3.3"/><circle cx="80.8" cy="966.9" r="3.3"/><circle cx="86.9" cy="968.3" r="3.3"/><circle cx="93.1" cy="966.7" r="3.3"/><circle cx="99.2" cy="965.9" r="3.3"/><circle cx="105.3" cy="970.2" r="3.3"/><circle cx="111.4" cy="969.7" r="3.3"/><circle cx="117.5" cy="967.2" r="3.3"/><circle cx="123.6" cy="969.6" r="3.3"/><circle cx="129.7" cy="969.5" r="3.3"/><circle cx="135.8" cy="965.9" r="3.3"/><circle cx="141.9" cy="971.6" r="3.3"/><circle cx="148.0" cy="966.2" r="3.3"/><circle cx="154.2" cy="967.2" r="3.3"/><circle cx="160.3" cy="965.9" r="3.3"/><circle cx="166.4" cy="967.5" r="3.3"/><circle cx="172.5" cy="965.2" r="3.3"/><circle cx="178.6" cy="966.6" r="3.3"/><circle cx="184.7" cy="967.3" r="3.3"/><circle cx="190.8" cy="964.3" r="3.3"/><circle cx="196.9" cy="961.1" r="3.3"/><circle cx="203.0" cy="960.5" r="3.3"/><circle cx="209.1" cy="952.9" r="3.3"/><circle cx="215.3" cy="951.6" r="3.3"/><circle cx="221.4" cy="945.3" r="3.3"/><circle cx="227.5" cy="940.8" r="3.3"/><circle cx="233.6" cy="936.9" r="3.3"/><circle cx="239.7" cy="939.8" r="3.3"/><circle cx="245.8" cy="947.5" r="3.3"/><circle cx="251.9" cy="953.9" r="3.3"/><circle cx="258.0" cy="959.1" r="3.3"/><circle cx="264.1" cy="963.7" r="3.3"/><circle cx="270.2" cy="964.9" r="3.3"/><circle cx="276.4" cy="964.5" r="3.3"/><circle cx="282.5" cy="965.9" r="3.3"/><circle cx="288.6" cy="966.3" r="3.3"/><circle cx="294.7" cy="967.4" r="3.3"/><circle cx="300.8" cy="967.8" r="3.3"/><circle cx="306.9" cy="967.7" r="3.3"/><circle cx="313.0" cy="966.6" r="3.3"/><circle cx="319.1" cy="967.6" r="3.3"/><circle cx="325.2" cy="965.5" r="3.3"/><circle cx="331.3" cy="963.2" r="3.3"/><circle cx="337.5" cy="967.5" r="3.3"/><circle cx="343.6" cy="965.1" r="3.3"/><circle cx="349.7" cy="966.1" r="3.3"/><circle cx="355.8" cy="965.7" r="3.3"/><circle cx="361.9" cy="968.5" r="3.3"/><circle cx="368.0" cy="965.7" r="3.3"/><circle cx="374.1" cy="967.9" r="3.3"/><circle cx="380.2" cy="966.7" r="3.3"/><circle cx="386.3" cy="965.5" r="3.3"/><circle cx="392.4" cy="964.9" r="3.3"/><circle cx="398.6" cy="967.6" r="3.3"/><circle cx="404.7" cy="966.9" r="3.3"/><circle cx="410.8" cy="966.4" r="3.3"/><circle cx="416.9" cy="966.2" r="3.3"/><circle cx="423.0" cy="961.0" r="3.3"/><circle cx="429.1" cy="957.0" r="3.3"/><circle cx="435.2" cy="951.7" r="3.3"/><circle cx="441.3" cy="947.5" r="3.3"/><circle cx="447.4" cy="943.2" r="3.3"/><circle cx="453.5" cy="940.6" r="3.3"/><circle cx="459.7" cy="945.1" r="3.3"/><circle cx="465.8" cy="941.1" r="3.3"/><circle cx="471.9" cy="947.0" r="3.3"/><circle cx="478.0" cy="950.2" r="3.3"/><circle cx="484.1" cy="952.6" r="3.3"/><circle cx="490.2" cy="953.6" r="3.3"/><circle cx="496.3" cy="957.2" r="3.3"/><circle cx="502.4" cy="959.0" r="3.3"/><circle cx="508.5" cy="960.1" r="3.3"/><circle cx="514.6" cy="963.3" r="3.3"/><circle cx="520.8" cy="964.1" r="3.3"/><circle cx="526.9" cy="964.8" r="3.3"/><circle cx="533.0" cy="967.4" r="3.3"/><circle cx="539.1" cy="965.2" r="3.3"/><circle cx="545.2" cy="967.8" r="3.3"/><circle cx="551.3" cy="966.4" r="3.3"/><circle cx="557.4" cy="968.0" r="3.3"/><circle cx="563.5" cy="967.6" r="3.3"/><circle cx="569.6" cy="967.8" r="3.3"/><circle cx="575.7" cy="966.0" r="3.3"/><circle cx="581.9" cy="966.3" r="3.3"/><circle cx="588.0" cy="966.2" r="3.3"/><circle cx="594.1" cy="967.8" r="3.3"/><circle cx="600.2" cy="968.6" r="3.3"/><circle cx="606.3" cy="969.1" r="3.3"/><circle cx="612.4" cy="966.7" r="3.3"/><circle cx="618.5" cy="967.6" r="3.3"/><circle cx="624.6" cy="965.1" r="3.3"/><circle cx="630.7" cy="964.2" r="3.3"/><circle cx="636.8" cy="966.2" r="3.3"/><circle cx="643.0" cy="966.5" r="3.3"/><circle cx="649.1" cy="965.2" r="3.3"/><circle cx="655.2" cy="964.8" r="3.3"/><circle cx="661.3" cy="968.3" r="3.3"/></g>
<path fill="none" stroke="#7030a0" stroke-width="2.9" d="M298.7 1048.8 301.7 1048.8 304.8 1048.8 307.8 1048.8 310.9 1048.8 313.9 1048.8 317.0 1048.8 320.0 1048.8 323.1 1048.8 326.1 1048.8 329.2 1048.8 332.3 1048.8 335.3 1048.8 338.4 1048.8 341.4 1048.8 344.5 1048.8 347.5 1048.8 350.6 1048.8 353.6 1048.8 356.7 1048.8 359.8 1048.8 362.8 1048.8 365.9 1048.8 368.9 1048.8 372.0 1048.8 375.0 1048.8 378.1 1048.8 381.1 1048.8 384.2 1048.8 387.2 1048.7 390.3 1048.7 393.4 1048.6 396.4 1048.5 399.5 1048.4 402.5 1048.1 405.6 1047.8 408.6 1047.3 411.7 1046.5 414.7 1045.4 417.8 1043.9 420.9 1041.9 423.9 1039.4 427.0 1036.4 430.0 1032.9 433.1 1029.2 436.1 1025.5 439.2 1022.0 442.2 1019.1 445.3 1017.0 448.3 1015.9 451.4 1015.8 454.5 1016.6 457.5 1018.3 460.6 1020.4 463.6 1022.9 466.7 1025.6 469.7 1028.2 472.8 1030.7 475.8 1033.0 478.9 1035.1 482.0 1037.1 485.0 1038.9 488.1 1040.5 491.1 1042.0 494.2 1043.3 497.2 1044.4 500.3 1045.4 503.3 1046.2 506.4 1046.8 509.4 1047.3 512.5 1047.7 515.6 1048.1 518.6 1048.3 521.7 1048.4 524.7 1048.6 527.8 1048.6 530.8 1048.7 533.9 1048.7 536.9 1048.8 540.0 1048.8 543.1 1048.8 546.1 1048.8 549.2 1048.8 552.2 1048.8 555.3 1048.8 558.3 1048.8 561.4 1048.8 564.4 1048.8 567.5 1048.8 570.5 1048.8 573.6 1048.8 576.7 1048.8 579.7 1048.8 582.8 1048.8 585.8 1048.8 588.9 1048.8 591.9 1048.8 595.0 1048.8 598.0 1048.8 601.1 1048.8 604.2 1048.8 607.2 1048.8 610.3 1048.8 613.3 1048.8 616.4 1048.8 619.4 1048.8 622.5 1048.8 625.5 1048.8 628.6 1048.8 631.6 1048.8 634.7 1048.8 637.8 1048.8 640.8 1048.8 643.9 1048.8 646.9 1048.8 650.0 1048.8 653.0 1048.8 656.1 1048.8 659.1 1048.8 662.2 1048.8"/>
<path fill="none" stroke="#00b050" stroke-width="2.9" d="M51.2 1048.8 54.3 1048.8 57.3 1048.8 60.4 1048.8 63.4 1048.8 66.5 1048.8 69.5 1048.8 72.6 1048.8 75.6 1048.8 78.7 1048.8 81.7 1048.8 84.8 1048.8 87.9 1048.8 90.9 1048.8 94.0 1048.8 97.0 1048.8 100.1 1048.8 103.1 1048.8 106.2 1048.8 109.2 1048.8 112.3 1048.8 115.4 1048.8 118.4 1048.8 121.5 1048.8 124.5 1048.8 127.6 1048.8 130.6 1048.8 133.7 1048.8 136.7 1048.8 139.8 1048.7 142.8 1048.7 145.9 1048.7 149.0 1048.7 152.0 1048.6 155.1 1048.5 158.1 1048.4 161.2 1048.3 164.2 1048.2 167.3 1047.9 170.3 1047.7 173.4 1047.3 176.5 1046.8 179.5 1046.1 182.6 1045.2 185.6 1044.0 188.7 1042.5 191.7 1040.6 194.8 1038.4 197.8 1035.7 200.9 1032.6 203.9 1029.1 207.0 1025.4 210.1 1021.6 213.1 1017.9 216.2 1014.5 219.2 1011.5 222.3 1009.3 225.3 1007.9 228.4 1007.5 231.4 1008.0 234.5 1009.5 237.6 1011.7 240.6 1014.6 243.7 1017.9 246.7 1021.5 249.8 1025.1 252.8 1028.5 255.9 1031.8 258.9 1034.6 262.0 1037.2 265.0 1039.3 268.1 1041.1 271.2 1042.6 274.2 1043.8 277.3 1044.7 280.3 1045.5 283.4 1046.1 286.4 1046.7 289.5 1047.1 292.5 1047.4 295.6 1047.7 298.7 1047.9 301.7 1048.1 304.8 1048.3 307.8 1048.4 310.9 1048.5 313.9 1048.6 317.0 1048.6 320.0 1048.7 323.1 1048.7 326.1 1048.7 329.2 1048.8 332.3 1048.8 335.3 1048.8 338.4 1048.8 341.4 1048.8 344.5 1048.8 347.5 1048.8 350.6 1048.8 353.6 1048.8 356.7 1048.8 359.8 1048.8 362.8 1048.8 365.9 1048.8 368.9 1048.8 372.0 1048.8 375.0 1048.8 378.1 1048.8 381.1 1048.8 384.2 1048.8 387.2 1048.8"/>
<g fill="none" stroke="#0000ff" stroke-width="1.6"><circle cx="52.8" cy="1047.6" r="3.3"/><circle cx="59.0" cy="1046.3" r="3.3"/><circle cx="65.1" cy="1052.3" r="3.3"/><circle cx="71.2" cy="1049.0" r="3.3"/><circle cx="77.3" cy="1048.3" r="3.3"/><circle cx="83.4" cy="1049.8" r="3.3"/><circle cx="89.5" cy="1047.6" r="3.3"/><circle cx="95.6" cy="1051.2" r="3.3"/><circle cx="101.7" cy="1046.5" r="3.3"/><circle cx="107.8" cy="1046.8" r="3.3"/><circle cx="113.9" cy="1048.6" r="3.3"/><circle cx="120.1" cy="1047.6" r="3.3"/><circle cx="126.2" cy="1050.9" r="3.3"/><circle cx="132.3" cy="1046.3" r="3.3"/><circle cx="138.4" cy="1047.6" r="3.3"/><circle cx="144.5" cy="1049.0" r="3.3"/><circle cx="150.6" cy="1049.4" r="3.3"/><circle cx="156.7" cy="1050.0" r="3.3"/><circle cx="162.8" cy="1048.7" r="3.3"/><circle cx="168.9" cy="1051.1" r="3.3"/><circle cx="175.0" cy="1046.3" r="3.3"/><circle cx="181.2" cy="1045.8" r="3.3"/><circle cx="187.3" cy="1044.5" r="3.3"/><circle cx="193.4" cy="1038.9" r="3.3"/><circle cx="199.5" cy="1033.6" r="3.3"/><circle cx="205.6" cy="1026.4" r="3.3"/><circle cx="211.7" cy="1018.6" r="3.3"/><circle cx="217.8" cy="1011.1" r="3.3"/><circle cx="223.9" cy="1007.6" r="3.3"/><circle cx="230.0" cy="1005.3" r="3.3"/><circle cx="236.1" cy="1011.1" r="3.3"/><circle cx="242.3" cy="1013.9" r="3.3"/><circle cx="248.4" cy="1026.5" r="3.3"/><circle cx="254.5" cy="1032.8" r="3.3"/><circle cx="260.6" cy="1037.6" r="3.3"/><circle cx="266.7" cy="1039.9" r="3.3"/><circle cx="272.8" cy="1042.3" r="3.3"/><circle cx="278.9" cy="1046.9" r="3.3"/><circle cx="285.0" cy="1046.6" r="3.3"/><circle cx="291.1" cy="1048.0" r="3.3"/><circle cx="297.2" cy="1046.7" r="3.3"/><circle cx="303.4" cy="1049.7" r="3.3"/><circle cx="309.5" cy="1047.2" r="3.3"/><circle cx="315.6" cy="1048.7" r="3.3"/><circle cx="321.7" cy="1046.0" r="3.3"/><circle cx="327.8" cy="1047.7" r="3.3"/><circle cx="333.9" cy="1049.4" r="3.3"/><circle cx="340.0" cy="1048.0" r="3.3"/><circle cx="346.1" cy="1048.1" r="3.3"/><circle cx="352.2" cy="1049.9" r="3.3"/><circle cx="358.3" cy="1048.6" r="3.3"/><circle cx="364.5" cy="1050.6" r="3.3"/><circle cx="370.6" cy="1045.1" r="3.3"/><circle cx="376.7" cy="1049.6" r="3.3"/><circle cx="382.8" cy="1049.5" r="3.3"/><circle cx="388.9" cy="1046.3" r="3.3"/><circle cx="395.0" cy="1046.6" r="3.3"/><circle cx="401.1" cy="1049.5" r="3.3"/><circle cx="407.2" cy="1045.9" r="3.3"/><circle cx="413.3" cy="1044.9" r="3.3"/><circle cx="419.4" cy="1043.7" r="3.3"/><circle cx="425.6" cy="1037.3" r="3.3"/><circle cx="431.7" cy="1031.6" r="3.3"/><circle cx="437.8" cy="1022.1" r="3.3"/><circle cx="443.9" cy="1018.2" r="3.3"/><circle cx="450.0" cy="1017.2" r="3.3"/><circle cx="456.1" cy="1017.8" r="3.3"/><circle cx="462.2" cy="1018.4" r="3.3"/><circle cx="468.3" cy="1027.9" r="3.3"/><circle cx="474.4" cy="1031.9" r="3.3"/><circle cx="480.5" cy="1034.8" r="3.3"/><circle cx="486.7" cy="1041.8" r="3.3"/><circle cx="492.8" cy="1040.0" r="3.3"/><circle cx="498.9" cy="1047.7" r="3.3"/><circle cx="505.0" cy="1045.5" r="3.3"/><circle cx="511.1" cy="1049.8" r="3.3"/><circle cx="517.2" cy="1048.0" r="3.3"/><circle cx="523.3" cy="1046.4" r="3.3"/><circle cx="529.4" cy="1048.7" r="3.3"/><circle cx="535.5" cy="1049.2" r="3.3"/><circle cx="541.6" cy="1049.5" r="3.3"/><circle cx="547.8" cy="1050.3" r="3.3"/><circle cx="553.9" cy="1047.4" r="3.3"/><circle cx="560.0" cy="1049.5" r="3.3"/><circle cx="566.1" cy="1049.8" r="3.3"/><circle cx="572.2" cy="1048.3" r="3.3"/><circle cx="578.3" cy="1047.3" r="3.3"/><circle cx="584.4" cy="1047.3" r="3.3"/><circle cx="590.5" cy="1049.8" r="3.3"/><circle cx="596.6" cy="1049.9" r="3.3"/><circle cx="602.7" cy="1047.5" r="3.3"/><circle cx="608.9" cy="1046.7" r="3.3"/><circle cx="615.0" cy="1050.6" r="3.3"/><circle cx="621.1" cy="1046.4" r="3.3"/><circle cx="627.2" cy="1049.0" r="3.3"/><circle cx="633.3" cy="1047.5" r="3.3"/><circle cx="639.4" cy="1046.1" r="3.3"/><circle cx="645.5" cy="1048.9" r="3.3"/><circle cx="651.6" cy="1048.4" r="3.3"/><circle cx="657.7" cy="1050.9" r="3.3"/></g>
<path fill="none" stroke="#7030a0" stroke-width="2.9" d="M298.7 1144.8 301.7 1144.8 304.8 1144.8 307.8 1144.8 310.9 1144.8 313.9 1144.8 317.0 1144.8 320.0 1144.8 323.1 1144.8 326.1 1144.8 329.2 1144.8 332.3 1144.8 335.3 1144.8 338.4 1144.8 341.4 1144.8 344.5 1144.8 347.5 1144.8 350.6 1144.8 353.6 1144.8 356.7 1144.8 359.8 1144.8 362.8 1144.7 365.9 1144.7 368.9 1144.7 372.0 1144.6 375.0 1144.5 378.1 1144.4 381.1 1144.2 384.2 1144.0 387.2 1143.7 390.3 1143.3 393.4 1142.8 396.4 1142.2 399.5 1141.4 402.5 1140.5 405.6 1139.3 408.6 1138.0 411.7 1136.4 414.7 1134.5 417.8 1132.1 420.9 1129.3 423.9 1126.0 427.0 1122.0 430.0 1117.4 433.1 1112.2 436.1 1106.6 439.2 1100.9 442.2 1095.4 445.3 1090.7 448.3 1087.1 451.4 1085.2 454.5 1085.1 457.5 1086.8 460.6 1090.3 463.6 1095.2 466.7 1101.0 469.7 1107.2 472.8 1113.4 475.8 1119.2 478.9 1124.3 482.0 1128.7 485.0 1132.3 488.1 1135.2 491.1 1137.4 494.2 1139.2 497.2 1140.5 500.3 1141.6 503.3 1142.4 506.4 1143.0 509.4 1143.4 512.5 1143.8 515.6 1144.1 518.6 1144.3 521.7 1144.4 524.7 1144.5 527.8 1144.6 530.8 1144.7 533.9 1144.7 536.9 1144.7 540.0 1144.8 543.1 1144.8 546.1 1144.8 549.2 1144.8 552.2 1144.8 555.3 1144.8 558.3 1144.8 561.4 1144.8 564.4 1144.8 567.5 1144.8 570.5 1144.8 573.6 1144.8 576.7 1144.8 579.7 1144.8 582.8 1144.8 585.8 1144.8 588.9 1144.8 591.9 1144.8 595.0 1144.8 598.0 1144.8 601.1 1144.8 604.2 1144.8 607.2 1144.8 610.3 1144.8 613.3 1144.8 616.4 1144.8 619.4 1144.8 622.5 1144.8 625.5 1144.8 628.6 1144.8 631.6 1144.8 634.7 1144.8 637.8 1144.8 640.8 1144.8 643.9 1144.8 646.9 1144.8 650.0 1144.8 653.0 1144.8 656.1 1144.8 659.1 1144.8 662.2 1144.8"/>
<path fill="none" stroke="#00b050" stroke-width="2.9" d="M51.2 1144.8 54.3 1144.8 57.3 1144.8 60.4 1144.8 63.4 1144.8 66.5 1144.8 69.5 1144.8 72.6 1144.8 75.6 1144.8 78.7 1144.8 81.7 1144.8 84.8 1144.8 87.9 1144.8 90.9 1144.8 94.0 1144.8 97.0 1144.8 100.1 1144.8 103.1 1144.8 106.2 1144.8 109.2 1144.8 112.3 1144.8 115.4 1144.8 118.4 1144.8 121.5 1144.8 124.5 1144.8 127.6 1144.8 130.6 1144.7 133.7 1144.7 136.7 1144.7 139.8 1144.6 142.8 1144.5 145.9 1144.4 149.0 1144.2 152.0 1144.0 155.1 1143.7 158.1 1143.3 161.2 1142.8 164.2 1142.2 167.3 1141.4 170.3 1140.4 173.4 1139.3 176.5 1137.9 179.5 1136.2 182.6 1134.3 185.6 1132.2 188.7 1129.7 191.7 1126.9 194.8 1123.7 197.8 1120.1 200.9 1115.7 203.9 1110.6 207.0 1104.6 210.1 1097.5 213.1 1089.5 216.2 1081.0 219.2 1072.6 222.3 1065.3 225.3 1059.9 228.4 1057.3 231.4 1057.9 234.5 1061.7 237.6 1068.4 240.6 1076.9 243.7 1086.5 246.7 1096.0 249.8 1104.8 252.8 1112.5 255.9 1118.9 258.9 1124.1 262.0 1128.2 265.0 1131.5 268.1 1134.1 271.2 1136.3 274.2 1138.0 277.3 1139.4 280.3 1140.6 283.4 1141.6 286.4 1142.3 289.5 1142.9 292.5 1143.4 295.6 1143.8 298.7 1144.1 301.7 1144.3 304.8 1144.4 307.8 1144.5 310.9 1144.6 313.9 1144.7 317.0 1144.7 320.0 1144.7 323.1 1144.8 326.1 1144.8 329.2 1144.8 332.3 1144.8 335.3 1144.8 338.4 1144.8 341.4 1144.8 344.5 1144.8 347.5 1144.8 350.6 1144.8 353.6 1144.8 356.7 1144.8 359.8 1144.8 362.8 1144.8 365.9 1144.8 368.9 1144.8 372.0 1144.8 375.0 1144.8 378.1 1144.8 381.1 1144.8 384.2 1144.8 387.2 1144.8"/>
<g fill="none" stroke="#ff0000" stroke-width="1.6"><circle cx="56.4" cy="1148.1" r="3.3"/><circle cx="62.5" cy="1144.4" r="3.3"/><circle cx="68.6" cy="1146.2" r="3.3"/><circle cx="74.7" cy="1146.3" r="3.3"/><circle cx="80.8" cy="1143.9" r="3.3"/><circle cx="86.9" cy="1143.4" r="3.3"/><circle cx="93.1" cy="1147.1" r="3.3"/><circle cx="99.2" cy="1144.2" r="3.3"/><circle cx="105.3" cy="1144.7" r="3.3"/><circle cx="111.4" cy="1144.3" r="3.3"/><circle cx="117.5" cy="1144.5" r="3.3"/><circle cx="123.6" cy="1143.8" r="3.3"/><circle cx="129.7" cy="1145.8" r="3.3"/><circle cx="135.8" cy="1146.5" r="3.3"/><circle cx="141.9" cy="1143.9" r="3.3"/><circle cx="148.0" cy="1142.2" r="3.3"/><circle cx="154.2" cy="1143.8" r="3.3"/><circle cx="160.3" cy="1140.7" r="3.3"/><circle cx="166.4" cy="1140.6" r="3.3"/><circle cx="172.5" cy="1141.4" r="3.3"/><circle cx="178.6" cy="1140.1" r="3.3"/><circle cx="184.7" cy="1133.3" r="3.3"/><circle cx="190.8" cy="1126.1" r="3.3"/><circle cx="196.9" cy="1122.3" r="3.3"/><circle cx="203.0" cy="1108.8" r="3.3"/><circle cx="209.1" cy="1098.6" r="3.3"/><circle cx="215.3" cy="1085.8" r="3.3"/><circle cx="221.4" cy="1068.4" r="3.3"/><circle cx="227.5" cy="1055.6" r="3.3"/><circle cx="233.6" cy="1057.7" r="3.3"/><circle cx="239.7" cy="1075.4" r="3.3"/><circle cx="245.8" cy="1093.0" r="3.3"/><circle cx="251.9" cy="1109.4" r="3.3"/><circle cx="258.0" cy="1123.2" r="3.3"/><circle cx="264.1" cy="1129.6" r="3.3"/><circle cx="270.2" cy="1132.7" r="3.3"/><circle cx="276.4" cy="1140.1" r="3.3"/><circle cx="282.5" cy="1140.2" r="3.3"/><circle cx="288.6" cy="1141.2" r="3.3"/><circle cx="294.7" cy="1141.6" r="3.3"/><circle cx="300.8" cy="1144.5" r="3.3"/><circle cx="306.9" cy="1143.2" r="3.3"/><circle cx="313.0" cy="1145.5" r="3.3"/><circle cx="319.1" cy="1144.3" r="3.3"/><circle cx="325.2" cy="1146.3" r="3.3"/><circle cx="331.3" cy="1144.1" r="3.3"/><circle cx="337.5" cy="1143.7" r="3.3"/><circle cx="343.6" cy="1141.8" r="3.3"/><circle cx="349.7" cy="1143.1" r="3.3"/><circle cx="355.8" cy="1145.8" r="3.3"/><circle cx="361.9" cy="1149.2" r="3.3"/><circle cx="368.0" cy="1142.7" r="3.3"/><circle cx="374.1" cy="1142.9" r="3.3"/><circle cx="380.2" cy="1144.7" r="3.3"/><circle cx="386.3" cy="1144.4" r="3.3"/><circle cx="392.4" cy="1141.8" r="3.3"/><circle cx="398.6" cy="1141.7" r="3.3"/><circle cx="404.7" cy="1137.2" r="3.3"/><circle cx="410.8" cy="1136.4" r="3.3"/><circle cx="416.9" cy="1134.1" r="3.3"/><circle cx="423.0" cy="1129.4" r="3.3"/><circle cx="429.1" cy="1118.5" r="3.3"/><circle cx="435.2" cy="1107.9" r="3.3"/><circle cx="441.3" cy="1097.6" r="3.3"/><circle cx="447.4" cy="1089.6" r="3.3"/><circle cx="453.5" cy="1085.5" r="3.3"/><circle cx="459.7" cy="1087.9" r="3.3"/><circle cx="465.8" cy="1099.6" r="3.3"/><circle cx="471.9" cy="1112.9" r="3.3"/><circle cx="478.0" cy="1121.7" r="3.3"/><circle cx="484.1" cy="1129.2" r="3.3"/><circle cx="490.2" cy="1137.5" r="3.3"/><circle cx="496.3" cy="1140.6" r="3.3"/><circle cx="502.4" cy="1143.5" r="3.3"/><circle cx="508.5" cy="1143.4" r="3.3"/><circle cx="514.6" cy="1143.0" r="3.3"/><circle cx="520.8" cy="1143.7" r="3.3"/><circle cx="526.9" cy="1143.0" r="3.3"/><circle cx="533.0" cy="1143.2" r="3.3"/><circle cx="539.1" cy="1143.8" r="3.3"/><circle cx="545.2" cy="1144.0" r="3.3"/><circle cx="551.3" cy="1146.4" r="3.3"/><circle cx="557.4" cy="1142.9" r="3.3"/><circle cx="563.5" cy="1144.6" r="3.3"/><circle cx="569.6" cy="1143.8" r="3.3"/><circle cx="575.7" cy="1146.9" r="3.3"/><circle cx="581.9" cy="1145.1" r="3.3"/><circle cx="588.0" cy="1144.2" r="3.3"/><circle cx="594.1" cy="1145.9" r="3.3"/><circle cx="600.2" cy="1144.8" r="3.3"/><circle cx="606.3" cy="1144.0" r="3.3"/><circle cx="612.4" cy="1147.0" r="3.3"/><circle cx="618.5" cy="1145.8" r="3.3"/><circle cx="624.6" cy="1147.3" r="3.3"/><circle cx="630.7" cy="1146.5" r="3.3"/><circle cx="636.8" cy="1145.9" r="3.3"/><circle cx="643.0" cy="1144.9" r="3.3"/><circle cx="649.1" cy="1143.1" r="3.3"/><circle cx="655.2" cy="1145.8" r="3.3"/><circle cx="661.3" cy="1144.8" r="3.3"/></g>
<rect x="51.0" y="827.8" width="610.9" height="324.4" fill="none" stroke="#000" stroke-width="1.8"/>
<line x1="51.20" y1="1152.2" x2="51.20" y2="1158.6" stroke="#000" stroke-width="1.8"/>
<text x="51.2" y="1184.8" font-size="21" text-anchor="middle">80</text>
<line x1="173.40" y1="1152.2" x2="173.40" y2="1158.6" stroke="#000" stroke-width="1.8"/>
<text x="173.4" y="1184.8" font-size="21" text-anchor="middle">82</text>
<line x1="295.60" y1="1152.2" x2="295.60" y2="1158.6" stroke="#000" stroke-width="1.8"/>
<text x="295.6" y="1184.8" font-size="21" text-anchor="middle">84</text>
<line x1="417.80" y1="1152.2" x2="417.80" y2="1158.6" stroke="#000" stroke-width="1.8"/>
<text x="417.8" y="1184.8" font-size="21" text-anchor="middle">86</text>
<line x1="540.00" y1="1152.2" x2="540.00" y2="1158.6" stroke="#000" stroke-width="1.8"/>
<text x="540.0" y="1184.8" font-size="21" text-anchor="middle">88</text>
<line x1="662.20" y1="1152.2" x2="662.20" y2="1158.6" stroke="#000" stroke-width="1.8"/>
<text x="662.2" y="1184.8" font-size="21" text-anchor="middle">90</text>
<text x="305.6" y="1214.9" font-size="22">Binding energy (eV)</text>
<text transform="translate(18.3 998.4) rotate(-90)" font-size="21.5" text-anchor="middle">Intensity (a.u.)</text>
<text x="68.1" y="856.3" font-size="29.3">(c)</text>
<text x="203.9" y="878.4" font-size="19.5">Au4f7/2</text>
<text x="432.2" y="873.5" font-size="19.5">Au4f5/2</text>
<text x="66.4" y="890.9" font-size="20">Au<tspan font-size="12.9" dy="2">0.1</tspan><tspan dy="-2">/TiO</tspan><tspan font-size="12.9" dy="2">2</tspan></text>
<text x="66.9" y="954.4" font-size="20">Au<tspan font-size="12.9" dy="2">0.3</tspan><tspan dy="-2">/TiO</tspan><tspan font-size="12.9" dy="2">2</tspan></text>
<text x="68.0" y="1034.9" font-size="20">Au<tspan font-size="12.9" dy="2">0.5</tspan><tspan dy="-2">/TiO</tspan><tspan font-size="12.9" dy="2">2</tspan></text>
<text x="68.0" y="1129.6" font-size="20">Au<tspan font-size="12.9" dy="2">1.0</tspan><tspan dy="-2">/TiO</tspan><tspan font-size="12.9" dy="2">2</tspan></text>
</svg>
</body></html>
